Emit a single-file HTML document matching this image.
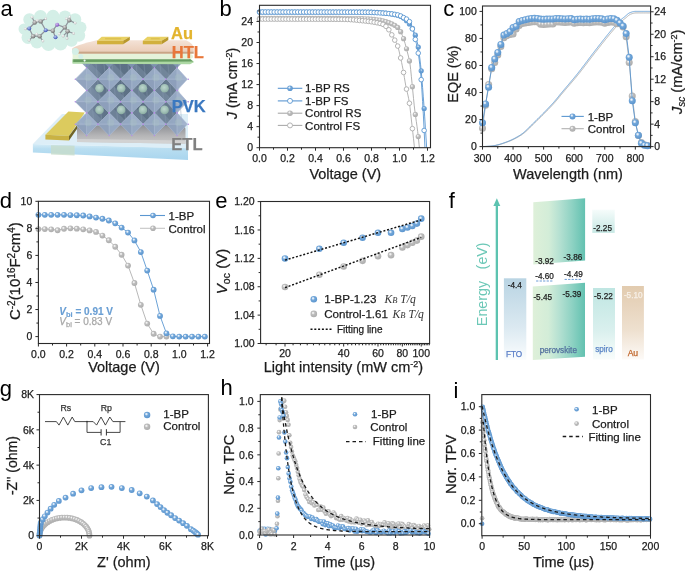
<!DOCTYPE html>
<html><head><meta charset="utf-8"><style>
html,body{margin:0;padding:0;background:#fff;overflow:hidden;}
svg{display:block;will-change:transform;}
</style></head><body>
<svg width="685" height="571" viewBox="0 0 685 571">
<rect width="685" height="571" fill="#fff"/>
<defs>
<radialGradient id="gb" cx="0.42" cy="0.4" r="0.6" fx="0.38" fy="0.34">
 <stop offset="0" stop-color="#f4f8fc"/><stop offset="0.2" stop-color="#d2e3f4"/><stop offset="0.42" stop-color="#74a8da"/><stop offset="1" stop-color="#5b95ce"/>
</radialGradient>
<radialGradient id="gg" cx="0.42" cy="0.4" r="0.6" fx="0.38" fy="0.34">
 <stop offset="0" stop-color="#fafafa"/><stop offset="0.2" stop-color="#e6e6e6"/><stop offset="0.42" stop-color="#bdbdbd"/><stop offset="1" stop-color="#adadad"/>
</radialGradient>
</defs>
<text x="0.4" y="15.5" font-size="22" fill="#000" font-family="'Liberation Sans', sans-serif">a</text>
<text x="219.5" y="15.5" font-size="22" fill="#000" font-family="'Liberation Sans', sans-serif">b</text>
<text x="443.2" y="16.0" font-size="22" fill="#000" font-family="'Liberation Sans', sans-serif">c</text>
<text x="-0.2" y="207.7" font-size="22" fill="#000" font-family="'Liberation Sans', sans-serif">d</text>
<text x="215.3" y="207.7" font-size="22" fill="#000" font-family="'Liberation Sans', sans-serif">e</text>
<text x="448.7" y="207.8" font-size="22" fill="#000" font-family="'Liberation Sans', sans-serif">f</text>
<text x="-0.3" y="395.8" font-size="22" fill="#000" font-family="'Liberation Sans', sans-serif">g</text>
<text x="220.5" y="395.4" font-size="22" fill="#000" font-family="'Liberation Sans', sans-serif">h</text>
<text x="453.5" y="398" font-size="22" fill="#000" font-family="'Liberation Sans', sans-serif">i</text>
<polyline points="259.5,18.3 260.2,18.31 260.9,18.31 261.6,18.31 262.3,18.31 263,18.31 263.7,18.31 264.4,18.32 265.1,18.32 265.8,18.32 266.5,18.32 267.2,18.32 267.9,18.32 268.6,18.33 269.3,18.33 270,18.33 270.7,18.33 271.4,18.33 272.1,18.33 272.8,18.33 273.5,18.34 274.2,18.34 274.9,18.34 275.6,18.34 276.3,18.34 277,18.34 277.7,18.34 278.4,18.34 279.1,18.34 279.8,18.35 280.5,18.35 281.2,18.35 281.9,18.35 282.6,18.35 283.3,18.35 284,18.35 284.7,18.35 285.4,18.35 286.1,18.36 286.8,18.36 287.5,18.36 288.2,18.36 288.9,18.36 289.6,18.36 290.3,18.36 291,18.36 291.7,18.36 292.4,18.36 293.1,18.37 293.8,18.37 294.5,18.37 295.2,18.37 295.9,18.37 296.6,18.37 297.3,18.37 298,18.37 298.7,18.37 299.4,18.38 300.1,18.38 300.8,18.38 301.5,18.38 302.2,18.38 302.9,18.38 303.6,18.38 304.3,18.38 305,18.38 305.7,18.39 306.4,18.39 307.1,18.39 307.8,18.39 308.5,18.39 309.2,18.39 309.9,18.39 310.6,18.39 311.3,18.39 312,18.4 312.7,18.4 313.4,18.4 314.1,18.4 314.8,18.4 315.5,18.4 316.2,18.4 316.9,18.41 317.6,18.41 318.3,18.41 319,18.41 319.7,18.41 320.4,18.41 321.1,18.42 321.8,18.42 322.5,18.42 323.2,18.42 323.9,18.42 324.6,18.42 325.3,18.43 326,18.43 326.7,18.43 327.4,18.43 328.1,18.43 328.8,18.44 329.5,18.44 330.2,18.44 330.9,18.44 331.6,18.45 332.3,18.45 333,18.45 333.7,18.45 334.4,18.45 335.1,18.46 335.8,18.46 336.5,18.46 337.2,18.46 337.9,18.47 338.6,18.47 339.3,18.47 340,18.48 340.7,18.48 341.4,18.48 342.1,18.48 342.8,18.49 343.5,18.49 344.2,18.49 344.9,18.5 345.6,18.5 346.3,18.5 347,18.51 347.7,18.51 348.4,18.51 349.1,18.52 349.8,18.52 350.5,18.53 351.2,18.53 351.9,18.53 352.6,18.54 353.3,18.54 354,18.55 354.7,18.55 355.4,18.55 356.1,18.56 356.8,18.56 357.5,18.57 358.2,18.57 358.9,18.58 359.6,18.59 360.3,18.61 361,18.63 361.7,18.65 362.4,18.67 363.1,18.7 363.8,18.73 364.5,18.76 365.2,18.79 365.9,18.83 366.6,18.87 367.3,18.91 368,18.95 368.7,19 369.4,19.05 370.1,19.1 370.8,19.15 371.5,19.21 372.2,19.27 372.9,19.33 373.6,19.39 374.3,19.46 375,19.52 375.7,19.59 376.4,19.66 377.1,19.73 377.8,19.81 378.5,19.88 379.2,19.97 379.9,20.08 380.6,20.2 381.3,20.35 382,20.51 382.7,20.68 383.4,20.88 384.1,21.08 384.8,21.29 385.5,21.52 386.2,21.76 386.9,22 387.6,22.25 388.3,22.51 389,22.77 389.7,23.04 390.4,23.31 391.1,23.58 391.8,23.87 392.5,24.18 393.2,24.5 393.9,24.86 394.6,25.24 395.3,25.66 396,26.11 396.7,26.62 397.4,27.17 398.1,27.77 398.8,28.57 399.5,29.63 400.2,30.88 400.9,32.23 401.6,33.67 402.3,35.3 403,37.1 403.7,39.05 404.4,41.16 405.1,43.51 405.8,46.05 406.5,48.74 407.2,51.48 407.9,54.15 408.6,56.95 409.3,60.17 410,64.07 410.7,69.67 411.4,76.77 412.1,83.85 412.8,91.02 413.5,98.33 414.2,105.21 414.9,111.2 415.6,116.45 416.3,121.36 417,126.31 417.7,131.67 418.4,137.9 419.1,144.91 419.38,147.7" fill="none" stroke="#a9a9a9" stroke-width="0.9" stroke-linejoin="round" />
<circle cx="259.5" cy="18.3" r="2.6" fill="url(#gg)"/>
<circle cx="262.44" cy="18.31" r="2.6" fill="url(#gg)"/>
<circle cx="265.38" cy="18.32" r="2.6" fill="url(#gg)"/>
<circle cx="268.32" cy="18.32" r="2.6" fill="url(#gg)"/>
<circle cx="271.26" cy="18.33" r="2.6" fill="url(#gg)"/>
<circle cx="274.2" cy="18.34" r="2.6" fill="url(#gg)"/>
<circle cx="277.14" cy="18.34" r="2.6" fill="url(#gg)"/>
<circle cx="280.08" cy="18.35" r="2.6" fill="url(#gg)"/>
<circle cx="283.02" cy="18.35" r="2.6" fill="url(#gg)"/>
<circle cx="285.96" cy="18.36" r="2.6" fill="url(#gg)"/>
<circle cx="288.9" cy="18.36" r="2.6" fill="url(#gg)"/>
<circle cx="291.84" cy="18.36" r="2.6" fill="url(#gg)"/>
<circle cx="294.78" cy="18.37" r="2.6" fill="url(#gg)"/>
<circle cx="297.72" cy="18.37" r="2.6" fill="url(#gg)"/>
<circle cx="300.66" cy="18.38" r="2.6" fill="url(#gg)"/>
<circle cx="303.6" cy="18.38" r="2.6" fill="url(#gg)"/>
<circle cx="306.54" cy="18.39" r="2.6" fill="url(#gg)"/>
<circle cx="309.48" cy="18.39" r="2.6" fill="url(#gg)"/>
<circle cx="312.42" cy="18.4" r="2.6" fill="url(#gg)"/>
<circle cx="315.36" cy="18.4" r="2.6" fill="url(#gg)"/>
<circle cx="318.3" cy="18.41" r="2.6" fill="url(#gg)"/>
<circle cx="321.24" cy="18.42" r="2.6" fill="url(#gg)"/>
<circle cx="324.18" cy="18.42" r="2.6" fill="url(#gg)"/>
<circle cx="327.12" cy="18.43" r="2.6" fill="url(#gg)"/>
<circle cx="330.06" cy="18.44" r="2.6" fill="url(#gg)"/>
<circle cx="333" cy="18.45" r="2.6" fill="url(#gg)"/>
<circle cx="335.94" cy="18.46" r="2.6" fill="url(#gg)"/>
<circle cx="338.88" cy="18.47" r="2.6" fill="url(#gg)"/>
<circle cx="341.82" cy="18.48" r="2.6" fill="url(#gg)"/>
<circle cx="344.76" cy="18.5" r="2.6" fill="url(#gg)"/>
<circle cx="347.7" cy="18.51" r="2.6" fill="url(#gg)"/>
<circle cx="350.64" cy="18.53" r="2.6" fill="url(#gg)"/>
<circle cx="353.58" cy="18.54" r="2.6" fill="url(#gg)"/>
<circle cx="356.52" cy="18.56" r="2.6" fill="url(#gg)"/>
<circle cx="359.46" cy="18.59" r="2.6" fill="url(#gg)"/>
<circle cx="362.4" cy="18.67" r="2.6" fill="url(#gg)"/>
<circle cx="365.34" cy="18.8" r="2.6" fill="url(#gg)"/>
<circle cx="368.28" cy="18.97" r="2.6" fill="url(#gg)"/>
<circle cx="371.22" cy="19.19" r="2.6" fill="url(#gg)"/>
<circle cx="374.16" cy="19.44" r="2.6" fill="url(#gg)"/>
<circle cx="377.1" cy="19.73" r="2.6" fill="url(#gg)"/>
<circle cx="380.04" cy="20.1" r="2.6" fill="url(#gg)"/>
<circle cx="382.98" cy="20.76" r="2.6" fill="url(#gg)"/>
<circle cx="385.92" cy="21.66" r="2.6" fill="url(#gg)"/>
<circle cx="388.86" cy="22.72" r="2.6" fill="url(#gg)"/>
<circle cx="391.8" cy="23.87" r="2.6" fill="url(#gg)"/>
<circle cx="394.74" cy="25.32" r="2.6" fill="url(#gg)"/>
<circle cx="397.68" cy="27.4" r="2.6" fill="url(#gg)"/>
<circle cx="400.62" cy="31.69" r="2.6" fill="url(#gg)"/>
<circle cx="403.56" cy="38.65" r="2.6" fill="url(#gg)"/>
<circle cx="406.5" cy="48.74" r="2.6" fill="url(#gg)"/>
<circle cx="409.44" cy="60.88" r="2.6" fill="url(#gg)"/>
<circle cx="412.38" cy="86.67" r="2.6" fill="url(#gg)"/>
<circle cx="415.32" cy="114.41" r="2.6" fill="url(#gg)"/>
<circle cx="418.26" cy="136.56" r="2.6" fill="url(#gg)"/>
<polyline points="259.5,19.09 260.2,19.1 260.9,19.1 261.6,19.1 262.3,19.1 263,19.1 263.7,19.11 264.4,19.11 265.1,19.11 265.8,19.11 266.5,19.11 267.2,19.11 267.9,19.12 268.6,19.12 269.3,19.12 270,19.12 270.7,19.12 271.4,19.12 272.1,19.13 272.8,19.13 273.5,19.13 274.2,19.13 274.9,19.13 275.6,19.13 276.3,19.13 277,19.14 277.7,19.14 278.4,19.14 279.1,19.14 279.8,19.14 280.5,19.14 281.2,19.14 281.9,19.14 282.6,19.15 283.3,19.15 284,19.15 284.7,19.15 285.4,19.15 286.1,19.15 286.8,19.15 287.5,19.15 288.2,19.16 288.9,19.16 289.6,19.16 290.3,19.16 291,19.16 291.7,19.16 292.4,19.16 293.1,19.16 293.8,19.17 294.5,19.17 295.2,19.17 295.9,19.17 296.6,19.17 297.3,19.17 298,19.17 298.7,19.17 299.4,19.18 300.1,19.18 300.8,19.18 301.5,19.18 302.2,19.18 302.9,19.18 303.6,19.18 304.3,19.19 305,19.19 305.7,19.19 306.4,19.19 307.1,19.19 307.8,19.19 308.5,19.2 309.2,19.2 309.9,19.2 310.6,19.2 311.3,19.2 312,19.21 312.7,19.21 313.4,19.21 314.1,19.21 314.8,19.21 315.5,19.22 316.2,19.22 316.9,19.22 317.6,19.22 318.3,19.22 319,19.23 319.7,19.23 320.4,19.23 321.1,19.23 321.8,19.24 322.5,19.24 323.2,19.24 323.9,19.25 324.6,19.25 325.3,19.25 326,19.25 326.7,19.26 327.4,19.26 328.1,19.26 328.8,19.27 329.5,19.27 330.2,19.27 330.9,19.28 331.6,19.28 332.3,19.29 333,19.29 333.7,19.29 334.4,19.3 335.1,19.3 335.8,19.3 336.5,19.31 337.2,19.31 337.9,19.32 338.6,19.32 339.3,19.33 340,19.33 340.7,19.34 341.4,19.34 342.1,19.35 342.8,19.35 343.5,19.36 344.2,19.36 344.9,19.38 345.6,19.39 346.3,19.42 347,19.44 347.7,19.47 348.4,19.51 349.1,19.54 349.8,19.59 350.5,19.63 351.2,19.68 351.9,19.73 352.6,19.78 353.3,19.84 354,19.9 354.7,19.96 355.4,20.02 356.1,20.09 356.8,20.15 357.5,20.22 358.2,20.29 358.9,20.36 359.6,20.43 360.3,20.5 361,20.57 361.7,20.65 362.4,20.72 363.1,20.79 363.8,20.86 364.5,20.93 365.2,21.01 365.9,21.08 366.6,21.16 367.3,21.24 368,21.33 368.7,21.41 369.4,21.51 370.1,21.6 370.8,21.7 371.5,21.8 372.2,21.91 372.9,22.02 373.6,22.14 374.3,22.26 375,22.38 375.7,22.51 376.4,22.64 377.1,22.78 377.8,22.92 378.5,23.06 379.2,23.22 379.9,23.39 380.6,23.58 381.3,23.79 382,24.02 382.7,24.27 383.4,24.56 384.1,24.9 384.8,25.38 385.5,25.96 386.2,26.63 386.9,27.37 387.6,28.16 388.3,29 389,29.98 389.7,31.12 390.4,32.36 391.1,33.62 391.8,34.85 392.5,36.07 393.2,37.31 393.9,38.57 394.6,39.87 395.3,41.13 396,42.36 396.7,43.7 397.4,45.3 398.1,47.36 398.8,50 399.5,52.99 400.2,56.09 400.9,59.18 401.6,62.42 402.3,65.83 403,69.42 403.7,73.28 404.4,77.59 405.1,81.93 405.8,85.83 406.5,89.1 407.2,92.04 407.9,94.99 408.6,98.29 409.3,102.29 410,107.52 410.7,113.62 411.4,119.98 412.1,126.13 412.8,132.41 413.5,138.78 414.2,145.17 414.48,147.7" fill="none" stroke="#ababab" stroke-width="0.9" stroke-linejoin="round" />
<circle cx="259.5" cy="19.09" r="2.3" fill="#fff" stroke="#ababab" stroke-width="0.9"/>
<circle cx="262.44" cy="19.1" r="2.3" fill="#fff" stroke="#ababab" stroke-width="0.9"/>
<circle cx="265.38" cy="19.11" r="2.3" fill="#fff" stroke="#ababab" stroke-width="0.9"/>
<circle cx="268.32" cy="19.12" r="2.3" fill="#fff" stroke="#ababab" stroke-width="0.9"/>
<circle cx="271.26" cy="19.12" r="2.3" fill="#fff" stroke="#ababab" stroke-width="0.9"/>
<circle cx="274.2" cy="19.13" r="2.3" fill="#fff" stroke="#ababab" stroke-width="0.9"/>
<circle cx="277.14" cy="19.14" r="2.3" fill="#fff" stroke="#ababab" stroke-width="0.9"/>
<circle cx="280.08" cy="19.14" r="2.3" fill="#fff" stroke="#ababab" stroke-width="0.9"/>
<circle cx="283.02" cy="19.15" r="2.3" fill="#fff" stroke="#ababab" stroke-width="0.9"/>
<circle cx="285.96" cy="19.15" r="2.3" fill="#fff" stroke="#ababab" stroke-width="0.9"/>
<circle cx="288.9" cy="19.16" r="2.3" fill="#fff" stroke="#ababab" stroke-width="0.9"/>
<circle cx="291.84" cy="19.16" r="2.3" fill="#fff" stroke="#ababab" stroke-width="0.9"/>
<circle cx="294.78" cy="19.17" r="2.3" fill="#fff" stroke="#ababab" stroke-width="0.9"/>
<circle cx="297.72" cy="19.17" r="2.3" fill="#fff" stroke="#ababab" stroke-width="0.9"/>
<circle cx="300.66" cy="19.18" r="2.3" fill="#fff" stroke="#ababab" stroke-width="0.9"/>
<circle cx="303.6" cy="19.18" r="2.3" fill="#fff" stroke="#ababab" stroke-width="0.9"/>
<circle cx="306.54" cy="19.19" r="2.3" fill="#fff" stroke="#ababab" stroke-width="0.9"/>
<circle cx="309.48" cy="19.2" r="2.3" fill="#fff" stroke="#ababab" stroke-width="0.9"/>
<circle cx="312.42" cy="19.21" r="2.3" fill="#fff" stroke="#ababab" stroke-width="0.9"/>
<circle cx="315.36" cy="19.22" r="2.3" fill="#fff" stroke="#ababab" stroke-width="0.9"/>
<circle cx="318.3" cy="19.22" r="2.3" fill="#fff" stroke="#ababab" stroke-width="0.9"/>
<circle cx="321.24" cy="19.24" r="2.3" fill="#fff" stroke="#ababab" stroke-width="0.9"/>
<circle cx="324.18" cy="19.25" r="2.3" fill="#fff" stroke="#ababab" stroke-width="0.9"/>
<circle cx="327.12" cy="19.26" r="2.3" fill="#fff" stroke="#ababab" stroke-width="0.9"/>
<circle cx="330.06" cy="19.27" r="2.3" fill="#fff" stroke="#ababab" stroke-width="0.9"/>
<circle cx="333" cy="19.29" r="2.3" fill="#fff" stroke="#ababab" stroke-width="0.9"/>
<circle cx="335.94" cy="19.31" r="2.3" fill="#fff" stroke="#ababab" stroke-width="0.9"/>
<circle cx="338.88" cy="19.32" r="2.3" fill="#fff" stroke="#ababab" stroke-width="0.9"/>
<circle cx="341.82" cy="19.34" r="2.3" fill="#fff" stroke="#ababab" stroke-width="0.9"/>
<circle cx="344.76" cy="19.37" r="2.3" fill="#fff" stroke="#ababab" stroke-width="0.9"/>
<circle cx="347.7" cy="19.47" r="2.3" fill="#fff" stroke="#ababab" stroke-width="0.9"/>
<circle cx="350.64" cy="19.64" r="2.3" fill="#fff" stroke="#ababab" stroke-width="0.9"/>
<circle cx="353.58" cy="19.86" r="2.3" fill="#fff" stroke="#ababab" stroke-width="0.9"/>
<circle cx="356.52" cy="20.13" r="2.3" fill="#fff" stroke="#ababab" stroke-width="0.9"/>
<circle cx="359.46" cy="20.42" r="2.3" fill="#fff" stroke="#ababab" stroke-width="0.9"/>
<circle cx="362.4" cy="20.72" r="2.3" fill="#fff" stroke="#ababab" stroke-width="0.9"/>
<circle cx="365.34" cy="21.02" r="2.3" fill="#fff" stroke="#ababab" stroke-width="0.9"/>
<circle cx="368.28" cy="21.36" r="2.3" fill="#fff" stroke="#ababab" stroke-width="0.9"/>
<circle cx="371.22" cy="21.76" r="2.3" fill="#fff" stroke="#ababab" stroke-width="0.9"/>
<circle cx="374.16" cy="22.23" r="2.3" fill="#fff" stroke="#ababab" stroke-width="0.9"/>
<circle cx="377.1" cy="22.78" r="2.3" fill="#fff" stroke="#ababab" stroke-width="0.9"/>
<circle cx="380.04" cy="23.43" r="2.3" fill="#fff" stroke="#ababab" stroke-width="0.9"/>
<circle cx="382.98" cy="24.38" r="2.3" fill="#fff" stroke="#ababab" stroke-width="0.9"/>
<circle cx="385.92" cy="26.35" r="2.3" fill="#fff" stroke="#ababab" stroke-width="0.9"/>
<circle cx="388.86" cy="29.77" r="2.3" fill="#fff" stroke="#ababab" stroke-width="0.9"/>
<circle cx="391.8" cy="34.85" r="2.3" fill="#fff" stroke="#ababab" stroke-width="0.9"/>
<circle cx="394.74" cy="40.13" r="2.3" fill="#fff" stroke="#ababab" stroke-width="0.9"/>
<circle cx="397.68" cy="46.04" r="2.3" fill="#fff" stroke="#ababab" stroke-width="0.9"/>
<circle cx="400.62" cy="57.93" r="2.3" fill="#fff" stroke="#ababab" stroke-width="0.9"/>
<circle cx="403.56" cy="72.46" r="2.3" fill="#fff" stroke="#ababab" stroke-width="0.9"/>
<circle cx="406.5" cy="89.1" r="2.3" fill="#fff" stroke="#ababab" stroke-width="0.9"/>
<circle cx="409.44" cy="103.24" r="2.3" fill="#fff" stroke="#ababab" stroke-width="0.9"/>
<circle cx="412.38" cy="128.63" r="2.3" fill="#fff" stroke="#ababab" stroke-width="0.9"/>
<polyline points="259.5,11.99 260.2,11.99 260.9,11.99 261.6,11.99 262.3,11.99 263,11.99 263.7,11.99 264.4,11.99 265.1,11.99 265.8,11.99 266.5,11.99 267.2,11.99 267.9,11.99 268.6,11.99 269.3,11.99 270,11.99 270.7,11.99 271.4,11.99 272.1,11.99 272.8,11.99 273.5,11.99 274.2,11.99 274.9,11.99 275.6,11.99 276.3,11.99 277,11.99 277.7,11.99 278.4,11.99 279.1,11.99 279.8,11.99 280.5,11.99 281.2,11.99 281.9,11.99 282.6,11.99 283.3,11.99 284,11.99 284.7,11.99 285.4,11.99 286.1,11.99 286.8,11.99 287.5,11.99 288.2,11.99 288.9,11.99 289.6,11.99 290.3,11.99 291,11.99 291.7,11.99 292.4,11.99 293.1,11.99 293.8,11.99 294.5,11.99 295.2,11.99 295.9,11.99 296.6,11.99 297.3,11.99 298,11.99 298.7,11.99 299.4,11.99 300.1,11.99 300.8,11.99 301.5,11.99 302.2,11.99 302.9,11.99 303.6,11.99 304.3,11.99 305,11.99 305.7,11.99 306.4,11.99 307.1,11.99 307.8,11.99 308.5,11.99 309.2,11.99 309.9,11.99 310.6,11.99 311.3,11.99 312,11.99 312.7,11.99 313.4,11.99 314.1,11.99 314.8,11.99 315.5,11.99 316.2,11.99 316.9,11.99 317.6,11.99 318.3,11.99 319,11.99 319.7,11.99 320.4,11.99 321.1,11.99 321.8,11.99 322.5,11.99 323.2,11.99 323.9,11.99 324.6,11.99 325.3,11.99 326,11.99 326.7,11.99 327.4,11.99 328.1,11.99 328.8,11.99 329.5,11.99 330.2,11.99 330.9,11.99 331.6,11.99 332.3,11.99 333,11.99 333.7,11.99 334.4,11.99 335.1,11.99 335.8,11.99 336.5,11.99 337.2,11.99 337.9,11.99 338.6,11.99 339.3,11.99 340,11.99 340.7,11.99 341.4,11.99 342.1,11.99 342.8,11.99 343.5,11.99 344.2,11.99 344.9,11.99 345.6,11.99 346.3,11.99 347,11.99 347.7,11.99 348.4,11.99 349.1,11.99 349.8,11.99 350.5,11.99 351.2,11.99 351.9,11.99 352.6,11.99 353.3,11.99 354,11.99 354.7,11.99 355.4,11.99 356.1,11.99 356.8,11.99 357.5,11.99 358.2,11.99 358.9,11.99 359.6,12 360.3,12 361,12.01 361.7,12.01 362.4,12.02 363.1,12.03 363.8,12.04 364.5,12.05 365.2,12.06 365.9,12.08 366.6,12.09 367.3,12.1 368,12.12 368.7,12.14 369.4,12.15 370.1,12.17 370.8,12.19 371.5,12.21 372.2,12.23 372.9,12.26 373.6,12.28 374.3,12.3 375,12.33 375.7,12.35 376.4,12.38 377.1,12.4 377.8,12.43 378.5,12.46 379.2,12.49 379.9,12.52 380.6,12.55 381.3,12.59 382,12.64 382.7,12.7 383.4,12.77 384.1,12.84 384.8,12.92 385.5,13 386.2,13.1 386.9,13.19 387.6,13.29 388.3,13.4 389,13.51 389.7,13.62 390.4,13.73 391.1,13.85 391.8,13.97 392.5,14.1 393.2,14.22 393.9,14.36 394.6,14.5 395.3,14.65 396,14.82 396.7,15 397.4,15.19 398.1,15.4 398.8,15.62 399.5,15.87 400.2,16.13 400.9,16.41 401.6,16.74 402.3,17.15 403,17.61 403.7,18.14 404.4,18.72 405.1,19.35 405.8,20.02 406.5,20.72 407.2,21.45 407.9,22.2 408.6,22.98 409.3,23.81 410,24.71 410.7,25.68 411.4,26.74 412.1,27.9 412.8,29.17 413.5,30.56 414.2,32.09 414.9,33.9 415.6,36.01 416.3,38.45 417,41.21 417.7,44.32 418.4,47.92 419.1,52.54 419.8,58.02 420.5,64.13 421.2,70.85 421.9,78.75 422.6,87.55 423.3,96.85 424,106.48 424.7,116.93 425.4,127.9 426.1,138.99 426.66,147.7" fill="none" stroke="#5b97d1" stroke-width="0.9" stroke-linejoin="round" />
<circle cx="259.5" cy="11.99" r="2.6" fill="url(#gb)"/>
<circle cx="262.44" cy="11.99" r="2.6" fill="url(#gb)"/>
<circle cx="265.38" cy="11.99" r="2.6" fill="url(#gb)"/>
<circle cx="268.32" cy="11.99" r="2.6" fill="url(#gb)"/>
<circle cx="271.26" cy="11.99" r="2.6" fill="url(#gb)"/>
<circle cx="274.2" cy="11.99" r="2.6" fill="url(#gb)"/>
<circle cx="277.14" cy="11.99" r="2.6" fill="url(#gb)"/>
<circle cx="280.08" cy="11.99" r="2.6" fill="url(#gb)"/>
<circle cx="283.02" cy="11.99" r="2.6" fill="url(#gb)"/>
<circle cx="285.96" cy="11.99" r="2.6" fill="url(#gb)"/>
<circle cx="288.9" cy="11.99" r="2.6" fill="url(#gb)"/>
<circle cx="291.84" cy="11.99" r="2.6" fill="url(#gb)"/>
<circle cx="294.78" cy="11.99" r="2.6" fill="url(#gb)"/>
<circle cx="297.72" cy="11.99" r="2.6" fill="url(#gb)"/>
<circle cx="300.66" cy="11.99" r="2.6" fill="url(#gb)"/>
<circle cx="303.6" cy="11.99" r="2.6" fill="url(#gb)"/>
<circle cx="306.54" cy="11.99" r="2.6" fill="url(#gb)"/>
<circle cx="309.48" cy="11.99" r="2.6" fill="url(#gb)"/>
<circle cx="312.42" cy="11.99" r="2.6" fill="url(#gb)"/>
<circle cx="315.36" cy="11.99" r="2.6" fill="url(#gb)"/>
<circle cx="318.3" cy="11.99" r="2.6" fill="url(#gb)"/>
<circle cx="321.24" cy="11.99" r="2.6" fill="url(#gb)"/>
<circle cx="324.18" cy="11.99" r="2.6" fill="url(#gb)"/>
<circle cx="327.12" cy="11.99" r="2.6" fill="url(#gb)"/>
<circle cx="330.06" cy="11.99" r="2.6" fill="url(#gb)"/>
<circle cx="333" cy="11.99" r="2.6" fill="url(#gb)"/>
<circle cx="335.94" cy="11.99" r="2.6" fill="url(#gb)"/>
<circle cx="338.88" cy="11.99" r="2.6" fill="url(#gb)"/>
<circle cx="341.82" cy="11.99" r="2.6" fill="url(#gb)"/>
<circle cx="344.76" cy="11.99" r="2.6" fill="url(#gb)"/>
<circle cx="347.7" cy="11.99" r="2.6" fill="url(#gb)"/>
<circle cx="350.64" cy="11.99" r="2.6" fill="url(#gb)"/>
<circle cx="353.58" cy="11.99" r="2.6" fill="url(#gb)"/>
<circle cx="356.52" cy="11.99" r="2.6" fill="url(#gb)"/>
<circle cx="359.46" cy="12" r="2.6" fill="url(#gb)"/>
<circle cx="362.4" cy="12.02" r="2.6" fill="url(#gb)"/>
<circle cx="365.34" cy="12.06" r="2.6" fill="url(#gb)"/>
<circle cx="368.28" cy="12.13" r="2.6" fill="url(#gb)"/>
<circle cx="371.22" cy="12.2" r="2.6" fill="url(#gb)"/>
<circle cx="374.16" cy="12.3" r="2.6" fill="url(#gb)"/>
<circle cx="377.1" cy="12.4" r="2.6" fill="url(#gb)"/>
<circle cx="380.04" cy="12.52" r="2.6" fill="url(#gb)"/>
<circle cx="382.98" cy="12.73" r="2.6" fill="url(#gb)"/>
<circle cx="385.92" cy="13.06" r="2.6" fill="url(#gb)"/>
<circle cx="388.86" cy="13.48" r="2.6" fill="url(#gb)"/>
<circle cx="391.8" cy="13.97" r="2.6" fill="url(#gb)"/>
<circle cx="394.74" cy="14.53" r="2.6" fill="url(#gb)"/>
<circle cx="397.68" cy="15.27" r="2.6" fill="url(#gb)"/>
<circle cx="400.62" cy="16.29" r="2.6" fill="url(#gb)"/>
<circle cx="403.56" cy="18.03" r="2.6" fill="url(#gb)"/>
<circle cx="406.5" cy="20.72" r="2.6" fill="url(#gb)"/>
<circle cx="409.44" cy="23.99" r="2.6" fill="url(#gb)"/>
<circle cx="412.38" cy="28.39" r="2.6" fill="url(#gb)"/>
<circle cx="415.32" cy="35.13" r="2.6" fill="url(#gb)"/>
<circle cx="418.26" cy="47.12" r="2.6" fill="url(#gb)"/>
<circle cx="421.2" cy="70.85" r="2.6" fill="url(#gb)"/>
<circle cx="424.14" cy="108.51" r="2.6" fill="url(#gb)"/>
<polyline points="259.5,11.99 260.2,11.99 260.9,12 261.6,12 262.3,12 263,12 263.7,12 264.4,12 265.1,12.01 265.8,12.01 266.5,12.01 267.2,12.01 267.9,12.01 268.6,12.01 269.3,12.01 270,12.02 270.7,12.02 271.4,12.02 272.1,12.02 272.8,12.02 273.5,12.02 274.2,12.02 274.9,12.02 275.6,12.03 276.3,12.03 277,12.03 277.7,12.03 278.4,12.03 279.1,12.03 279.8,12.03 280.5,12.03 281.2,12.03 281.9,12.04 282.6,12.04 283.3,12.04 284,12.04 284.7,12.04 285.4,12.04 286.1,12.04 286.8,12.04 287.5,12.04 288.2,12.04 288.9,12.05 289.6,12.05 290.3,12.05 291,12.05 291.7,12.05 292.4,12.05 293.1,12.05 293.8,12.05 294.5,12.05 295.2,12.05 295.9,12.05 296.6,12.06 297.3,12.06 298,12.06 298.7,12.06 299.4,12.06 300.1,12.06 300.8,12.06 301.5,12.06 302.2,12.06 302.9,12.06 303.6,12.07 304.3,12.07 305,12.07 305.7,12.07 306.4,12.07 307.1,12.07 307.8,12.07 308.5,12.07 309.2,12.07 309.9,12.07 310.6,12.08 311.3,12.08 312,12.08 312.7,12.08 313.4,12.08 314.1,12.08 314.8,12.08 315.5,12.08 316.2,12.09 316.9,12.09 317.6,12.09 318.3,12.09 319,12.09 319.7,12.09 320.4,12.09 321.1,12.09 321.8,12.1 322.5,12.1 323.2,12.1 323.9,12.1 324.6,12.1 325.3,12.1 326,12.11 326.7,12.11 327.4,12.11 328.1,12.11 328.8,12.11 329.5,12.11 330.2,12.12 330.9,12.12 331.6,12.12 332.3,12.12 333,12.12 333.7,12.12 334.4,12.13 335.1,12.13 335.8,12.13 336.5,12.13 337.2,12.13 337.9,12.14 338.6,12.14 339.3,12.14 340,12.14 340.7,12.15 341.4,12.15 342.1,12.15 342.8,12.15 343.5,12.16 344.2,12.16 344.9,12.16 345.6,12.16 346.3,12.17 347,12.17 347.7,12.17 348.4,12.17 349.1,12.18 349.8,12.18 350.5,12.18 351.2,12.19 351.9,12.19 352.6,12.19 353.3,12.2 354,12.2 354.7,12.2 355.4,12.21 356.1,12.21 356.8,12.21 357.5,12.22 358.2,12.22 358.9,12.22 359.6,12.23 360.3,12.23 361,12.23 361.7,12.24 362.4,12.24 363.1,12.25 363.8,12.25 364.5,12.25 365.2,12.26 365.9,12.27 366.6,12.28 367.3,12.29 368,12.31 368.7,12.33 369.4,12.35 370.1,12.37 370.8,12.4 371.5,12.43 372.2,12.46 372.9,12.49 373.6,12.52 374.3,12.56 375,12.6 375.7,12.63 376.4,12.68 377.1,12.72 377.8,12.76 378.5,12.81 379.2,12.85 379.9,12.9 380.6,12.95 381.3,13 382,13.05 382.7,13.1 383.4,13.15 384.1,13.2 384.8,13.25 385.5,13.31 386.2,13.36 386.9,13.42 387.6,13.48 388.3,13.54 389,13.61 389.7,13.68 390.4,13.76 391.1,13.84 391.8,13.92 392.5,14.02 393.2,14.11 393.9,14.22 394.6,14.33 395.3,14.45 396,14.58 396.7,14.72 397.4,14.86 398.1,15.02 398.8,15.18 399.5,15.42 400.2,15.73 400.9,16.09 401.6,16.49 402.3,16.9 403,17.29 403.7,17.66 404.4,17.99 405.1,18.32 405.8,18.68 406.5,19.08 407.2,19.55 407.9,20.08 408.6,20.7 409.3,21.46 410,22.41 410.7,23.93 411.4,25.92 412.1,28.03 412.8,30.21 413.5,32.58 414.2,35.12 414.9,37.78 415.6,40.47 416.3,43.27 417,46.35 417.7,49.87 418.4,54.02 419.1,59 419.8,64.86 420.5,71.62 421.2,79.65 421.9,89.89 422.6,101.61 423.3,113.91 424,127.57 424.7,142.03 424.98,147.7" fill="none" stroke="#5b97d1" stroke-width="0.9" stroke-linejoin="round" />
<circle cx="259.5" cy="11.99" r="2.3" fill="#fff" stroke="#5b97d1" stroke-width="0.9"/>
<circle cx="262.44" cy="12" r="2.3" fill="#fff" stroke="#5b97d1" stroke-width="0.9"/>
<circle cx="265.38" cy="12.01" r="2.3" fill="#fff" stroke="#5b97d1" stroke-width="0.9"/>
<circle cx="268.32" cy="12.01" r="2.3" fill="#fff" stroke="#5b97d1" stroke-width="0.9"/>
<circle cx="271.26" cy="12.02" r="2.3" fill="#fff" stroke="#5b97d1" stroke-width="0.9"/>
<circle cx="274.2" cy="12.02" r="2.3" fill="#fff" stroke="#5b97d1" stroke-width="0.9"/>
<circle cx="277.14" cy="12.03" r="2.3" fill="#fff" stroke="#5b97d1" stroke-width="0.9"/>
<circle cx="280.08" cy="12.03" r="2.3" fill="#fff" stroke="#5b97d1" stroke-width="0.9"/>
<circle cx="283.02" cy="12.04" r="2.3" fill="#fff" stroke="#5b97d1" stroke-width="0.9"/>
<circle cx="285.96" cy="12.04" r="2.3" fill="#fff" stroke="#5b97d1" stroke-width="0.9"/>
<circle cx="288.9" cy="12.05" r="2.3" fill="#fff" stroke="#5b97d1" stroke-width="0.9"/>
<circle cx="291.84" cy="12.05" r="2.3" fill="#fff" stroke="#5b97d1" stroke-width="0.9"/>
<circle cx="294.78" cy="12.05" r="2.3" fill="#fff" stroke="#5b97d1" stroke-width="0.9"/>
<circle cx="297.72" cy="12.06" r="2.3" fill="#fff" stroke="#5b97d1" stroke-width="0.9"/>
<circle cx="300.66" cy="12.06" r="2.3" fill="#fff" stroke="#5b97d1" stroke-width="0.9"/>
<circle cx="303.6" cy="12.07" r="2.3" fill="#fff" stroke="#5b97d1" stroke-width="0.9"/>
<circle cx="306.54" cy="12.07" r="2.3" fill="#fff" stroke="#5b97d1" stroke-width="0.9"/>
<circle cx="309.48" cy="12.07" r="2.3" fill="#fff" stroke="#5b97d1" stroke-width="0.9"/>
<circle cx="312.42" cy="12.08" r="2.3" fill="#fff" stroke="#5b97d1" stroke-width="0.9"/>
<circle cx="315.36" cy="12.08" r="2.3" fill="#fff" stroke="#5b97d1" stroke-width="0.9"/>
<circle cx="318.3" cy="12.09" r="2.3" fill="#fff" stroke="#5b97d1" stroke-width="0.9"/>
<circle cx="321.24" cy="12.09" r="2.3" fill="#fff" stroke="#5b97d1" stroke-width="0.9"/>
<circle cx="324.18" cy="12.1" r="2.3" fill="#fff" stroke="#5b97d1" stroke-width="0.9"/>
<circle cx="327.12" cy="12.11" r="2.3" fill="#fff" stroke="#5b97d1" stroke-width="0.9"/>
<circle cx="330.06" cy="12.11" r="2.3" fill="#fff" stroke="#5b97d1" stroke-width="0.9"/>
<circle cx="333" cy="12.12" r="2.3" fill="#fff" stroke="#5b97d1" stroke-width="0.9"/>
<circle cx="335.94" cy="12.13" r="2.3" fill="#fff" stroke="#5b97d1" stroke-width="0.9"/>
<circle cx="338.88" cy="12.14" r="2.3" fill="#fff" stroke="#5b97d1" stroke-width="0.9"/>
<circle cx="341.82" cy="12.15" r="2.3" fill="#fff" stroke="#5b97d1" stroke-width="0.9"/>
<circle cx="344.76" cy="12.16" r="2.3" fill="#fff" stroke="#5b97d1" stroke-width="0.9"/>
<circle cx="347.7" cy="12.17" r="2.3" fill="#fff" stroke="#5b97d1" stroke-width="0.9"/>
<circle cx="350.64" cy="12.18" r="2.3" fill="#fff" stroke="#5b97d1" stroke-width="0.9"/>
<circle cx="353.58" cy="12.2" r="2.3" fill="#fff" stroke="#5b97d1" stroke-width="0.9"/>
<circle cx="356.52" cy="12.21" r="2.3" fill="#fff" stroke="#5b97d1" stroke-width="0.9"/>
<circle cx="359.46" cy="12.23" r="2.3" fill="#fff" stroke="#5b97d1" stroke-width="0.9"/>
<circle cx="362.4" cy="12.24" r="2.3" fill="#fff" stroke="#5b97d1" stroke-width="0.9"/>
<circle cx="365.34" cy="12.26" r="2.3" fill="#fff" stroke="#5b97d1" stroke-width="0.9"/>
<circle cx="368.28" cy="12.32" r="2.3" fill="#fff" stroke="#5b97d1" stroke-width="0.9"/>
<circle cx="371.22" cy="12.42" r="2.3" fill="#fff" stroke="#5b97d1" stroke-width="0.9"/>
<circle cx="374.16" cy="12.55" r="2.3" fill="#fff" stroke="#5b97d1" stroke-width="0.9"/>
<circle cx="377.1" cy="12.72" r="2.3" fill="#fff" stroke="#5b97d1" stroke-width="0.9"/>
<circle cx="380.04" cy="12.91" r="2.3" fill="#fff" stroke="#5b97d1" stroke-width="0.9"/>
<circle cx="382.98" cy="13.12" r="2.3" fill="#fff" stroke="#5b97d1" stroke-width="0.9"/>
<circle cx="385.92" cy="13.34" r="2.3" fill="#fff" stroke="#5b97d1" stroke-width="0.9"/>
<circle cx="388.86" cy="13.6" r="2.3" fill="#fff" stroke="#5b97d1" stroke-width="0.9"/>
<circle cx="391.8" cy="13.92" r="2.3" fill="#fff" stroke="#5b97d1" stroke-width="0.9"/>
<circle cx="394.74" cy="14.36" r="2.3" fill="#fff" stroke="#5b97d1" stroke-width="0.9"/>
<circle cx="397.68" cy="14.92" r="2.3" fill="#fff" stroke="#5b97d1" stroke-width="0.9"/>
<circle cx="400.62" cy="15.94" r="2.3" fill="#fff" stroke="#5b97d1" stroke-width="0.9"/>
<circle cx="403.56" cy="17.59" r="2.3" fill="#fff" stroke="#5b97d1" stroke-width="0.9"/>
<circle cx="406.5" cy="19.08" r="2.3" fill="#fff" stroke="#5b97d1" stroke-width="0.9"/>
<circle cx="409.44" cy="21.63" r="2.3" fill="#fff" stroke="#5b97d1" stroke-width="0.9"/>
<circle cx="412.38" cy="28.88" r="2.3" fill="#fff" stroke="#5b97d1" stroke-width="0.9"/>
<circle cx="415.32" cy="39.39" r="2.3" fill="#fff" stroke="#5b97d1" stroke-width="0.9"/>
<circle cx="418.26" cy="53.13" r="2.3" fill="#fff" stroke="#5b97d1" stroke-width="0.9"/>
<circle cx="421.2" cy="79.65" r="2.3" fill="#fff" stroke="#5b97d1" stroke-width="0.9"/>
<circle cx="424.14" cy="130.44" r="2.3" fill="#fff" stroke="#5b97d1" stroke-width="0.9"/>
<rect x="259.5" y="5.3" width="171" height="142.4" fill="none" stroke="#2a2a2a" stroke-width="1.1"/>
<line x1="259.5" y1="147.7" x2="259.5" y2="150.7" stroke="#2a2a2a" stroke-width="1" />
<line x1="287.5" y1="147.7" x2="287.5" y2="150.7" stroke="#2a2a2a" stroke-width="1" />
<line x1="315.5" y1="147.7" x2="315.5" y2="150.7" stroke="#2a2a2a" stroke-width="1" />
<line x1="343.5" y1="147.7" x2="343.5" y2="150.7" stroke="#2a2a2a" stroke-width="1" />
<line x1="371.5" y1="147.7" x2="371.5" y2="150.7" stroke="#2a2a2a" stroke-width="1" />
<line x1="399.5" y1="147.7" x2="399.5" y2="150.7" stroke="#2a2a2a" stroke-width="1" />
<line x1="427.5" y1="147.7" x2="427.5" y2="150.7" stroke="#2a2a2a" stroke-width="1" />
<line x1="273.5" y1="147.7" x2="273.5" y2="149.7" stroke="#2a2a2a" stroke-width="1" />
<line x1="301.5" y1="147.7" x2="301.5" y2="149.7" stroke="#2a2a2a" stroke-width="1" />
<line x1="329.5" y1="147.7" x2="329.5" y2="149.7" stroke="#2a2a2a" stroke-width="1" />
<line x1="357.5" y1="147.7" x2="357.5" y2="149.7" stroke="#2a2a2a" stroke-width="1" />
<line x1="385.5" y1="147.7" x2="385.5" y2="149.7" stroke="#2a2a2a" stroke-width="1" />
<line x1="413.5" y1="147.7" x2="413.5" y2="149.7" stroke="#2a2a2a" stroke-width="1" />
<line x1="259.5" y1="147.7" x2="256.5" y2="147.7" stroke="#2a2a2a" stroke-width="1" />
<line x1="259.5" y1="126.66" x2="256.5" y2="126.66" stroke="#2a2a2a" stroke-width="1" />
<line x1="259.5" y1="105.62" x2="256.5" y2="105.62" stroke="#2a2a2a" stroke-width="1" />
<line x1="259.5" y1="84.58" x2="256.5" y2="84.58" stroke="#2a2a2a" stroke-width="1" />
<line x1="259.5" y1="63.54" x2="256.5" y2="63.54" stroke="#2a2a2a" stroke-width="1" />
<line x1="259.5" y1="42.5" x2="256.5" y2="42.5" stroke="#2a2a2a" stroke-width="1" />
<line x1="259.5" y1="21.46" x2="256.5" y2="21.46" stroke="#2a2a2a" stroke-width="1" />
<line x1="259.5" y1="137.18" x2="257.5" y2="137.18" stroke="#2a2a2a" stroke-width="1" />
<line x1="259.5" y1="116.14" x2="257.5" y2="116.14" stroke="#2a2a2a" stroke-width="1" />
<line x1="259.5" y1="95.1" x2="257.5" y2="95.1" stroke="#2a2a2a" stroke-width="1" />
<line x1="259.5" y1="74.06" x2="257.5" y2="74.06" stroke="#2a2a2a" stroke-width="1" />
<line x1="259.5" y1="53.02" x2="257.5" y2="53.02" stroke="#2a2a2a" stroke-width="1" />
<line x1="259.5" y1="31.98" x2="257.5" y2="31.98" stroke="#2a2a2a" stroke-width="1" />
<line x1="259.5" y1="10.94" x2="257.5" y2="10.94" stroke="#2a2a2a" stroke-width="1" />
<text x="259.5" y="162" font-size="10.5" text-anchor="middle" fill="#1c1c1c" stroke="#1c1c1c" stroke-width="0.25" font-weight="normal" font-style="normal" font-family="'Liberation Sans', sans-serif" >0.0</text>
<text x="287.5" y="162" font-size="10.5" text-anchor="middle" fill="#1c1c1c" stroke="#1c1c1c" stroke-width="0.25" font-weight="normal" font-style="normal" font-family="'Liberation Sans', sans-serif" >0.2</text>
<text x="315.5" y="162" font-size="10.5" text-anchor="middle" fill="#1c1c1c" stroke="#1c1c1c" stroke-width="0.25" font-weight="normal" font-style="normal" font-family="'Liberation Sans', sans-serif" >0.4</text>
<text x="343.5" y="162" font-size="10.5" text-anchor="middle" fill="#1c1c1c" stroke="#1c1c1c" stroke-width="0.25" font-weight="normal" font-style="normal" font-family="'Liberation Sans', sans-serif" >0.6</text>
<text x="371.5" y="162" font-size="10.5" text-anchor="middle" fill="#1c1c1c" stroke="#1c1c1c" stroke-width="0.25" font-weight="normal" font-style="normal" font-family="'Liberation Sans', sans-serif" >0.8</text>
<text x="399.5" y="162" font-size="10.5" text-anchor="middle" fill="#1c1c1c" stroke="#1c1c1c" stroke-width="0.25" font-weight="normal" font-style="normal" font-family="'Liberation Sans', sans-serif" >1.0</text>
<text x="427.5" y="162" font-size="10.5" text-anchor="middle" fill="#1c1c1c" stroke="#1c1c1c" stroke-width="0.25" font-weight="normal" font-style="normal" font-family="'Liberation Sans', sans-serif" >1.2</text>
<text x="253" y="151.4" font-size="10.5" text-anchor="end" fill="#1c1c1c" stroke="#1c1c1c" stroke-width="0.25" font-weight="normal" font-style="normal" font-family="'Liberation Sans', sans-serif" >0</text>
<text x="253" y="130.36" font-size="10.5" text-anchor="end" fill="#1c1c1c" stroke="#1c1c1c" stroke-width="0.25" font-weight="normal" font-style="normal" font-family="'Liberation Sans', sans-serif" >4</text>
<text x="253" y="109.32" font-size="10.5" text-anchor="end" fill="#1c1c1c" stroke="#1c1c1c" stroke-width="0.25" font-weight="normal" font-style="normal" font-family="'Liberation Sans', sans-serif" >8</text>
<text x="253" y="88.28" font-size="10.5" text-anchor="end" fill="#1c1c1c" stroke="#1c1c1c" stroke-width="0.25" font-weight="normal" font-style="normal" font-family="'Liberation Sans', sans-serif" >12</text>
<text x="253" y="67.24" font-size="10.5" text-anchor="end" fill="#1c1c1c" stroke="#1c1c1c" stroke-width="0.25" font-weight="normal" font-style="normal" font-family="'Liberation Sans', sans-serif" >16</text>
<text x="253" y="46.2" font-size="10.5" text-anchor="end" fill="#1c1c1c" stroke="#1c1c1c" stroke-width="0.25" font-weight="normal" font-style="normal" font-family="'Liberation Sans', sans-serif" >20</text>
<text x="253" y="25.16" font-size="10.5" text-anchor="end" fill="#1c1c1c" stroke="#1c1c1c" stroke-width="0.25" font-weight="normal" font-style="normal" font-family="'Liberation Sans', sans-serif" >24</text>
<text x="345.3" y="178.6" font-size="14.5" text-anchor="middle" fill="#1c1c1c" stroke="#1c1c1c" stroke-width="0.25" font-weight="normal" font-style="normal" font-family="'Liberation Sans', sans-serif" >Voltage (V)</text>
<text transform="translate(237.2,83.4) rotate(-90)" font-size="14" text-anchor="middle" fill="#1c1c1c" stroke="#1c1c1c" stroke-width="0.25" font-family="'Liberation Sans', sans-serif"><tspan font-style="italic">J</tspan> (mA cm<tspan font-size="9" dy="-5">-2</tspan><tspan dy="5">)</tspan></text>
<line x1="277.8" y1="88.3" x2="302.3" y2="88.3" stroke="#5b97d1" stroke-width="1.1" />
<circle cx="290" cy="88.3" r="2.8" fill="url(#gb)"/>
<text x="305.1" y="92.4" font-size="11.5" text-anchor="start" fill="#1c1c1c" stroke="#1c1c1c" stroke-width="0.25" font-weight="normal" font-style="normal" font-family="'Liberation Sans', sans-serif" >1-BP RS</text>
<line x1="277.8" y1="100.9" x2="302.3" y2="100.9" stroke="#5b97d1" stroke-width="1.1" />
<circle cx="290" cy="100.9" r="2.5" fill="#fff" stroke="#5b97d1" stroke-width="0.9"/>
<text x="305.1" y="105" font-size="11.5" text-anchor="start" fill="#1c1c1c" stroke="#1c1c1c" stroke-width="0.25" font-weight="normal" font-style="normal" font-family="'Liberation Sans', sans-serif" >1-BP FS</text>
<line x1="277.8" y1="113.2" x2="302.3" y2="113.2" stroke="#a9a9a9" stroke-width="1.1" />
<circle cx="290" cy="113.2" r="2.8" fill="url(#gg)"/>
<text x="305.1" y="117.3" font-size="11.5" text-anchor="start" fill="#1c1c1c" stroke="#1c1c1c" stroke-width="0.25" font-weight="normal" font-style="normal" font-family="'Liberation Sans', sans-serif" >Control RS</text>
<line x1="277.8" y1="125.4" x2="302.3" y2="125.4" stroke="#ababab" stroke-width="1.1" />
<circle cx="290" cy="125.4" r="2.5" fill="#fff" stroke="#ababab" stroke-width="0.9"/>
<text x="305.1" y="129.5" font-size="11.5" text-anchor="start" fill="#1c1c1c" stroke="#1c1c1c" stroke-width="0.25" font-weight="normal" font-style="normal" font-family="'Liberation Sans', sans-serif" >Control FS</text>
<polyline points="482.5,146.6 482.81,146.6 483.11,146.6 483.42,146.59 483.72,146.57 484.03,146.56 484.33,146.54 484.64,146.52 484.95,146.51 485.25,146.49 485.56,146.48 485.86,146.46 486.17,146.45 486.47,146.43 486.78,146.42 487.08,146.4 487.39,146.39 487.7,146.37 488,146.35 488.31,146.34 488.61,146.32 488.92,146.3 489.22,146.29 489.53,146.27 489.84,146.25 490.14,146.23 490.45,146.21 490.75,146.19 491.06,146.16 491.36,146.14 491.67,146.11 491.97,146.09 492.28,146.06 492.59,146.03 492.89,146 493.2,145.96 493.5,145.92 493.81,145.87 494.11,145.82 494.42,145.77 494.73,145.71 495.03,145.65 495.34,145.59 495.64,145.53 495.95,145.46 496.25,145.39 496.56,145.33 496.87,145.26 497.17,145.19 497.48,145.11 497.78,145.04 498.09,144.97 498.39,144.9 498.7,144.82 499,144.74 499.31,144.66 499.62,144.58 499.92,144.49 500.23,144.4 500.53,144.31 500.84,144.21 501.14,144.12 501.45,144.02 501.76,143.92 502.06,143.82 502.37,143.72 502.67,143.62 502.98,143.52 503.28,143.41 503.59,143.31 503.89,143.21 504.2,143.1 504.51,143 504.81,142.9 505.12,142.79 505.42,142.68 505.73,142.57 506.03,142.47 506.34,142.36 506.65,142.24 506.95,142.13 507.26,142.02 507.56,141.9 507.87,141.79 508.17,141.67 508.48,141.55 508.79,141.43 509.09,141.31 509.4,141.19 509.7,141.07 510.01,140.94 510.31,140.81 510.62,140.69 510.92,140.56 511.23,140.42 511.54,140.29 511.84,140.15 512.15,140.02 512.45,139.88 512.76,139.73 513.06,139.59 513.37,139.44 513.68,139.29 513.98,139.14 514.29,138.98 514.59,138.83 514.9,138.67 515.2,138.51 515.51,138.35 515.81,138.19 516.12,138.02 516.43,137.86 516.73,137.69 517.04,137.53 517.34,137.36 517.65,137.19 517.95,137.02 518.26,136.85 518.57,136.67 518.87,136.5 519.18,136.32 519.48,136.13 519.79,135.95 520.09,135.76 520.4,135.57 520.71,135.38 521.01,135.19 521.32,134.99 521.62,134.79 521.93,134.58 522.23,134.37 522.54,134.16 522.84,133.94 523.15,133.71 523.46,133.48 523.76,133.24 524.07,132.99 524.37,132.74 524.68,132.48 524.98,132.22 525.29,131.95 525.6,131.68 525.9,131.41 526.21,131.13 526.51,130.86 526.82,130.58 527.12,130.3 527.43,130.02 527.73,129.74 528.04,129.46 528.35,129.17 528.65,128.88 528.96,128.58 529.26,128.28 529.57,127.98 529.87,127.68 530.18,127.38 530.49,127.07 530.79,126.76 531.1,126.46 531.4,126.15 531.71,125.84 532.01,125.53 532.32,125.23 532.62,124.92 532.93,124.62 533.24,124.31 533.54,124.01 533.85,123.71 534.15,123.41 534.46,123.11 534.76,122.81 535.07,122.51 535.38,122.22 535.68,121.92 535.99,121.62 536.29,121.32 536.6,121.03 536.9,120.73 537.21,120.43 537.52,120.13 537.82,119.84 538.13,119.54 538.43,119.24 538.74,118.94 539.04,118.64 539.35,118.35 539.65,118.05 539.96,117.75 540.27,117.45 540.57,117.15 540.88,116.85 541.18,116.55 541.49,116.25 541.79,115.94 542.1,115.64 542.41,115.34 542.71,115.03 543.02,114.73 543.32,114.42 543.63,114.11 543.93,113.81 544.24,113.5 544.54,113.19 544.85,112.88 545.16,112.56 545.46,112.25 545.77,111.94 546.07,111.63 546.38,111.32 546.68,111 546.99,110.69 547.3,110.38 547.6,110.06 547.91,109.75 548.21,109.44 548.52,109.12 548.82,108.81 549.13,108.49 549.44,108.17 549.74,107.85 550.05,107.53 550.35,107.21 550.66,106.89 550.96,106.57 551.27,106.25 551.57,105.92 551.88,105.59 552.19,105.27 552.49,104.94 552.8,104.61 553.1,104.27 553.41,103.94 553.71,103.61 554.02,103.27 554.33,102.93 554.63,102.59 554.94,102.24 555.24,101.9 555.55,101.55 555.85,101.2 556.16,100.84 556.46,100.48 556.77,100.11 557.08,99.74 557.38,99.37 557.69,99 557.99,98.62 558.3,98.24 558.6,97.87 558.91,97.49 559.22,97.11 559.52,96.73 559.83,96.36 560.13,95.98 560.44,95.61 560.74,95.24 561.05,94.88 561.36,94.51 561.66,94.15 561.97,93.78 562.27,93.42 562.58,93.05 562.88,92.69 563.19,92.33 563.49,91.97 563.8,91.61 564.11,91.25 564.41,90.89 564.72,90.53 565.02,90.17 565.33,89.81 565.63,89.45 565.94,89.1 566.25,88.74 566.55,88.38 566.86,88.02 567.16,87.67 567.47,87.31 567.77,86.95 568.08,86.6 568.38,86.24 568.69,85.88 569,85.53 569.3,85.17 569.61,84.81 569.91,84.45 570.22,84.1 570.52,83.74 570.83,83.38 571.14,83.02 571.44,82.66 571.75,82.3 572.05,81.94 572.36,81.58 572.66,81.22 572.97,80.86 573.28,80.5 573.58,80.13 573.89,79.77 574.19,79.41 574.5,79.04 574.8,78.67 575.11,78.31 575.41,77.94 575.72,77.57 576.03,77.2 576.33,76.83 576.64,76.46 576.94,76.09 577.25,75.71 577.55,75.34 577.86,74.96 578.17,74.59 578.47,74.21 578.78,73.83 579.08,73.45 579.39,73.06 579.69,72.68 580,72.3 580.3,71.91 580.61,71.52 580.92,71.13 581.22,70.74 581.53,70.35 581.83,69.96 582.14,69.57 582.44,69.17 582.75,68.78 583.06,68.38 583.36,67.99 583.67,67.59 583.97,67.19 584.28,66.79 584.58,66.39 584.89,65.99 585.2,65.59 585.5,65.19 585.81,64.79 586.11,64.39 586.42,63.99 586.72,63.59 587.03,63.19 587.33,62.78 587.64,62.38 587.95,61.98 588.25,61.58 588.56,61.18 588.86,60.77 589.17,60.37 589.47,59.97 589.78,59.57 590.09,59.17 590.39,58.77 590.7,58.36 591,57.96 591.31,57.56 591.61,57.17 591.92,56.77 592.22,56.37 592.53,55.97 592.84,55.57 593.14,55.18 593.45,54.78 593.75,54.39 594.06,53.99 594.36,53.6 594.67,53.21 594.98,52.82 595.28,52.43 595.59,52.04 595.89,51.66 596.2,51.27 596.5,50.88 596.81,50.49 597.12,50.1 597.42,49.72 597.73,49.33 598.03,48.94 598.34,48.55 598.64,48.16 598.95,47.78 599.25,47.39 599.56,47 599.87,46.61 600.17,46.22 600.48,45.84 600.78,45.45 601.09,45.06 601.39,44.67 601.7,44.29 602.01,43.9 602.31,43.52 602.62,43.13 602.92,42.74 603.23,42.36 603.53,41.98 603.84,41.59 604.14,41.21 604.45,40.82 604.76,40.44 605.06,40.06 605.37,39.68 605.67,39.3 605.98,38.92 606.28,38.54 606.59,38.16 606.9,37.78 607.2,37.41 607.51,37.03 607.81,36.65 608.12,36.28 608.42,35.9 608.73,35.53 609.03,35.16 609.34,34.79 609.65,34.42 609.95,34.05 610.26,33.68 610.56,33.32 610.87,32.95 611.17,32.58 611.48,32.22 611.79,31.86 612.09,31.5 612.4,31.14 612.7,30.78 613.01,30.42 613.31,30.07 613.62,29.71 613.93,29.35 614.23,28.99 614.54,28.63 614.84,28.26 615.15,27.9 615.45,27.54 615.76,27.18 616.06,26.83 616.37,26.47 616.68,26.12 616.98,25.77 617.29,25.43 617.59,25.08 617.9,24.75 618.2,24.42 618.51,24.09 618.82,23.77 619.12,23.45 619.43,23.15 619.73,22.85 620.04,22.56 620.34,22.27 620.65,22 620.95,21.73 621.26,21.46 621.57,21.21 621.87,20.95 622.18,20.7 622.48,20.46 622.79,20.22 623.09,19.98 623.4,19.75 623.71,19.51 624.01,19.28 624.32,19.04 624.62,18.81 624.93,18.58 625.23,18.34 625.54,18.1 625.85,17.86 626.15,17.61 626.46,17.34 626.76,17.07 627.07,16.8 627.37,16.53 627.68,16.26 627.98,15.99 628.29,15.73 628.6,15.47 628.9,15.23 629.21,15 629.51,14.79 629.82,14.6 630.12,14.42 630.43,14.27 630.74,14.15 631.04,14.04 631.35,13.93 631.65,13.83 631.96,13.73 632.26,13.63 632.57,13.53 632.87,13.44 633.18,13.36 633.49,13.28 633.79,13.2 634.1,13.14 634.4,13.08 634.71,13.03 635.01,12.98 635.32,12.95 635.63,12.93 635.93,12.92 636.24,12.92 636.54,12.92 636.85,12.92 637.15,12.92 637.46,12.92 637.77,12.92 638.07,12.92 638.38,12.92 638.68,12.92 638.99,12.92 639.29,12.92 639.6,12.92 639.9,12.92 640.21,12.92 640.52,12.92 640.82,12.92 641.13,12.92 641.43,12.92 641.74,12.92 642.04,12.92 642.35,12.92 642.66,12.92 642.96,12.92 643.27,12.92 643.57,12.92 643.88,12.92 644.18,12.92 644.49,12.92 644.79,12.92 645.1,12.92 645.41,12.92 645.71,12.92 646.02,12.92 646.32,12.92 646.63,12.92 646.93,12.92 647.24,12.92 647.55,12.92 647.85,12.92 648.16,12.92 648.46,12.92 648.77,12.92 649.07,12.92 649.38,12.92 649.69,12.92 649.99,12.92 650.3,12.92 650.6,12.92" fill="none" stroke="#a6a6a6" stroke-width="0.9" stroke-linejoin="round" />
<polyline points="482.5,146.6 482.81,146.58 483.11,146.56 483.42,146.55 483.72,146.53 484.03,146.51 484.33,146.5 484.64,146.48 484.95,146.47 485.25,146.45 485.56,146.44 485.86,146.42 486.17,146.41 486.47,146.39 486.78,146.38 487.08,146.36 487.39,146.34 487.7,146.33 488,146.31 488.31,146.29 488.61,146.27 488.92,146.25 489.22,146.23 489.53,146.21 489.84,146.19 490.14,146.17 490.45,146.15 490.75,146.12 491.06,146.09 491.36,146.07 491.67,146.04 491.97,146.01 492.28,145.97 492.59,145.93 492.89,145.88 493.2,145.84 493.5,145.78 493.81,145.73 494.11,145.67 494.42,145.61 494.73,145.55 495.03,145.48 495.34,145.41 495.64,145.35 495.95,145.28 496.25,145.21 496.56,145.13 496.87,145.06 497.17,144.99 497.48,144.91 497.78,144.84 498.09,144.76 498.39,144.68 498.7,144.6 499,144.51 499.31,144.42 499.62,144.33 499.92,144.24 500.23,144.14 500.53,144.04 500.84,143.94 501.14,143.84 501.45,143.74 501.76,143.64 502.06,143.53 502.37,143.43 502.67,143.33 502.98,143.22 503.28,143.12 503.59,143.01 503.89,142.91 504.2,142.8 504.51,142.69 504.81,142.58 505.12,142.47 505.42,142.36 505.73,142.25 506.03,142.14 506.34,142.02 506.65,141.91 506.95,141.79 507.26,141.67 507.56,141.56 507.87,141.43 508.17,141.31 508.48,141.19 508.79,141.07 509.09,140.94 509.4,140.81 509.7,140.68 510.01,140.55 510.31,140.42 510.62,140.29 510.92,140.15 511.23,140.01 511.54,139.87 511.84,139.73 512.15,139.58 512.45,139.43 512.76,139.28 513.06,139.13 513.37,138.98 513.68,138.82 513.98,138.66 514.29,138.5 514.59,138.34 514.9,138.17 515.2,138.01 515.51,137.84 515.81,137.68 516.12,137.51 516.43,137.34 516.73,137.17 517.04,137 517.34,136.82 517.65,136.65 517.95,136.47 518.26,136.29 518.57,136.11 518.87,135.92 519.18,135.74 519.48,135.55 519.79,135.35 520.09,135.16 520.4,134.96 520.71,134.75 521.01,134.55 521.32,134.34 521.62,134.12 521.93,133.91 522.23,133.68 522.54,133.45 522.84,133.21 523.15,132.96 523.46,132.71 523.76,132.45 524.07,132.19 524.37,131.92 524.68,131.65 524.98,131.37 525.29,131.1 525.6,130.82 525.9,130.54 526.21,130.26 526.51,129.97 526.82,129.69 527.12,129.41 527.43,129.12 527.73,128.82 528.04,128.53 528.35,128.23 528.65,127.93 528.96,127.62 529.26,127.31 529.57,127 529.87,126.7 530.18,126.38 530.49,126.07 530.79,125.76 531.1,125.45 531.4,125.14 531.71,124.83 532.01,124.52 532.32,124.21 532.62,123.91 532.93,123.6 533.24,123.3 533.54,123 533.85,122.69 534.15,122.39 534.46,122.09 534.76,121.79 535.07,121.49 535.38,121.19 535.68,120.89 535.99,120.58 536.29,120.28 536.6,119.98 536.9,119.68 537.21,119.38 537.52,119.08 537.82,118.78 538.13,118.48 538.43,118.18 538.74,117.87 539.04,117.57 539.35,117.27 539.65,116.97 539.96,116.66 540.27,116.36 540.57,116.05 540.88,115.75 541.18,115.44 541.49,115.14 541.79,114.83 542.1,114.52 542.41,114.21 542.71,113.9 543.02,113.59 543.32,113.28 543.63,112.97 543.93,112.65 544.24,112.34 544.54,112.02 544.85,111.71 545.16,111.39 545.46,111.07 545.77,110.76 546.07,110.44 546.38,110.13 546.68,109.81 546.99,109.49 547.3,109.17 547.6,108.86 547.91,108.54 548.21,108.22 548.52,107.9 548.82,107.57 549.13,107.25 549.44,106.93 549.74,106.6 550.05,106.28 550.35,105.95 550.66,105.62 550.96,105.29 551.27,104.96 551.57,104.63 551.88,104.3 552.19,103.96 552.49,103.63 552.8,103.29 553.1,102.95 553.41,102.6 553.71,102.26 554.02,101.91 554.33,101.57 554.63,101.21 554.94,100.86 555.24,100.5 555.55,100.14 555.85,99.77 556.16,99.4 556.46,99.02 556.77,98.65 557.08,98.27 557.38,97.89 557.69,97.51 557.99,97.12 558.3,96.74 558.6,96.36 558.91,95.98 559.22,95.6 559.52,95.22 559.83,94.85 560.13,94.48 560.44,94.1 560.74,93.74 561.05,93.37 561.36,93 561.66,92.63 561.97,92.26 562.27,91.9 562.58,91.53 562.88,91.17 563.19,90.8 563.49,90.44 563.8,90.08 564.11,89.71 564.41,89.35 564.72,88.99 565.02,88.63 565.33,88.26 565.63,87.9 565.94,87.54 566.25,87.18 566.55,86.82 566.86,86.46 567.16,86.1 567.47,85.74 567.77,85.37 568.08,85.01 568.38,84.65 568.69,84.29 569,83.93 569.3,83.57 569.61,83.21 569.91,82.84 570.22,82.48 570.52,82.12 570.83,81.75 571.14,81.39 571.44,81.03 571.75,80.66 572.05,80.3 572.36,79.93 572.66,79.56 572.97,79.2 573.28,78.83 573.58,78.46 573.89,78.09 574.19,77.72 574.5,77.35 574.8,76.98 575.11,76.6 575.41,76.23 575.72,75.85 576.03,75.48 576.33,75.1 576.64,74.72 576.94,74.34 577.25,73.96 577.55,73.58 577.86,73.2 578.17,72.81 578.47,72.42 578.78,72.04 579.08,71.65 579.39,71.26 579.69,70.87 580,70.47 580.3,70.08 580.61,69.68 580.92,69.29 581.22,68.89 581.53,68.49 581.83,68.09 582.14,67.69 582.44,67.29 582.75,66.89 583.06,66.49 583.36,66.09 583.67,65.69 583.97,65.28 584.28,64.88 584.58,64.47 584.89,64.07 585.2,63.66 585.5,63.26 585.81,62.85 586.11,62.44 586.42,62.04 586.72,61.63 587.03,61.22 587.33,60.82 587.64,60.41 587.95,60 588.25,59.6 588.56,59.19 588.86,58.78 589.17,58.38 589.47,57.97 589.78,57.57 590.09,57.16 590.39,56.76 590.7,56.35 591,55.95 591.31,55.55 591.61,55.14 591.92,54.74 592.22,54.34 592.53,53.94 592.84,53.54 593.14,53.14 593.45,52.75 593.75,52.35 594.06,51.95 594.36,51.56 594.67,51.17 594.98,50.77 595.28,50.38 595.59,49.99 595.89,49.6 596.2,49.21 596.5,48.81 596.81,48.42 597.12,48.03 597.42,47.64 597.73,47.24 598.03,46.85 598.34,46.46 598.64,46.07 598.95,45.67 599.25,45.28 599.56,44.89 599.87,44.5 600.17,44.11 600.48,43.71 600.78,43.32 601.09,42.93 601.39,42.54 601.7,42.15 602.01,41.76 602.31,41.37 602.62,40.98 602.92,40.59 603.23,40.21 603.53,39.82 603.84,39.43 604.14,39.04 604.45,38.66 604.76,38.27 605.06,37.89 605.37,37.5 605.67,37.12 605.98,36.74 606.28,36.36 606.59,35.98 606.9,35.6 607.2,35.22 607.51,34.84 607.81,34.46 608.12,34.08 608.42,33.71 608.73,33.33 609.03,32.96 609.34,32.59 609.65,32.22 609.95,31.85 610.26,31.48 610.56,31.11 610.87,30.74 611.17,30.37 611.48,30.01 611.79,29.65 612.09,29.28 612.4,28.92 612.7,28.56 613.01,28.2 613.31,27.84 613.62,27.47 613.93,27.11 614.23,26.74 614.54,26.38 614.84,26.01 615.15,25.65 615.45,25.29 615.76,24.93 616.06,24.58 616.37,24.23 616.68,23.88 616.98,23.53 617.29,23.2 617.59,22.86 617.9,22.54 618.2,22.22 618.51,21.9 618.82,21.59 619.12,21.3 619.43,21 619.73,20.72 620.04,20.44 620.34,20.18 620.65,19.91 620.95,19.65 621.26,19.4 621.57,19.15 621.87,18.91 622.18,18.67 622.48,18.43 622.79,18.19 623.09,17.95 623.4,17.72 623.71,17.48 624.01,17.24 624.32,17.01 624.62,16.77 624.93,16.52 625.23,16.27 625.54,16.01 625.85,15.74 626.15,15.47 626.46,15.19 626.76,14.92 627.07,14.64 627.37,14.37 627.68,14.11 627.98,13.86 628.29,13.62 628.6,13.4 628.9,13.19 629.21,13.01 629.51,12.84 629.82,12.71 630.12,12.59 630.43,12.48 630.74,12.38 631.04,12.27 631.35,12.17 631.65,12.07 631.96,11.98 632.26,11.89 632.57,11.8 632.87,11.73 633.18,11.65 633.49,11.59 633.79,11.53 634.1,11.49 634.4,11.45 634.71,11.42 635.01,11.4 635.32,11.4 635.63,11.4 635.93,11.4 636.24,11.4 636.54,11.4 636.85,11.4 637.15,11.4 637.46,11.4 637.77,11.4 638.07,11.4 638.38,11.4 638.68,11.4 638.99,11.4 639.29,11.4 639.6,11.4 639.9,11.4 640.21,11.4 640.52,11.4 640.82,11.4 641.13,11.4 641.43,11.4 641.74,11.4 642.04,11.4 642.35,11.4 642.66,11.4 642.96,11.4 643.27,11.4 643.57,11.4 643.88,11.4 644.18,11.4 644.49,11.4 644.79,11.4 645.1,11.4 645.41,11.4 645.71,11.4 646.02,11.4 646.32,11.4 646.63,11.4 646.93,11.4 647.24,11.4 647.55,11.4 647.85,11.4 648.16,11.4 648.46,11.4 648.77,11.4 649.07,11.4 649.38,11.4 649.69,11.4 649.99,11.4 650.3,11.4 650.6,11.4" fill="none" stroke="#5b97d1" stroke-width="0.9" stroke-linejoin="round" />
<polyline points="482.5,128.21 485.56,105.36 488.61,84.54 491.67,68.86 494.73,62.51 497.78,54.93 500.84,46.55 503.89,37.76 506.95,35.74 510.01,34.38 513.06,34.11 516.12,28.98 519.18,25.6 522.23,23.57 525.29,22.89 528.35,22.49 531.4,21.95 534.46,21.81 537.52,21.95 540.57,24.24 543.63,24.38 546.68,24.24 549.74,24.11 552.8,24.11 555.85,21.95 558.91,22.08 561.97,22.22 565.02,22.49 568.08,22.22 571.14,22.08 574.19,23.3 577.25,22.76 580.3,22.49 583.36,22.76 586.42,22.49 589.47,22.76 592.53,22.22 595.59,21.95 598.64,21.95 601.7,22.22 604.76,23.16 607.81,22.49 610.87,22.08 613.93,22.22 616.98,23.84 620.04,23.84 623.09,26.95 626.15,36.82 629.21,62.51 632.26,95.9 635.32,121.45 638.38,135.51 641.43,142.54 644.49,144.71 647.55,145.38" fill="none" stroke="#b0b0b0" stroke-width="0.9" stroke-linejoin="round" />
<circle cx="482.5" cy="128.21" r="3.5" fill="url(#gg)"/>
<circle cx="485.56" cy="105.36" r="3.5" fill="url(#gg)"/>
<circle cx="488.61" cy="84.54" r="3.5" fill="url(#gg)"/>
<circle cx="491.67" cy="68.86" r="3.5" fill="url(#gg)"/>
<circle cx="494.73" cy="62.51" r="3.5" fill="url(#gg)"/>
<circle cx="497.78" cy="54.93" r="3.5" fill="url(#gg)"/>
<circle cx="500.84" cy="46.55" r="3.5" fill="url(#gg)"/>
<circle cx="503.89" cy="37.76" r="3.5" fill="url(#gg)"/>
<circle cx="506.95" cy="35.74" r="3.5" fill="url(#gg)"/>
<circle cx="510.01" cy="34.38" r="3.5" fill="url(#gg)"/>
<circle cx="513.06" cy="34.11" r="3.5" fill="url(#gg)"/>
<circle cx="516.12" cy="28.98" r="3.5" fill="url(#gg)"/>
<circle cx="519.18" cy="25.6" r="3.5" fill="url(#gg)"/>
<circle cx="522.23" cy="23.57" r="3.5" fill="url(#gg)"/>
<circle cx="525.29" cy="22.89" r="3.5" fill="url(#gg)"/>
<circle cx="528.35" cy="22.49" r="3.5" fill="url(#gg)"/>
<circle cx="531.4" cy="21.95" r="3.5" fill="url(#gg)"/>
<circle cx="534.46" cy="21.81" r="3.5" fill="url(#gg)"/>
<circle cx="537.52" cy="21.95" r="3.5" fill="url(#gg)"/>
<circle cx="540.57" cy="24.24" r="3.5" fill="url(#gg)"/>
<circle cx="543.63" cy="24.38" r="3.5" fill="url(#gg)"/>
<circle cx="546.68" cy="24.24" r="3.5" fill="url(#gg)"/>
<circle cx="549.74" cy="24.11" r="3.5" fill="url(#gg)"/>
<circle cx="552.8" cy="24.11" r="3.5" fill="url(#gg)"/>
<circle cx="555.85" cy="21.95" r="3.5" fill="url(#gg)"/>
<circle cx="558.91" cy="22.08" r="3.5" fill="url(#gg)"/>
<circle cx="561.97" cy="22.22" r="3.5" fill="url(#gg)"/>
<circle cx="565.02" cy="22.49" r="3.5" fill="url(#gg)"/>
<circle cx="568.08" cy="22.22" r="3.5" fill="url(#gg)"/>
<circle cx="571.14" cy="22.08" r="3.5" fill="url(#gg)"/>
<circle cx="574.19" cy="23.3" r="3.5" fill="url(#gg)"/>
<circle cx="577.25" cy="22.76" r="3.5" fill="url(#gg)"/>
<circle cx="580.3" cy="22.49" r="3.5" fill="url(#gg)"/>
<circle cx="583.36" cy="22.76" r="3.5" fill="url(#gg)"/>
<circle cx="586.42" cy="22.49" r="3.5" fill="url(#gg)"/>
<circle cx="589.47" cy="22.76" r="3.5" fill="url(#gg)"/>
<circle cx="592.53" cy="22.22" r="3.5" fill="url(#gg)"/>
<circle cx="595.59" cy="21.95" r="3.5" fill="url(#gg)"/>
<circle cx="598.64" cy="21.95" r="3.5" fill="url(#gg)"/>
<circle cx="601.7" cy="22.22" r="3.5" fill="url(#gg)"/>
<circle cx="604.76" cy="23.16" r="3.5" fill="url(#gg)"/>
<circle cx="607.81" cy="22.49" r="3.5" fill="url(#gg)"/>
<circle cx="610.87" cy="22.08" r="3.5" fill="url(#gg)"/>
<circle cx="613.93" cy="22.22" r="3.5" fill="url(#gg)"/>
<circle cx="616.98" cy="23.84" r="3.5" fill="url(#gg)"/>
<circle cx="620.04" cy="23.84" r="3.5" fill="url(#gg)"/>
<circle cx="623.09" cy="26.95" r="3.5" fill="url(#gg)"/>
<circle cx="626.15" cy="36.82" r="3.5" fill="url(#gg)"/>
<circle cx="629.21" cy="62.51" r="3.5" fill="url(#gg)"/>
<circle cx="632.26" cy="95.9" r="3.5" fill="url(#gg)"/>
<circle cx="635.32" cy="121.45" r="3.5" fill="url(#gg)"/>
<circle cx="638.38" cy="135.51" r="3.5" fill="url(#gg)"/>
<circle cx="641.43" cy="142.54" r="3.5" fill="url(#gg)"/>
<circle cx="644.49" cy="144.71" r="3.5" fill="url(#gg)"/>
<circle cx="647.55" cy="145.38" r="3.5" fill="url(#gg)"/>
<polyline points="482.5,122.8 485.56,103.88 488.61,87.25 491.67,67.51 494.73,58.99 497.78,52.5 500.84,44.39 503.89,35.06 506.95,33.57 510.01,31.54 513.06,27.62 516.12,26.27 519.18,21.54 522.23,20.46 525.29,19.78 528.35,18.97 531.4,18.43 534.46,18.3 537.52,18.43 540.57,19.11 543.63,19.24 546.68,19.11 549.74,18.97 552.8,18.97 555.85,18.43 558.91,18.57 561.97,18.7 565.02,18.97 568.08,18.7 571.14,18.57 574.19,19.78 577.25,19.24 580.3,18.97 583.36,19.24 586.42,18.97 589.47,19.24 592.53,18.7 595.59,18.43 598.64,18.43 601.7,18.7 604.76,19.65 607.81,18.97 610.87,18.57 613.93,18.7 616.98,20.32 620.04,22.89 623.09,26 626.15,33.57 629.21,57.37 632.26,100.63 635.32,122.67 638.38,135.24 641.43,143.36 644.49,145.25 647.55,145.65" fill="none" stroke="#5b97d1" stroke-width="0.9" stroke-linejoin="round" />
<circle cx="482.5" cy="122.8" r="3.5" fill="url(#gb)"/>
<circle cx="485.56" cy="103.88" r="3.5" fill="url(#gb)"/>
<circle cx="488.61" cy="87.25" r="3.5" fill="url(#gb)"/>
<circle cx="491.67" cy="67.51" r="3.5" fill="url(#gb)"/>
<circle cx="494.73" cy="58.99" r="3.5" fill="url(#gb)"/>
<circle cx="497.78" cy="52.5" r="3.5" fill="url(#gb)"/>
<circle cx="500.84" cy="44.39" r="3.5" fill="url(#gb)"/>
<circle cx="503.89" cy="35.06" r="3.5" fill="url(#gb)"/>
<circle cx="506.95" cy="33.57" r="3.5" fill="url(#gb)"/>
<circle cx="510.01" cy="31.54" r="3.5" fill="url(#gb)"/>
<circle cx="513.06" cy="27.62" r="3.5" fill="url(#gb)"/>
<circle cx="516.12" cy="26.27" r="3.5" fill="url(#gb)"/>
<circle cx="519.18" cy="21.54" r="3.5" fill="url(#gb)"/>
<circle cx="522.23" cy="20.46" r="3.5" fill="url(#gb)"/>
<circle cx="525.29" cy="19.78" r="3.5" fill="url(#gb)"/>
<circle cx="528.35" cy="18.97" r="3.5" fill="url(#gb)"/>
<circle cx="531.4" cy="18.43" r="3.5" fill="url(#gb)"/>
<circle cx="534.46" cy="18.3" r="3.5" fill="url(#gb)"/>
<circle cx="537.52" cy="18.43" r="3.5" fill="url(#gb)"/>
<circle cx="540.57" cy="19.11" r="3.5" fill="url(#gb)"/>
<circle cx="543.63" cy="19.24" r="3.5" fill="url(#gb)"/>
<circle cx="546.68" cy="19.11" r="3.5" fill="url(#gb)"/>
<circle cx="549.74" cy="18.97" r="3.5" fill="url(#gb)"/>
<circle cx="552.8" cy="18.97" r="3.5" fill="url(#gb)"/>
<circle cx="555.85" cy="18.43" r="3.5" fill="url(#gb)"/>
<circle cx="558.91" cy="18.57" r="3.5" fill="url(#gb)"/>
<circle cx="561.97" cy="18.7" r="3.5" fill="url(#gb)"/>
<circle cx="565.02" cy="18.97" r="3.5" fill="url(#gb)"/>
<circle cx="568.08" cy="18.7" r="3.5" fill="url(#gb)"/>
<circle cx="571.14" cy="18.57" r="3.5" fill="url(#gb)"/>
<circle cx="574.19" cy="19.78" r="3.5" fill="url(#gb)"/>
<circle cx="577.25" cy="19.24" r="3.5" fill="url(#gb)"/>
<circle cx="580.3" cy="18.97" r="3.5" fill="url(#gb)"/>
<circle cx="583.36" cy="19.24" r="3.5" fill="url(#gb)"/>
<circle cx="586.42" cy="18.97" r="3.5" fill="url(#gb)"/>
<circle cx="589.47" cy="19.24" r="3.5" fill="url(#gb)"/>
<circle cx="592.53" cy="18.7" r="3.5" fill="url(#gb)"/>
<circle cx="595.59" cy="18.43" r="3.5" fill="url(#gb)"/>
<circle cx="598.64" cy="18.43" r="3.5" fill="url(#gb)"/>
<circle cx="601.7" cy="18.7" r="3.5" fill="url(#gb)"/>
<circle cx="604.76" cy="19.65" r="3.5" fill="url(#gb)"/>
<circle cx="607.81" cy="18.97" r="3.5" fill="url(#gb)"/>
<circle cx="610.87" cy="18.57" r="3.5" fill="url(#gb)"/>
<circle cx="613.93" cy="18.7" r="3.5" fill="url(#gb)"/>
<circle cx="616.98" cy="20.32" r="3.5" fill="url(#gb)"/>
<circle cx="620.04" cy="22.89" r="3.5" fill="url(#gb)"/>
<circle cx="623.09" cy="26" r="3.5" fill="url(#gb)"/>
<circle cx="626.15" cy="33.57" r="3.5" fill="url(#gb)"/>
<circle cx="629.21" cy="57.37" r="3.5" fill="url(#gb)"/>
<circle cx="632.26" cy="100.63" r="3.5" fill="url(#gb)"/>
<circle cx="635.32" cy="122.67" r="3.5" fill="url(#gb)"/>
<circle cx="638.38" cy="135.24" r="3.5" fill="url(#gb)"/>
<circle cx="641.43" cy="143.36" r="3.5" fill="url(#gb)"/>
<circle cx="644.49" cy="145.25" r="3.5" fill="url(#gb)"/>
<circle cx="647.55" cy="145.65" r="3.5" fill="url(#gb)"/>
<rect x="482.5" y="6" width="168.1" height="140.6" fill="none" stroke="#2a2a2a" stroke-width="1.1"/>
<line x1="482.5" y1="146.6" x2="482.5" y2="149.6" stroke="#2a2a2a" stroke-width="1" />
<line x1="513.06" y1="146.6" x2="513.06" y2="149.6" stroke="#2a2a2a" stroke-width="1" />
<line x1="543.63" y1="146.6" x2="543.63" y2="149.6" stroke="#2a2a2a" stroke-width="1" />
<line x1="574.19" y1="146.6" x2="574.19" y2="149.6" stroke="#2a2a2a" stroke-width="1" />
<line x1="604.76" y1="146.6" x2="604.76" y2="149.6" stroke="#2a2a2a" stroke-width="1" />
<line x1="635.32" y1="146.6" x2="635.32" y2="149.6" stroke="#2a2a2a" stroke-width="1" />
<line x1="497.78" y1="146.6" x2="497.78" y2="148.6" stroke="#2a2a2a" stroke-width="1" />
<line x1="528.35" y1="146.6" x2="528.35" y2="148.6" stroke="#2a2a2a" stroke-width="1" />
<line x1="558.91" y1="146.6" x2="558.91" y2="148.6" stroke="#2a2a2a" stroke-width="1" />
<line x1="589.47" y1="146.6" x2="589.47" y2="148.6" stroke="#2a2a2a" stroke-width="1" />
<line x1="620.04" y1="146.6" x2="620.04" y2="148.6" stroke="#2a2a2a" stroke-width="1" />
<line x1="650.6" y1="146.6" x2="650.6" y2="148.6" stroke="#2a2a2a" stroke-width="1" />
<line x1="482.5" y1="146.6" x2="479.5" y2="146.6" stroke="#2a2a2a" stroke-width="1" />
<line x1="482.5" y1="119.56" x2="479.5" y2="119.56" stroke="#2a2a2a" stroke-width="1" />
<line x1="482.5" y1="92.52" x2="479.5" y2="92.52" stroke="#2a2a2a" stroke-width="1" />
<line x1="482.5" y1="65.48" x2="479.5" y2="65.48" stroke="#2a2a2a" stroke-width="1" />
<line x1="482.5" y1="38.44" x2="479.5" y2="38.44" stroke="#2a2a2a" stroke-width="1" />
<line x1="482.5" y1="11.4" x2="479.5" y2="11.4" stroke="#2a2a2a" stroke-width="1" />
<line x1="482.5" y1="133.08" x2="480.5" y2="133.08" stroke="#2a2a2a" stroke-width="1" />
<line x1="482.5" y1="106.04" x2="480.5" y2="106.04" stroke="#2a2a2a" stroke-width="1" />
<line x1="482.5" y1="79" x2="480.5" y2="79" stroke="#2a2a2a" stroke-width="1" />
<line x1="482.5" y1="51.96" x2="480.5" y2="51.96" stroke="#2a2a2a" stroke-width="1" />
<line x1="482.5" y1="24.92" x2="480.5" y2="24.92" stroke="#2a2a2a" stroke-width="1" />
<line x1="650.6" y1="146.6" x2="653.6" y2="146.6" stroke="#2a2a2a" stroke-width="1" />
<line x1="650.6" y1="124.13" x2="653.6" y2="124.13" stroke="#2a2a2a" stroke-width="1" />
<line x1="650.6" y1="101.66" x2="653.6" y2="101.66" stroke="#2a2a2a" stroke-width="1" />
<line x1="650.6" y1="79.2" x2="653.6" y2="79.2" stroke="#2a2a2a" stroke-width="1" />
<line x1="650.6" y1="56.73" x2="653.6" y2="56.73" stroke="#2a2a2a" stroke-width="1" />
<line x1="650.6" y1="34.26" x2="653.6" y2="34.26" stroke="#2a2a2a" stroke-width="1" />
<line x1="650.6" y1="11.79" x2="653.6" y2="11.79" stroke="#2a2a2a" stroke-width="1" />
<line x1="650.6" y1="135.37" x2="652.6" y2="135.37" stroke="#2a2a2a" stroke-width="1" />
<line x1="650.6" y1="112.9" x2="652.6" y2="112.9" stroke="#2a2a2a" stroke-width="1" />
<line x1="650.6" y1="90.43" x2="652.6" y2="90.43" stroke="#2a2a2a" stroke-width="1" />
<line x1="650.6" y1="67.96" x2="652.6" y2="67.96" stroke="#2a2a2a" stroke-width="1" />
<line x1="650.6" y1="45.49" x2="652.6" y2="45.49" stroke="#2a2a2a" stroke-width="1" />
<line x1="650.6" y1="23.03" x2="652.6" y2="23.03" stroke="#2a2a2a" stroke-width="1" />
<text x="482.5" y="162" font-size="10.5" text-anchor="middle" fill="#1c1c1c" stroke="#1c1c1c" stroke-width="0.25" font-weight="normal" font-style="normal" font-family="'Liberation Sans', sans-serif" >300</text>
<text x="513.06" y="162" font-size="10.5" text-anchor="middle" fill="#1c1c1c" stroke="#1c1c1c" stroke-width="0.25" font-weight="normal" font-style="normal" font-family="'Liberation Sans', sans-serif" >400</text>
<text x="543.63" y="162" font-size="10.5" text-anchor="middle" fill="#1c1c1c" stroke="#1c1c1c" stroke-width="0.25" font-weight="normal" font-style="normal" font-family="'Liberation Sans', sans-serif" >500</text>
<text x="574.19" y="162" font-size="10.5" text-anchor="middle" fill="#1c1c1c" stroke="#1c1c1c" stroke-width="0.25" font-weight="normal" font-style="normal" font-family="'Liberation Sans', sans-serif" >600</text>
<text x="604.76" y="162" font-size="10.5" text-anchor="middle" fill="#1c1c1c" stroke="#1c1c1c" stroke-width="0.25" font-weight="normal" font-style="normal" font-family="'Liberation Sans', sans-serif" >700</text>
<text x="635.32" y="162" font-size="10.5" text-anchor="middle" fill="#1c1c1c" stroke="#1c1c1c" stroke-width="0.25" font-weight="normal" font-style="normal" font-family="'Liberation Sans', sans-serif" >800</text>
<text x="476.8" y="150.2" font-size="10.5" text-anchor="end" fill="#1c1c1c" stroke="#1c1c1c" stroke-width="0.25" font-weight="normal" font-style="normal" font-family="'Liberation Sans', sans-serif" >0</text>
<text x="476.8" y="123.16" font-size="10.5" text-anchor="end" fill="#1c1c1c" stroke="#1c1c1c" stroke-width="0.25" font-weight="normal" font-style="normal" font-family="'Liberation Sans', sans-serif" >20</text>
<text x="476.8" y="96.12" font-size="10.5" text-anchor="end" fill="#1c1c1c" stroke="#1c1c1c" stroke-width="0.25" font-weight="normal" font-style="normal" font-family="'Liberation Sans', sans-serif" >40</text>
<text x="476.8" y="69.08" font-size="10.5" text-anchor="end" fill="#1c1c1c" stroke="#1c1c1c" stroke-width="0.25" font-weight="normal" font-style="normal" font-family="'Liberation Sans', sans-serif" >60</text>
<text x="476.8" y="42.04" font-size="10.5" text-anchor="end" fill="#1c1c1c" stroke="#1c1c1c" stroke-width="0.25" font-weight="normal" font-style="normal" font-family="'Liberation Sans', sans-serif" >80</text>
<text x="476.8" y="15" font-size="10.5" text-anchor="end" fill="#1c1c1c" stroke="#1c1c1c" stroke-width="0.25" font-weight="normal" font-style="normal" font-family="'Liberation Sans', sans-serif" >100</text>
<text x="654.3" y="150.3" font-size="10.5" text-anchor="start" fill="#1c1c1c" stroke="#1c1c1c" stroke-width="0.25" font-weight="normal" font-style="normal" font-family="'Liberation Sans', sans-serif" >0</text>
<text x="654.3" y="127.83" font-size="10.5" text-anchor="start" fill="#1c1c1c" stroke="#1c1c1c" stroke-width="0.25" font-weight="normal" font-style="normal" font-family="'Liberation Sans', sans-serif" >4</text>
<text x="654.3" y="105.36" font-size="10.5" text-anchor="start" fill="#1c1c1c" stroke="#1c1c1c" stroke-width="0.25" font-weight="normal" font-style="normal" font-family="'Liberation Sans', sans-serif" >8</text>
<text x="654.3" y="82.9" font-size="10.5" text-anchor="start" fill="#1c1c1c" stroke="#1c1c1c" stroke-width="0.25" font-weight="normal" font-style="normal" font-family="'Liberation Sans', sans-serif" >12</text>
<text x="654.3" y="60.43" font-size="10.5" text-anchor="start" fill="#1c1c1c" stroke="#1c1c1c" stroke-width="0.25" font-weight="normal" font-style="normal" font-family="'Liberation Sans', sans-serif" >16</text>
<text x="654.3" y="37.96" font-size="10.5" text-anchor="start" fill="#1c1c1c" stroke="#1c1c1c" stroke-width="0.25" font-weight="normal" font-style="normal" font-family="'Liberation Sans', sans-serif" >20</text>
<text x="654.3" y="15.49" font-size="10.5" text-anchor="start" fill="#1c1c1c" stroke="#1c1c1c" stroke-width="0.25" font-weight="normal" font-style="normal" font-family="'Liberation Sans', sans-serif" >24</text>
<text x="568" y="178.6" font-size="14.5" text-anchor="middle" fill="#1c1c1c" stroke="#1c1c1c" stroke-width="0.25" font-weight="normal" font-style="normal" font-family="'Liberation Sans', sans-serif" >Wavelength (nm)</text>
<text transform="translate(457.6,74.2) rotate(-90)" x="0" y="0" font-size="14.5" text-anchor="middle" fill="#1c1c1c" stroke="#1c1c1c" stroke-width="0.25" font-family="'Liberation Sans', sans-serif" >EQE (%)</text>
<text transform="translate(682.2,71.8) rotate(-90)" font-size="14.6" text-anchor="middle" fill="#1c1c1c" stroke="#1c1c1c" stroke-width="0.25" font-family="'Liberation Sans', sans-serif"><tspan font-style="italic">J</tspan><tspan font-style="italic" font-size="10" dy="2.5">sc</tspan><tspan dy="-2.5"> (mA/cm</tspan><tspan font-size="9" dy="-5">-2</tspan><tspan dy="5">)</tspan></text>
<line x1="561.5" y1="116.4" x2="583.8" y2="116.4" stroke="#5b97d1" stroke-width="1.1" />
<circle cx="572.5" cy="116.4" r="3" fill="url(#gb)"/>
<text x="587.7" y="120.6" font-size="11.5" text-anchor="start" fill="#1c1c1c" stroke="#1c1c1c" stroke-width="0.25" font-weight="normal" font-style="normal" font-family="'Liberation Sans', sans-serif" >1-BP</text>
<line x1="561.5" y1="128.7" x2="583.8" y2="128.7" stroke="#b0b0b0" stroke-width="1.1" />
<circle cx="572.5" cy="128.7" r="3" fill="url(#gg)"/>
<text x="587.7" y="132.9" font-size="11.5" text-anchor="start" fill="#1c1c1c" stroke="#1c1c1c" stroke-width="0.25" font-weight="normal" font-style="normal" font-family="'Liberation Sans', sans-serif" >Control</text>
<polyline points="38.4,229.04 44.8,229.04 51.2,229.31 57.6,230.25 64.01,228.77 70.41,228.36 76.81,228.63 83.21,229.31 89.61,230.39 96.01,231.88 102.41,235.53 108.82,240.27 115.22,246.76 121.62,254.74 128.02,265.57 134.42,283.02 140.82,304.8 147.22,323.61 153.63,333.76 160.03,336.6 166.43,336.6" fill="none" stroke="#b0b0b0" stroke-width="0.9" stroke-linejoin="round" />
<circle cx="38.4" cy="229.04" r="2.9" fill="url(#gg)"/>
<circle cx="44.8" cy="229.04" r="2.9" fill="url(#gg)"/>
<circle cx="51.2" cy="229.31" r="2.9" fill="url(#gg)"/>
<circle cx="57.6" cy="230.25" r="2.9" fill="url(#gg)"/>
<circle cx="64.01" cy="228.77" r="2.9" fill="url(#gg)"/>
<circle cx="70.41" cy="228.36" r="2.9" fill="url(#gg)"/>
<circle cx="76.81" cy="228.63" r="2.9" fill="url(#gg)"/>
<circle cx="83.21" cy="229.31" r="2.9" fill="url(#gg)"/>
<circle cx="89.61" cy="230.39" r="2.9" fill="url(#gg)"/>
<circle cx="96.01" cy="231.88" r="2.9" fill="url(#gg)"/>
<circle cx="102.41" cy="235.53" r="2.9" fill="url(#gg)"/>
<circle cx="108.82" cy="240.27" r="2.9" fill="url(#gg)"/>
<circle cx="115.22" cy="246.76" r="2.9" fill="url(#gg)"/>
<circle cx="121.62" cy="254.74" r="2.9" fill="url(#gg)"/>
<circle cx="128.02" cy="265.57" r="2.9" fill="url(#gg)"/>
<circle cx="134.42" cy="283.02" r="2.9" fill="url(#gg)"/>
<circle cx="140.82" cy="304.8" r="2.9" fill="url(#gg)"/>
<circle cx="147.22" cy="323.61" r="2.9" fill="url(#gg)"/>
<circle cx="153.63" cy="333.76" r="2.9" fill="url(#gg)"/>
<circle cx="160.03" cy="336.6" r="2.9" fill="url(#gg)"/>
<circle cx="166.43" cy="336.6" r="2.9" fill="url(#gg)"/>
<polyline points="38.4,214.83 44.8,214.83 51.2,214.83 57.6,214.83 64.01,214.83 70.41,215.1 76.81,215.24 83.21,215.51 89.61,216.45 96.01,217.54 102.41,218.75 108.82,220.51 115.22,223.35 121.62,227.55 128.02,232.55 134.42,240.4 140.82,252.04 147.22,270.57 153.63,289.65 160.03,315.9 166.43,333.35 172.83,336.33 179.23,336.6 185.63,336.6 192.03,336.6 198.44,336.6 204.84,336.6" fill="none" stroke="#5b97d1" stroke-width="0.9" stroke-linejoin="round" />
<circle cx="38.4" cy="214.83" r="2.9" fill="url(#gb)"/>
<circle cx="44.8" cy="214.83" r="2.9" fill="url(#gb)"/>
<circle cx="51.2" cy="214.83" r="2.9" fill="url(#gb)"/>
<circle cx="57.6" cy="214.83" r="2.9" fill="url(#gb)"/>
<circle cx="64.01" cy="214.83" r="2.9" fill="url(#gb)"/>
<circle cx="70.41" cy="215.1" r="2.9" fill="url(#gb)"/>
<circle cx="76.81" cy="215.24" r="2.9" fill="url(#gb)"/>
<circle cx="83.21" cy="215.51" r="2.9" fill="url(#gb)"/>
<circle cx="89.61" cy="216.45" r="2.9" fill="url(#gb)"/>
<circle cx="96.01" cy="217.54" r="2.9" fill="url(#gb)"/>
<circle cx="102.41" cy="218.75" r="2.9" fill="url(#gb)"/>
<circle cx="108.82" cy="220.51" r="2.9" fill="url(#gb)"/>
<circle cx="115.22" cy="223.35" r="2.9" fill="url(#gb)"/>
<circle cx="121.62" cy="227.55" r="2.9" fill="url(#gb)"/>
<circle cx="128.02" cy="232.55" r="2.9" fill="url(#gb)"/>
<circle cx="134.42" cy="240.4" r="2.9" fill="url(#gb)"/>
<circle cx="140.82" cy="252.04" r="2.9" fill="url(#gb)"/>
<circle cx="147.22" cy="270.57" r="2.9" fill="url(#gb)"/>
<circle cx="153.63" cy="289.65" r="2.9" fill="url(#gb)"/>
<circle cx="160.03" cy="315.9" r="2.9" fill="url(#gb)"/>
<circle cx="166.43" cy="333.35" r="2.9" fill="url(#gb)"/>
<circle cx="172.83" cy="336.33" r="2.9" fill="url(#gb)"/>
<circle cx="179.23" cy="336.6" r="2.9" fill="url(#gb)"/>
<circle cx="185.63" cy="336.6" r="2.9" fill="url(#gb)"/>
<circle cx="192.03" cy="336.6" r="2.9" fill="url(#gb)"/>
<circle cx="198.44" cy="336.6" r="2.9" fill="url(#gb)"/>
<circle cx="204.84" cy="336.6" r="2.9" fill="url(#gb)"/>
<rect x="38.4" y="201.3" width="171.1" height="142.2" fill="none" stroke="#2a2a2a" stroke-width="1.1"/>
<line x1="38.4" y1="343.5" x2="38.4" y2="346.5" stroke="#2a2a2a" stroke-width="1" />
<line x1="66.6" y1="343.5" x2="66.6" y2="346.5" stroke="#2a2a2a" stroke-width="1" />
<line x1="94.8" y1="343.5" x2="94.8" y2="346.5" stroke="#2a2a2a" stroke-width="1" />
<line x1="123" y1="343.5" x2="123" y2="346.5" stroke="#2a2a2a" stroke-width="1" />
<line x1="151.2" y1="343.5" x2="151.2" y2="346.5" stroke="#2a2a2a" stroke-width="1" />
<line x1="179.4" y1="343.5" x2="179.4" y2="346.5" stroke="#2a2a2a" stroke-width="1" />
<line x1="207.6" y1="343.5" x2="207.6" y2="346.5" stroke="#2a2a2a" stroke-width="1" />
<line x1="52.5" y1="343.5" x2="52.5" y2="345.5" stroke="#2a2a2a" stroke-width="1" />
<line x1="80.7" y1="343.5" x2="80.7" y2="345.5" stroke="#2a2a2a" stroke-width="1" />
<line x1="108.9" y1="343.5" x2="108.9" y2="345.5" stroke="#2a2a2a" stroke-width="1" />
<line x1="137.1" y1="343.5" x2="137.1" y2="345.5" stroke="#2a2a2a" stroke-width="1" />
<line x1="165.3" y1="343.5" x2="165.3" y2="345.5" stroke="#2a2a2a" stroke-width="1" />
<line x1="193.5" y1="343.5" x2="193.5" y2="345.5" stroke="#2a2a2a" stroke-width="1" />
<line x1="38.4" y1="336.6" x2="35.4" y2="336.6" stroke="#2a2a2a" stroke-width="1" />
<line x1="38.4" y1="309.54" x2="35.4" y2="309.54" stroke="#2a2a2a" stroke-width="1" />
<line x1="38.4" y1="282.48" x2="35.4" y2="282.48" stroke="#2a2a2a" stroke-width="1" />
<line x1="38.4" y1="255.42" x2="35.4" y2="255.42" stroke="#2a2a2a" stroke-width="1" />
<line x1="38.4" y1="228.36" x2="35.4" y2="228.36" stroke="#2a2a2a" stroke-width="1" />
<line x1="38.4" y1="201.3" x2="35.4" y2="201.3" stroke="#2a2a2a" stroke-width="1" />
<line x1="38.4" y1="323.07" x2="36.4" y2="323.07" stroke="#2a2a2a" stroke-width="1" />
<line x1="38.4" y1="296.01" x2="36.4" y2="296.01" stroke="#2a2a2a" stroke-width="1" />
<line x1="38.4" y1="268.95" x2="36.4" y2="268.95" stroke="#2a2a2a" stroke-width="1" />
<line x1="38.4" y1="241.89" x2="36.4" y2="241.89" stroke="#2a2a2a" stroke-width="1" />
<line x1="38.4" y1="214.83" x2="36.4" y2="214.83" stroke="#2a2a2a" stroke-width="1" />
<text x="38.4" y="357.6" font-size="10.5" text-anchor="middle" fill="#1c1c1c" stroke="#1c1c1c" stroke-width="0.25" font-weight="normal" font-style="normal" font-family="'Liberation Sans', sans-serif" >0.0</text>
<text x="66.6" y="357.6" font-size="10.5" text-anchor="middle" fill="#1c1c1c" stroke="#1c1c1c" stroke-width="0.25" font-weight="normal" font-style="normal" font-family="'Liberation Sans', sans-serif" >0.2</text>
<text x="94.8" y="357.6" font-size="10.5" text-anchor="middle" fill="#1c1c1c" stroke="#1c1c1c" stroke-width="0.25" font-weight="normal" font-style="normal" font-family="'Liberation Sans', sans-serif" >0.4</text>
<text x="123" y="357.6" font-size="10.5" text-anchor="middle" fill="#1c1c1c" stroke="#1c1c1c" stroke-width="0.25" font-weight="normal" font-style="normal" font-family="'Liberation Sans', sans-serif" >0.6</text>
<text x="151.2" y="357.6" font-size="10.5" text-anchor="middle" fill="#1c1c1c" stroke="#1c1c1c" stroke-width="0.25" font-weight="normal" font-style="normal" font-family="'Liberation Sans', sans-serif" >0.8</text>
<text x="179.4" y="357.6" font-size="10.5" text-anchor="middle" fill="#1c1c1c" stroke="#1c1c1c" stroke-width="0.25" font-weight="normal" font-style="normal" font-family="'Liberation Sans', sans-serif" >1.0</text>
<text x="207.6" y="357.6" font-size="10.5" text-anchor="middle" fill="#1c1c1c" stroke="#1c1c1c" stroke-width="0.25" font-weight="normal" font-style="normal" font-family="'Liberation Sans', sans-serif" >1.2</text>
<text x="32.3" y="340.3" font-size="10.5" text-anchor="end" fill="#1c1c1c" stroke="#1c1c1c" stroke-width="0.25" font-weight="normal" font-style="normal" font-family="'Liberation Sans', sans-serif" >0</text>
<text x="32.3" y="313.24" font-size="10.5" text-anchor="end" fill="#1c1c1c" stroke="#1c1c1c" stroke-width="0.25" font-weight="normal" font-style="normal" font-family="'Liberation Sans', sans-serif" >2</text>
<text x="32.3" y="286.18" font-size="10.5" text-anchor="end" fill="#1c1c1c" stroke="#1c1c1c" stroke-width="0.25" font-weight="normal" font-style="normal" font-family="'Liberation Sans', sans-serif" >4</text>
<text x="32.3" y="259.12" font-size="10.5" text-anchor="end" fill="#1c1c1c" stroke="#1c1c1c" stroke-width="0.25" font-weight="normal" font-style="normal" font-family="'Liberation Sans', sans-serif" >6</text>
<text x="32.3" y="232.06" font-size="10.5" text-anchor="end" fill="#1c1c1c" stroke="#1c1c1c" stroke-width="0.25" font-weight="normal" font-style="normal" font-family="'Liberation Sans', sans-serif" >8</text>
<text x="32.3" y="205" font-size="10.5" text-anchor="end" fill="#1c1c1c" stroke="#1c1c1c" stroke-width="0.25" font-weight="normal" font-style="normal" font-family="'Liberation Sans', sans-serif" >10</text>
<text x="124" y="371.5" font-size="14.5" text-anchor="middle" fill="#1c1c1c" stroke="#1c1c1c" stroke-width="0.25" font-weight="normal" font-style="normal" font-family="'Liberation Sans', sans-serif" >Voltage (V)</text>
<text transform="translate(20.3,271.2) rotate(-90)" font-size="15" text-anchor="middle" fill="#1c1c1c" stroke="#1c1c1c" stroke-width="0.25" font-family="'Liberation Sans', sans-serif">C<tspan font-size="10" dy="-5.5">-2</tspan><tspan dy="5.5">(10</tspan><tspan font-size="10" dy="-5.5">16</tspan><tspan dy="5.5">F</tspan><tspan font-size="10" dy="-5.5">2</tspan><tspan dy="5.5">cm</tspan><tspan font-size="10" dy="-5.5">4</tspan><tspan dy="5.5">)</tspan></text>
<line x1="140" y1="215.5" x2="165" y2="215.5" stroke="#5b97d1" stroke-width="1.1" />
<circle cx="153" cy="215.5" r="2.8" fill="url(#gb)"/>
<text x="168.5" y="219.7" font-size="11.5" text-anchor="start" fill="#1c1c1c" stroke="#1c1c1c" stroke-width="0.25" font-weight="normal" font-style="normal" font-family="'Liberation Sans', sans-serif" >1-BP</text>
<line x1="140" y1="228.3" x2="165" y2="228.3" stroke="#c4c4c4" stroke-width="1.1" />
<circle cx="153" cy="228.3" r="2.8" fill="url(#gg)"/>
<text x="168.5" y="232.5" font-size="11.5" text-anchor="start" fill="#1c1c1c" stroke="#1c1c1c" stroke-width="0.25" font-weight="normal" font-style="normal" font-family="'Liberation Sans', sans-serif" >Control</text>
<text x="59.3" y="314.6" font-size="10" font-weight="bold" fill="#6a9fd4" stroke="#6a9fd4" stroke-width="0.15" font-family="'Liberation Sans', sans-serif"><tspan font-style="italic">V</tspan><tspan font-size="7.5" dy="2">bi</tspan><tspan dy="-2"> = 0.91 V</tspan></text>
<text x="59.3" y="325.2" font-size="10" fill="#a8a8a8" stroke="#a8a8a8" stroke-width="0.25" font-family="'Liberation Sans', sans-serif"><tspan font-style="italic">V</tspan><tspan font-size="7.5" dy="2">bi</tspan><tspan dy="-2"> = 0.83 V</tspan></text>
<circle cx="285" cy="287.02" r="3.3" fill="url(#gg)"/>
<circle cx="319.32" cy="274.68" r="3.3" fill="url(#gg)"/>
<circle cx="343.67" cy="266.52" r="3.3" fill="url(#gg)"/>
<circle cx="362.56" cy="260.84" r="3.3" fill="url(#gg)"/>
<circle cx="377.99" cy="256.23" r="3.3" fill="url(#gg)"/>
<circle cx="391.04" cy="255.17" r="3.3" fill="url(#gg)"/>
<circle cx="402.34" cy="247.43" r="3.3" fill="url(#gg)"/>
<circle cx="407.47" cy="245.09" r="3.3" fill="url(#gg)"/>
<circle cx="412.31" cy="242.75" r="3.3" fill="url(#gg)"/>
<circle cx="416.89" cy="240.62" r="3.3" fill="url(#gg)"/>
<circle cx="421.23" cy="236.65" r="3.3" fill="url(#gg)"/>
<circle cx="285" cy="258.43" r="3.3" fill="url(#gb)"/>
<circle cx="319.32" cy="248.78" r="3.3" fill="url(#gb)"/>
<circle cx="343.67" cy="242.75" r="3.3" fill="url(#gb)"/>
<circle cx="362.56" cy="237.78" r="3.3" fill="url(#gb)"/>
<circle cx="377.99" cy="232.82" r="3.3" fill="url(#gb)"/>
<circle cx="391.04" cy="232.82" r="3.3" fill="url(#gb)"/>
<circle cx="402.34" cy="228.99" r="3.3" fill="url(#gb)"/>
<circle cx="407.47" cy="227.57" r="3.3" fill="url(#gb)"/>
<circle cx="412.31" cy="226.01" r="3.3" fill="url(#gb)"/>
<circle cx="416.89" cy="223.59" r="3.3" fill="url(#gb)"/>
<circle cx="421.23" cy="218.63" r="3.3" fill="url(#gb)"/>
<line x1="285" y1="260.13" x2="421.23" y2="219.91" stroke="#111" stroke-width="1.45" stroke-dasharray="2 1.8"/>
<line x1="285" y1="287.66" x2="421.23" y2="237.36" stroke="#111" stroke-width="1.45" stroke-dasharray="2 1.8"/>
<rect x="260.6" y="201.5" width="169" height="142" fill="none" stroke="#2a2a2a" stroke-width="1.1"/>
<line x1="285" y1="343.5" x2="285" y2="346.5" stroke="#2a2a2a" stroke-width="1" />
<line x1="343.67" y1="343.5" x2="343.67" y2="346.5" stroke="#2a2a2a" stroke-width="1" />
<line x1="377.99" y1="343.5" x2="377.99" y2="346.5" stroke="#2a2a2a" stroke-width="1" />
<line x1="402.34" y1="343.5" x2="402.34" y2="346.5" stroke="#2a2a2a" stroke-width="1" />
<line x1="421.23" y1="343.5" x2="421.23" y2="346.5" stroke="#2a2a2a" stroke-width="1" />
<line x1="266.11" y1="343.5" x2="266.11" y2="345.3" stroke="#2a2a2a" stroke-width="1" />
<line x1="276.08" y1="343.5" x2="276.08" y2="345.3" stroke="#2a2a2a" stroke-width="1" />
<line x1="293.07" y1="343.5" x2="293.07" y2="345.3" stroke="#2a2a2a" stroke-width="1" />
<line x1="300.43" y1="343.5" x2="300.43" y2="345.3" stroke="#2a2a2a" stroke-width="1" />
<line x1="307.21" y1="343.5" x2="307.21" y2="345.3" stroke="#2a2a2a" stroke-width="1" />
<line x1="313.48" y1="343.5" x2="313.48" y2="345.3" stroke="#2a2a2a" stroke-width="1" />
<line x1="319.32" y1="343.5" x2="319.32" y2="345.3" stroke="#2a2a2a" stroke-width="1" />
<line x1="324.78" y1="343.5" x2="324.78" y2="345.3" stroke="#2a2a2a" stroke-width="1" />
<line x1="329.91" y1="343.5" x2="329.91" y2="345.3" stroke="#2a2a2a" stroke-width="1" />
<line x1="334.75" y1="343.5" x2="334.75" y2="345.3" stroke="#2a2a2a" stroke-width="1" />
<line x1="339.33" y1="343.5" x2="339.33" y2="345.3" stroke="#2a2a2a" stroke-width="1" />
<line x1="347.8" y1="343.5" x2="347.8" y2="345.3" stroke="#2a2a2a" stroke-width="1" />
<line x1="351.74" y1="343.5" x2="351.74" y2="345.3" stroke="#2a2a2a" stroke-width="1" />
<line x1="355.5" y1="343.5" x2="355.5" y2="345.3" stroke="#2a2a2a" stroke-width="1" />
<line x1="359.1" y1="343.5" x2="359.1" y2="345.3" stroke="#2a2a2a" stroke-width="1" />
<line x1="362.56" y1="343.5" x2="362.56" y2="345.3" stroke="#2a2a2a" stroke-width="1" />
<line x1="365.88" y1="343.5" x2="365.88" y2="345.3" stroke="#2a2a2a" stroke-width="1" />
<line x1="369.07" y1="343.5" x2="369.07" y2="345.3" stroke="#2a2a2a" stroke-width="1" />
<line x1="372.15" y1="343.5" x2="372.15" y2="345.3" stroke="#2a2a2a" stroke-width="1" />
<line x1="375.12" y1="343.5" x2="375.12" y2="345.3" stroke="#2a2a2a" stroke-width="1" />
<line x1="380.77" y1="343.5" x2="380.77" y2="345.3" stroke="#2a2a2a" stroke-width="1" />
<line x1="383.45" y1="343.5" x2="383.45" y2="345.3" stroke="#2a2a2a" stroke-width="1" />
<line x1="386.06" y1="343.5" x2="386.06" y2="345.3" stroke="#2a2a2a" stroke-width="1" />
<line x1="388.59" y1="343.5" x2="388.59" y2="345.3" stroke="#2a2a2a" stroke-width="1" />
<line x1="391.04" y1="343.5" x2="391.04" y2="345.3" stroke="#2a2a2a" stroke-width="1" />
<line x1="393.42" y1="343.5" x2="393.42" y2="345.3" stroke="#2a2a2a" stroke-width="1" />
<line x1="395.74" y1="343.5" x2="395.74" y2="345.3" stroke="#2a2a2a" stroke-width="1" />
<line x1="398" y1="343.5" x2="398" y2="345.3" stroke="#2a2a2a" stroke-width="1" />
<line x1="400.2" y1="343.5" x2="400.2" y2="345.3" stroke="#2a2a2a" stroke-width="1" />
<line x1="404.43" y1="343.5" x2="404.43" y2="345.3" stroke="#2a2a2a" stroke-width="1" />
<line x1="406.47" y1="343.5" x2="406.47" y2="345.3" stroke="#2a2a2a" stroke-width="1" />
<line x1="408.46" y1="343.5" x2="408.46" y2="345.3" stroke="#2a2a2a" stroke-width="1" />
<line x1="410.41" y1="343.5" x2="410.41" y2="345.3" stroke="#2a2a2a" stroke-width="1" />
<line x1="412.31" y1="343.5" x2="412.31" y2="345.3" stroke="#2a2a2a" stroke-width="1" />
<line x1="414.17" y1="343.5" x2="414.17" y2="345.3" stroke="#2a2a2a" stroke-width="1" />
<line x1="415.99" y1="343.5" x2="415.99" y2="345.3" stroke="#2a2a2a" stroke-width="1" />
<line x1="417.77" y1="343.5" x2="417.77" y2="345.3" stroke="#2a2a2a" stroke-width="1" />
<line x1="419.52" y1="343.5" x2="419.52" y2="345.3" stroke="#2a2a2a" stroke-width="1" />
<line x1="422.91" y1="343.5" x2="422.91" y2="345.3" stroke="#2a2a2a" stroke-width="1" />
<line x1="424.55" y1="343.5" x2="424.55" y2="345.3" stroke="#2a2a2a" stroke-width="1" />
<line x1="426.16" y1="343.5" x2="426.16" y2="345.3" stroke="#2a2a2a" stroke-width="1" />
<line x1="427.74" y1="343.5" x2="427.74" y2="345.3" stroke="#2a2a2a" stroke-width="1" />
<line x1="429.3" y1="343.5" x2="429.3" y2="345.3" stroke="#2a2a2a" stroke-width="1" />
<line x1="260.6" y1="343.5" x2="257.6" y2="343.5" stroke="#2a2a2a" stroke-width="1" />
<line x1="260.6" y1="315.12" x2="257.6" y2="315.12" stroke="#2a2a2a" stroke-width="1" />
<line x1="260.6" y1="286.74" x2="257.6" y2="286.74" stroke="#2a2a2a" stroke-width="1" />
<line x1="260.6" y1="258.36" x2="257.6" y2="258.36" stroke="#2a2a2a" stroke-width="1" />
<line x1="260.6" y1="229.98" x2="257.6" y2="229.98" stroke="#2a2a2a" stroke-width="1" />
<line x1="260.6" y1="201.6" x2="257.6" y2="201.6" stroke="#2a2a2a" stroke-width="1" />
<line x1="260.6" y1="329.31" x2="258.6" y2="329.31" stroke="#2a2a2a" stroke-width="1" />
<line x1="260.6" y1="300.93" x2="258.6" y2="300.93" stroke="#2a2a2a" stroke-width="1" />
<line x1="260.6" y1="272.55" x2="258.6" y2="272.55" stroke="#2a2a2a" stroke-width="1" />
<line x1="260.6" y1="244.17" x2="258.6" y2="244.17" stroke="#2a2a2a" stroke-width="1" />
<line x1="260.6" y1="215.79" x2="258.6" y2="215.79" stroke="#2a2a2a" stroke-width="1" />
<text x="285" y="357.2" font-size="10.5" text-anchor="middle" fill="#1c1c1c" stroke="#1c1c1c" stroke-width="0.25" font-weight="normal" font-style="normal" font-family="'Liberation Sans', sans-serif" >20</text>
<text x="343.67" y="357.2" font-size="10.5" text-anchor="middle" fill="#1c1c1c" stroke="#1c1c1c" stroke-width="0.25" font-weight="normal" font-style="normal" font-family="'Liberation Sans', sans-serif" >40</text>
<text x="377.99" y="357.2" font-size="10.5" text-anchor="middle" fill="#1c1c1c" stroke="#1c1c1c" stroke-width="0.25" font-weight="normal" font-style="normal" font-family="'Liberation Sans', sans-serif" >60</text>
<text x="402.34" y="357.2" font-size="10.5" text-anchor="middle" fill="#1c1c1c" stroke="#1c1c1c" stroke-width="0.25" font-weight="normal" font-style="normal" font-family="'Liberation Sans', sans-serif" >80</text>
<text x="421.23" y="357.2" font-size="10.5" text-anchor="middle" fill="#1c1c1c" stroke="#1c1c1c" stroke-width="0.25" font-weight="normal" font-style="normal" font-family="'Liberation Sans', sans-serif" >100</text>
<text x="254.6" y="347.2" font-size="10.5" text-anchor="end" fill="#1c1c1c" stroke="#1c1c1c" stroke-width="0.25" font-weight="normal" font-style="normal" font-family="'Liberation Sans', sans-serif" >1.00</text>
<text x="254.6" y="318.82" font-size="10.5" text-anchor="end" fill="#1c1c1c" stroke="#1c1c1c" stroke-width="0.25" font-weight="normal" font-style="normal" font-family="'Liberation Sans', sans-serif" >1.04</text>
<text x="254.6" y="290.44" font-size="10.5" text-anchor="end" fill="#1c1c1c" stroke="#1c1c1c" stroke-width="0.25" font-weight="normal" font-style="normal" font-family="'Liberation Sans', sans-serif" >1.08</text>
<text x="254.6" y="262.06" font-size="10.5" text-anchor="end" fill="#1c1c1c" stroke="#1c1c1c" stroke-width="0.25" font-weight="normal" font-style="normal" font-family="'Liberation Sans', sans-serif" >1.12</text>
<text x="254.6" y="233.68" font-size="10.5" text-anchor="end" fill="#1c1c1c" stroke="#1c1c1c" stroke-width="0.25" font-weight="normal" font-style="normal" font-family="'Liberation Sans', sans-serif" >1.16</text>
<text x="254.6" y="205.3" font-size="10.5" text-anchor="end" fill="#1c1c1c" stroke="#1c1c1c" stroke-width="0.25" font-weight="normal" font-style="normal" font-family="'Liberation Sans', sans-serif" >1.20</text>
<text x="343.4" y="372" font-size="14.5" text-anchor="middle" fill="#1c1c1c" stroke="#1c1c1c" stroke-width="0.25" font-weight="normal" font-style="normal" font-family="'Liberation Sans', sans-serif" >Light intensity (mW cm<tspan font-size="9" dy="-5">-2</tspan><tspan dy="5">)</tspan></text>
<text transform="translate(227.3,271.5) rotate(-90)" font-size="15" text-anchor="middle" fill="#1c1c1c" stroke="#1c1c1c" stroke-width="0.25" font-family="'Liberation Sans', sans-serif"><tspan font-style="italic">V</tspan><tspan font-size="10.5" dy="3">oc</tspan><tspan dy="-3"> (V)</tspan></text>
<circle cx="313.8" cy="299.3" r="3.3" fill="url(#gb)"/>
<text x="324.2" y="303.2" font-size="11.6" text-anchor="start" fill="#1c1c1c" stroke="#1c1c1c" stroke-width="0.25" font-weight="normal" font-style="normal" font-family="'Liberation Sans', sans-serif" >1-BP-1.23</text>
<text x="384.4" y="303.2" font-size="11.6" font-style="italic" fill="#333" font-family="'Liberation Serif', serif">K<tspan font-size="8.5">B</tspan> T/q</text>
<circle cx="313.8" cy="313.9" r="3.3" fill="url(#gg)"/>
<text x="324.2" y="317.8" font-size="11.6" text-anchor="start" fill="#1c1c1c" stroke="#1c1c1c" stroke-width="0.25" font-weight="normal" font-style="normal" font-family="'Liberation Sans', sans-serif" >Control-1.61</text>
<text x="392.6" y="317.8" font-size="11.6" font-style="italic" fill="#333" font-family="'Liberation Serif', serif">K<tspan font-size="8.5">B</tspan> T/q</text>
<line x1="310.5" y1="329.2" x2="331.5" y2="329.2" stroke="#111" stroke-width="1.45" stroke-dasharray="2 1.8"/>
<text x="336.9" y="332.6" font-size="10" text-anchor="start" fill="#1c1c1c" stroke="#1c1c1c" stroke-width="0.25" font-weight="normal" font-style="normal" font-family="'Liberation Sans', sans-serif" >Fitting line</text>
<defs>
<linearGradient id="pvk" x1="0" y1="0" x2="1" y2="0">
 <stop offset="0" stop-color="#def0d9"/><stop offset="0.3" stop-color="#d3edd8"/><stop offset="0.5" stop-color="#b6e1d2"/><stop offset="0.75" stop-color="#8ed2c3"/><stop offset="1" stop-color="#62c1b0"/>
</linearGradient>
<linearGradient id="fto" x1="0" y1="0" x2="0" y2="1">
 <stop offset="0" stop-color="#b9d4e3"/><stop offset="0.6" stop-color="#dbe9f1"/><stop offset="1" stop-color="#fbfdfe"/>
</linearGradient>
<linearGradient id="spu" x1="0" y1="0" x2="0" y2="1">
 <stop offset="0" stop-color="#f6fcfb"/><stop offset="1" stop-color="#c6e8e4"/>
</linearGradient>
<linearGradient id="spl" x1="0" y1="0" x2="0" y2="1">
 <stop offset="0" stop-color="#bfe6e2"/><stop offset="0.6" stop-color="#daf0ee"/><stop offset="1" stop-color="#f9fdfc"/>
</linearGradient>
<linearGradient id="au" x1="0" y1="0" x2="0" y2="1">
 <stop offset="0" stop-color="#e2cbaf"/><stop offset="0.6" stop-color="#eee0cf"/><stop offset="1" stop-color="#fdfaf7"/>
</linearGradient>
</defs>
<rect x="495.7" y="204" width="2.3" height="156" fill="#5cc3b0"/>
<polygon points="496.85,198.3 493.4,206 500.3,206" fill="#5cc3b0"/>
<text transform="translate(486.8,284.25) rotate(-90)" font-size="14.3" text-anchor="middle" fill="#6cc8b7" font-family="'Liberation Sans', sans-serif">Energy <tspan dx="7.5">(eV)</tspan></text>
<rect x="503.9" y="278.3" width="22.4" height="81.5" fill="url(#fto)"/>
<polygon points="533.3,202.2 585.1,198.3 585.1,260.6 533.3,264.6" fill="url(#pvk)"/>
<polygon points="532.8,286.4 585,282.7 585,356.8 532.8,359.9" fill="url(#pvk)"/>
<rect x="592.3" y="209.7" width="22.4" height="23.2" fill="url(#spu)"/>
<rect x="593" y="288" width="22" height="71.5" fill="url(#spl)"/>
<rect x="622" y="286" width="21.9" height="73.5" fill="url(#au)"/>
<line x1="536.1" y1="281" x2="553.2" y2="281" stroke="#6b9bd6" stroke-width="1.0" stroke-dasharray="2.3 1.2"/>
<line x1="564.6" y1="279.4" x2="582.1" y2="279.4" stroke="#6b9bd6" stroke-width="1.0" stroke-dasharray="2.3 1.2"/>
<text x="507.8" y="288" font-size="8.2" text-anchor="start" fill="#222" stroke="#222" stroke-width="0.25" font-weight="normal" font-style="normal" font-family="'Liberation Sans', sans-serif" >-4.4</text>
<text x="535.2" y="263.5" font-size="8.2" text-anchor="start" fill="#222" stroke="#222" stroke-width="0.25" font-weight="normal" font-style="normal" font-family="'Liberation Sans', sans-serif" >-3.92</text>
<text x="563.6" y="260.2" font-size="8.2" text-anchor="start" fill="#222" stroke="#222" stroke-width="0.25" font-weight="normal" font-style="normal" font-family="'Liberation Sans', sans-serif" >-3.86</text>
<text x="535.2" y="278.8" font-size="8.2" text-anchor="start" fill="#222" stroke="#222" stroke-width="0.25" font-weight="normal" font-style="normal" font-family="'Liberation Sans', sans-serif" >-4.60</text>
<text x="564.1" y="276.6" font-size="8.2" text-anchor="start" fill="#222" stroke="#222" stroke-width="0.25" font-weight="normal" font-style="normal" font-family="'Liberation Sans', sans-serif" >-4.49</text>
<text x="533.4" y="299.6" font-size="8.2" text-anchor="start" fill="#222" stroke="#222" stroke-width="0.25" font-weight="normal" font-style="normal" font-family="'Liberation Sans', sans-serif" >-5.45</text>
<text x="562.6" y="297.4" font-size="8.2" text-anchor="start" fill="#222" stroke="#222" stroke-width="0.25" font-weight="normal" font-style="normal" font-family="'Liberation Sans', sans-serif" >-5.39</text>
<text x="593.3" y="231" font-size="8.2" text-anchor="start" fill="#222" stroke="#222" stroke-width="0.25" font-weight="normal" font-style="normal" font-family="'Liberation Sans', sans-serif" >-2.25</text>
<text x="594.1" y="298.9" font-size="8.2" text-anchor="start" fill="#222" stroke="#222" stroke-width="0.25" font-weight="normal" font-style="normal" font-family="'Liberation Sans', sans-serif" >-5.22</text>
<text x="623.9" y="298" font-size="8.2" text-anchor="start" fill="#f7f0e8" stroke="#f7f0e8" stroke-width="0.25" font-weight="normal" font-style="normal" font-family="'Liberation Sans', sans-serif" >-5.10</text>
<text x="514.1" y="356.7" font-size="8.2" text-anchor="middle" fill="#5b7fc8" stroke="#5b7fc8" stroke-width="0.25" font-weight="normal" font-style="normal" font-family="'Liberation Sans', sans-serif" >FTO</text>
<text x="558.3" y="352.9" font-size="8.2" text-anchor="middle" fill="#52709e" stroke="#52709e" stroke-width="0.25" font-weight="normal" font-style="normal" font-family="'Liberation Sans', sans-serif" >perovskite</text>
<text x="604" y="351.5" font-size="8.2" text-anchor="middle" fill="#5b86c6" stroke="#5b86c6" stroke-width="0.25" font-weight="normal" font-style="normal" font-family="'Liberation Sans', sans-serif" >spiro</text>
<text x="632.9" y="355.6" font-size="8.6" text-anchor="middle" fill="#c0652a" stroke="#c0652a" stroke-width="0.25" font-weight="normal" font-style="normal" font-family="'Liberation Sans', sans-serif" >Au</text>
<circle cx="39.5" cy="535.7" r="2.85" fill="url(#gg)"/>
<circle cx="39.64" cy="533.8" r="2.85" fill="url(#gg)"/>
<circle cx="40.05" cy="531.92" r="2.85" fill="url(#gg)"/>
<circle cx="40.72" cy="530.09" r="2.85" fill="url(#gg)"/>
<circle cx="41.66" cy="528.31" r="2.85" fill="url(#gg)"/>
<circle cx="42.85" cy="526.62" r="2.85" fill="url(#gg)"/>
<circle cx="44.27" cy="525.02" r="2.85" fill="url(#gg)"/>
<circle cx="45.92" cy="523.54" r="2.85" fill="url(#gg)"/>
<circle cx="47.77" cy="522.2" r="2.85" fill="url(#gg)"/>
<circle cx="49.8" cy="521" r="2.85" fill="url(#gg)"/>
<circle cx="51.99" cy="519.97" r="2.85" fill="url(#gg)"/>
<circle cx="54.33" cy="519.1" r="2.85" fill="url(#gg)"/>
<circle cx="56.77" cy="518.42" r="2.85" fill="url(#gg)"/>
<circle cx="59.29" cy="517.93" r="2.85" fill="url(#gg)"/>
<circle cx="61.88" cy="517.63" r="2.85" fill="url(#gg)"/>
<circle cx="64.49" cy="517.53" r="2.85" fill="url(#gg)"/>
<circle cx="67.1" cy="517.63" r="2.85" fill="url(#gg)"/>
<circle cx="69.69" cy="517.93" r="2.85" fill="url(#gg)"/>
<circle cx="72.21" cy="518.42" r="2.85" fill="url(#gg)"/>
<circle cx="74.65" cy="519.1" r="2.85" fill="url(#gg)"/>
<circle cx="76.98" cy="519.97" r="2.85" fill="url(#gg)"/>
<circle cx="79.18" cy="521" r="2.85" fill="url(#gg)"/>
<circle cx="81.21" cy="522.2" r="2.85" fill="url(#gg)"/>
<circle cx="83.06" cy="523.54" r="2.85" fill="url(#gg)"/>
<circle cx="84.71" cy="525.02" r="2.85" fill="url(#gg)"/>
<circle cx="86.13" cy="526.62" r="2.85" fill="url(#gg)"/>
<circle cx="87.32" cy="528.31" r="2.85" fill="url(#gg)"/>
<circle cx="88.26" cy="530.09" r="2.85" fill="url(#gg)"/>
<circle cx="88.93" cy="531.92" r="2.85" fill="url(#gg)"/>
<circle cx="89.34" cy="533.8" r="2.85" fill="url(#gg)"/>
<circle cx="89.48" cy="535.7" r="2.85" fill="url(#gg)"/>
<circle cx="39.5" cy="535.35" r="2.9" fill="url(#gb)"/>
<circle cx="39.71" cy="533.23" r="2.9" fill="url(#gb)"/>
<circle cx="39.92" cy="530.94" r="2.9" fill="url(#gb)"/>
<circle cx="40.13" cy="528.64" r="2.9" fill="url(#gb)"/>
<circle cx="40.34" cy="526.53" r="2.9" fill="url(#gb)"/>
<circle cx="40.55" cy="524.59" r="2.9" fill="url(#gb)"/>
<circle cx="40.76" cy="522.65" r="2.9" fill="url(#gb)"/>
<circle cx="42.65" cy="519.47" r="2.9" fill="url(#gb)"/>
<circle cx="44.75" cy="516.3" r="2.9" fill="url(#gb)"/>
<circle cx="47.48" cy="512.59" r="2.9" fill="url(#gb)"/>
<circle cx="50.63" cy="508.71" r="2.9" fill="url(#gb)"/>
<circle cx="54.2" cy="504.83" r="2.9" fill="url(#gb)"/>
<circle cx="58.82" cy="500.95" r="2.9" fill="url(#gb)"/>
<circle cx="65.54" cy="497.6" r="2.9" fill="url(#gb)"/>
<circle cx="73.1" cy="493.72" r="2.9" fill="url(#gb)"/>
<circle cx="81.5" cy="490.37" r="2.9" fill="url(#gb)"/>
<circle cx="91.16" cy="488.07" r="2.9" fill="url(#gb)"/>
<circle cx="101.45" cy="487.19" r="2.9" fill="url(#gb)"/>
<circle cx="111.53" cy="486.84" r="2.9" fill="url(#gb)"/>
<circle cx="121.82" cy="488.07" r="2.9" fill="url(#gb)"/>
<circle cx="131.69" cy="490.01" r="2.9" fill="url(#gb)"/>
<circle cx="139.67" cy="493.36" r="2.9" fill="url(#gb)"/>
<circle cx="146.81" cy="496.54" r="2.9" fill="url(#gb)"/>
<circle cx="152.9" cy="500.42" r="2.9" fill="url(#gb)"/>
<circle cx="157.1" cy="504.12" r="2.9" fill="url(#gb)"/>
<circle cx="160.46" cy="507.12" r="2.9" fill="url(#gb)"/>
<circle cx="164.03" cy="510.12" r="2.9" fill="url(#gb)"/>
<circle cx="167.39" cy="512.77" r="2.9" fill="url(#gb)"/>
<circle cx="171.17" cy="515.24" r="2.9" fill="url(#gb)"/>
<circle cx="175.16" cy="518.06" r="2.9" fill="url(#gb)"/>
<circle cx="179.15" cy="520.53" r="2.9" fill="url(#gb)"/>
<circle cx="183.14" cy="523.18" r="2.9" fill="url(#gb)"/>
<circle cx="186.92" cy="525.82" r="2.9" fill="url(#gb)"/>
<circle cx="190.91" cy="529.17" r="2.9" fill="url(#gb)"/>
<circle cx="193.22" cy="530.58" r="2.9" fill="url(#gb)"/>
<circle cx="194.9" cy="531.82" r="2.9" fill="url(#gb)"/>
<circle cx="196.16" cy="532.88" r="2.9" fill="url(#gb)"/>
<circle cx="197" cy="533.76" r="2.9" fill="url(#gb)"/>
<circle cx="198.05" cy="534.64" r="2.9" fill="url(#gb)"/>
<rect x="39.5" y="394.6" width="168.9" height="141.1" fill="none" stroke="#2a2a2a" stroke-width="1.1"/>
<line x1="39.5" y1="535.7" x2="39.5" y2="538.7" stroke="#2a2a2a" stroke-width="1" />
<line x1="81.5" y1="535.7" x2="81.5" y2="538.7" stroke="#2a2a2a" stroke-width="1" />
<line x1="123.5" y1="535.7" x2="123.5" y2="538.7" stroke="#2a2a2a" stroke-width="1" />
<line x1="165.5" y1="535.7" x2="165.5" y2="538.7" stroke="#2a2a2a" stroke-width="1" />
<line x1="207.5" y1="535.7" x2="207.5" y2="538.7" stroke="#2a2a2a" stroke-width="1" />
<line x1="60.5" y1="535.7" x2="60.5" y2="537.7" stroke="#2a2a2a" stroke-width="1" />
<line x1="102.5" y1="535.7" x2="102.5" y2="537.7" stroke="#2a2a2a" stroke-width="1" />
<line x1="144.5" y1="535.7" x2="144.5" y2="537.7" stroke="#2a2a2a" stroke-width="1" />
<line x1="186.5" y1="535.7" x2="186.5" y2="537.7" stroke="#2a2a2a" stroke-width="1" />
<line x1="39.5" y1="535.7" x2="36.5" y2="535.7" stroke="#2a2a2a" stroke-width="1" />
<line x1="39.5" y1="500.42" x2="36.5" y2="500.42" stroke="#2a2a2a" stroke-width="1" />
<line x1="39.5" y1="465.14" x2="36.5" y2="465.14" stroke="#2a2a2a" stroke-width="1" />
<line x1="39.5" y1="429.86" x2="36.5" y2="429.86" stroke="#2a2a2a" stroke-width="1" />
<line x1="39.5" y1="394.58" x2="36.5" y2="394.58" stroke="#2a2a2a" stroke-width="1" />
<line x1="39.5" y1="518.06" x2="37.5" y2="518.06" stroke="#2a2a2a" stroke-width="1" />
<line x1="39.5" y1="482.78" x2="37.5" y2="482.78" stroke="#2a2a2a" stroke-width="1" />
<line x1="39.5" y1="447.5" x2="37.5" y2="447.5" stroke="#2a2a2a" stroke-width="1" />
<line x1="39.5" y1="412.22" x2="37.5" y2="412.22" stroke="#2a2a2a" stroke-width="1" />
<text x="39.5" y="549.7" font-size="10.5" text-anchor="middle" fill="#1c1c1c" stroke="#1c1c1c" stroke-width="0.25" font-weight="normal" font-style="normal" font-family="'Liberation Sans', sans-serif" >0</text>
<text x="81.5" y="549.7" font-size="10.5" text-anchor="middle" fill="#1c1c1c" stroke="#1c1c1c" stroke-width="0.25" font-weight="normal" font-style="normal" font-family="'Liberation Sans', sans-serif" >2K</text>
<text x="123.5" y="549.7" font-size="10.5" text-anchor="middle" fill="#1c1c1c" stroke="#1c1c1c" stroke-width="0.25" font-weight="normal" font-style="normal" font-family="'Liberation Sans', sans-serif" >4K</text>
<text x="165.5" y="549.7" font-size="10.5" text-anchor="middle" fill="#1c1c1c" stroke="#1c1c1c" stroke-width="0.25" font-weight="normal" font-style="normal" font-family="'Liberation Sans', sans-serif" >6K</text>
<text x="207.5" y="549.7" font-size="10.5" text-anchor="middle" fill="#1c1c1c" stroke="#1c1c1c" stroke-width="0.25" font-weight="normal" font-style="normal" font-family="'Liberation Sans', sans-serif" >8K</text>
<text x="34.1" y="539.4" font-size="10.5" text-anchor="end" fill="#1c1c1c" stroke="#1c1c1c" stroke-width="0.25" font-weight="normal" font-style="normal" font-family="'Liberation Sans', sans-serif" >0</text>
<text x="34.1" y="504.12" font-size="10.5" text-anchor="end" fill="#1c1c1c" stroke="#1c1c1c" stroke-width="0.25" font-weight="normal" font-style="normal" font-family="'Liberation Sans', sans-serif" >2k</text>
<text x="34.1" y="468.84" font-size="10.5" text-anchor="end" fill="#1c1c1c" stroke="#1c1c1c" stroke-width="0.25" font-weight="normal" font-style="normal" font-family="'Liberation Sans', sans-serif" >4k</text>
<text x="34.1" y="433.56" font-size="10.5" text-anchor="end" fill="#1c1c1c" stroke="#1c1c1c" stroke-width="0.25" font-weight="normal" font-style="normal" font-family="'Liberation Sans', sans-serif" >6k</text>
<text x="34.1" y="398.28" font-size="10.5" text-anchor="end" fill="#1c1c1c" stroke="#1c1c1c" stroke-width="0.25" font-weight="normal" font-style="normal" font-family="'Liberation Sans', sans-serif" >8K</text>
<text x="123.8" y="567.4" font-size="14.5" text-anchor="middle" fill="#1c1c1c" stroke="#1c1c1c" stroke-width="0.25" font-weight="normal" font-style="normal" font-family="'Liberation Sans', sans-serif" >Z' (ohm)</text>
<text transform="translate(16.5,465.6) rotate(-90)" x="0" y="0" font-size="14" text-anchor="middle" fill="#1c1c1c" stroke="#1c1c1c" stroke-width="0.25" font-family="'Liberation Sans', sans-serif" >-Z'' (ohm)</text>
<polyline points="45,421.6 56.4,421.6 59,425.1 63.4,417 67.8,425.1 72.2,417 74.8,421.6 93.2,421.6 96.6,425.1 101,417 105.4,425.1 109.8,417 112.9,421.6 125.4,421.6" fill="none" stroke="#333" stroke-width="0.9" stroke-linejoin="round" />
<polyline points="87,421.6 87,432.4 101.1,432.4" fill="none" stroke="#333" stroke-width="0.9" stroke-linejoin="round" />
<polyline points="106.4,432.4 120.1,432.4 120.1,421.6" fill="none" stroke="#333" stroke-width="0.9" stroke-linejoin="round" />
<line x1="101.1" y1="429.2" x2="101.1" y2="435.5" stroke="#333" stroke-width="1" />
<line x1="106.4" y1="429.2" x2="106.4" y2="435.5" stroke="#333" stroke-width="1" />
<circle cx="87" cy="421.6" r="0.8" fill="#333"/>
<text x="65.9" y="411.1" font-size="8.8" text-anchor="middle" fill="#333" stroke="#333" stroke-width="0.25" font-weight="normal" font-style="normal" font-family="'Liberation Sans', sans-serif" >Rs</text>
<text x="106.4" y="411.1" font-size="8.8" text-anchor="middle" fill="#333" stroke="#333" stroke-width="0.25" font-weight="normal" font-style="normal" font-family="'Liberation Sans', sans-serif" >Rp</text>
<text x="105.7" y="444.6" font-size="8.8" text-anchor="middle" fill="#333" stroke="#333" stroke-width="0.25" font-weight="normal" font-style="normal" font-family="'Liberation Sans', sans-serif" >C1</text>
<circle cx="147.1" cy="415" r="3.2" fill="url(#gb)"/>
<text x="163.3" y="418.4" font-size="11.5" text-anchor="start" fill="#1c1c1c" stroke="#1c1c1c" stroke-width="0.25" font-weight="normal" font-style="normal" font-family="'Liberation Sans', sans-serif" >1-BP</text>
<circle cx="147.1" cy="426.8" r="3.2" fill="url(#gg)"/>
<text x="163.3" y="430.2" font-size="11.5" text-anchor="start" fill="#1c1c1c" stroke="#1c1c1c" stroke-width="0.25" font-weight="normal" font-style="normal" font-family="'Liberation Sans', sans-serif" >Control</text>
<circle cx="259.6" cy="530.74" r="2.3" fill="url(#gb)"/>
<circle cx="260.62" cy="529.98" r="2.3" fill="url(#gb)"/>
<circle cx="261.64" cy="529.63" r="2.3" fill="url(#gb)"/>
<circle cx="262.66" cy="528.69" r="2.3" fill="url(#gb)"/>
<circle cx="263.68" cy="529.99" r="2.3" fill="url(#gb)"/>
<circle cx="264.7" cy="528.82" r="2.3" fill="url(#gb)"/>
<circle cx="265.72" cy="534.55" r="2.3" fill="url(#gb)"/>
<circle cx="266.74" cy="531.75" r="2.3" fill="url(#gb)"/>
<circle cx="267.76" cy="528.68" r="2.3" fill="url(#gb)"/>
<circle cx="268.78" cy="530.57" r="2.3" fill="url(#gb)"/>
<circle cx="269.8" cy="528.96" r="2.3" fill="url(#gb)"/>
<circle cx="270.82" cy="534.01" r="2.3" fill="url(#gb)"/>
<circle cx="271.84" cy="531.72" r="2.3" fill="url(#gb)"/>
<circle cx="272.86" cy="533.15" r="2.3" fill="url(#gb)"/>
<circle cx="273.88" cy="531.25" r="2.3" fill="url(#gb)"/>
<circle cx="274.9" cy="531.05" r="2.3" fill="url(#gb)"/>
<circle cx="259.6" cy="531.83" r="2.3" fill="url(#gg)"/>
<circle cx="260.62" cy="531.14" r="2.3" fill="url(#gg)"/>
<circle cx="261.64" cy="528.81" r="2.3" fill="url(#gg)"/>
<circle cx="262.66" cy="531.75" r="2.3" fill="url(#gg)"/>
<circle cx="263.68" cy="531.48" r="2.3" fill="url(#gg)"/>
<circle cx="264.7" cy="530.97" r="2.3" fill="url(#gg)"/>
<circle cx="265.72" cy="533.55" r="2.3" fill="url(#gg)"/>
<circle cx="266.74" cy="531.45" r="2.3" fill="url(#gg)"/>
<circle cx="267.76" cy="530.69" r="2.3" fill="url(#gg)"/>
<circle cx="268.78" cy="529.65" r="2.3" fill="url(#gg)"/>
<circle cx="269.8" cy="534.13" r="2.3" fill="url(#gg)"/>
<circle cx="270.82" cy="532.79" r="2.3" fill="url(#gg)"/>
<circle cx="271.84" cy="534.15" r="2.3" fill="url(#gg)"/>
<circle cx="272.86" cy="529.54" r="2.3" fill="url(#gg)"/>
<circle cx="273.88" cy="530.29" r="2.3" fill="url(#gg)"/>
<circle cx="274.9" cy="534.46" r="2.3" fill="url(#gg)"/>
<circle cx="276.94" cy="523.78" r="2.3" fill="url(#gg)"/>
<circle cx="277.45" cy="516.3" r="2.3" fill="url(#gg)"/>
<circle cx="277.96" cy="500.66" r="2.3" fill="url(#gg)"/>
<circle cx="278.3" cy="478.22" r="2.3" fill="url(#gg)"/>
<circle cx="278.64" cy="453.5" r="2.3" fill="url(#gg)"/>
<circle cx="278.98" cy="432.13" r="2.3" fill="url(#gg)"/>
<circle cx="279.66" cy="420.1" r="2.3" fill="url(#gg)"/>
<circle cx="280.34" cy="409.42" r="2.3" fill="url(#gg)"/>
<circle cx="281.7" cy="402.74" r="2.3" fill="url(#gg)"/>
<circle cx="283.06" cy="401.4" r="2.3" fill="url(#gg)"/>
<circle cx="284.25" cy="400.63" r="2.3" fill="url(#gg)"/>
<circle cx="285.1" cy="406.79" r="2.3" fill="url(#gg)"/>
<circle cx="285.95" cy="412.21" r="2.3" fill="url(#gg)"/>
<circle cx="286.8" cy="415.91" r="2.3" fill="url(#gg)"/>
<circle cx="287.65" cy="419.88" r="2.3" fill="url(#gg)"/>
<circle cx="288.5" cy="424.76" r="2.3" fill="url(#gg)"/>
<circle cx="289.35" cy="435.2" r="2.3" fill="url(#gg)"/>
<circle cx="290.2" cy="442.8" r="2.3" fill="url(#gg)"/>
<circle cx="291.05" cy="446.91" r="2.3" fill="url(#gg)"/>
<circle cx="291.9" cy="451.44" r="2.3" fill="url(#gg)"/>
<circle cx="292.75" cy="455.59" r="2.3" fill="url(#gg)"/>
<circle cx="293.6" cy="457.5" r="2.3" fill="url(#gg)"/>
<circle cx="294.45" cy="459.7" r="2.3" fill="url(#gg)"/>
<circle cx="295.3" cy="461.52" r="2.3" fill="url(#gg)"/>
<circle cx="296.15" cy="464.98" r="2.3" fill="url(#gg)"/>
<circle cx="297" cy="467.99" r="2.3" fill="url(#gg)"/>
<circle cx="297.85" cy="471.69" r="2.3" fill="url(#gg)"/>
<circle cx="298.7" cy="475.26" r="2.3" fill="url(#gg)"/>
<circle cx="299.55" cy="478.87" r="2.3" fill="url(#gg)"/>
<circle cx="300.4" cy="481.87" r="2.3" fill="url(#gg)"/>
<circle cx="301.25" cy="483.17" r="2.3" fill="url(#gg)"/>
<circle cx="302.1" cy="485.4" r="2.3" fill="url(#gg)"/>
<circle cx="302.95" cy="486.42" r="2.3" fill="url(#gg)"/>
<circle cx="304.23" cy="489.96" r="2.3" fill="url(#gg)"/>
<circle cx="305.5" cy="494.6" r="2.3" fill="url(#gg)"/>
<circle cx="306.77" cy="497.29" r="2.3" fill="url(#gg)"/>
<circle cx="308.05" cy="498.95" r="2.3" fill="url(#gg)"/>
<circle cx="309.32" cy="501.95" r="2.3" fill="url(#gg)"/>
<circle cx="310.6" cy="499.88" r="2.3" fill="url(#gg)"/>
<circle cx="311.88" cy="503.27" r="2.3" fill="url(#gg)"/>
<circle cx="313.15" cy="502.06" r="2.3" fill="url(#gg)"/>
<circle cx="314.43" cy="505.53" r="2.3" fill="url(#gg)"/>
<circle cx="315.7" cy="503.37" r="2.3" fill="url(#gg)"/>
<circle cx="316.98" cy="504.77" r="2.3" fill="url(#gg)"/>
<circle cx="318.25" cy="510.06" r="2.3" fill="url(#gg)"/>
<circle cx="319.53" cy="509.68" r="2.3" fill="url(#gg)"/>
<circle cx="320.8" cy="506.67" r="2.3" fill="url(#gg)"/>
<circle cx="322.08" cy="509.72" r="2.3" fill="url(#gg)"/>
<circle cx="323.35" cy="507.67" r="2.3" fill="url(#gg)"/>
<circle cx="324.63" cy="511.43" r="2.3" fill="url(#gg)"/>
<circle cx="325.9" cy="513.79" r="2.3" fill="url(#gg)"/>
<circle cx="327.18" cy="511.42" r="2.3" fill="url(#gg)"/>
<circle cx="328.45" cy="511.23" r="2.3" fill="url(#gg)"/>
<circle cx="329.73" cy="514.55" r="2.3" fill="url(#gg)"/>
<circle cx="331" cy="516.12" r="2.3" fill="url(#gg)"/>
<circle cx="332.28" cy="515.38" r="2.3" fill="url(#gg)"/>
<circle cx="333.55" cy="512.56" r="2.3" fill="url(#gg)"/>
<circle cx="334.83" cy="514.19" r="2.3" fill="url(#gg)"/>
<circle cx="336.1" cy="518.08" r="2.3" fill="url(#gg)"/>
<circle cx="337.38" cy="517.83" r="2.3" fill="url(#gg)"/>
<circle cx="338.65" cy="519.02" r="2.3" fill="url(#gg)"/>
<circle cx="339.93" cy="519.63" r="2.3" fill="url(#gg)"/>
<circle cx="341.2" cy="516.06" r="2.3" fill="url(#gg)"/>
<circle cx="342.48" cy="519.72" r="2.3" fill="url(#gg)"/>
<circle cx="343.75" cy="518.02" r="2.3" fill="url(#gg)"/>
<circle cx="345.03" cy="518.94" r="2.3" fill="url(#gg)"/>
<circle cx="346.3" cy="520.62" r="2.3" fill="url(#gg)"/>
<circle cx="347.58" cy="518.03" r="2.3" fill="url(#gg)"/>
<circle cx="348.85" cy="521.53" r="2.3" fill="url(#gg)"/>
<circle cx="350.13" cy="519.08" r="2.3" fill="url(#gg)"/>
<circle cx="351.4" cy="522.17" r="2.3" fill="url(#gg)"/>
<circle cx="352.68" cy="520.82" r="2.3" fill="url(#gg)"/>
<circle cx="353.95" cy="522.19" r="2.3" fill="url(#gg)"/>
<circle cx="355.23" cy="522.14" r="2.3" fill="url(#gg)"/>
<circle cx="356.5" cy="518.63" r="2.3" fill="url(#gg)"/>
<circle cx="357.78" cy="519.76" r="2.3" fill="url(#gg)"/>
<circle cx="359.05" cy="522.66" r="2.3" fill="url(#gg)"/>
<circle cx="360.33" cy="519.77" r="2.3" fill="url(#gg)"/>
<circle cx="361.6" cy="523.59" r="2.3" fill="url(#gg)"/>
<circle cx="362.88" cy="522.81" r="2.3" fill="url(#gg)"/>
<circle cx="364.15" cy="520.55" r="2.3" fill="url(#gg)"/>
<circle cx="365.43" cy="521.88" r="2.3" fill="url(#gg)"/>
<circle cx="366.7" cy="524.96" r="2.3" fill="url(#gg)"/>
<circle cx="367.98" cy="520.4" r="2.3" fill="url(#gg)"/>
<circle cx="369.25" cy="524.72" r="2.3" fill="url(#gg)"/>
<circle cx="370.53" cy="524.65" r="2.3" fill="url(#gg)"/>
<circle cx="371.8" cy="522.07" r="2.3" fill="url(#gg)"/>
<circle cx="373.08" cy="524.6" r="2.3" fill="url(#gg)"/>
<circle cx="374.35" cy="524.93" r="2.3" fill="url(#gg)"/>
<circle cx="375.63" cy="526.27" r="2.3" fill="url(#gg)"/>
<circle cx="376.9" cy="526.32" r="2.3" fill="url(#gg)"/>
<circle cx="378.18" cy="523.83" r="2.3" fill="url(#gg)"/>
<circle cx="379.45" cy="525.77" r="2.3" fill="url(#gg)"/>
<circle cx="380.73" cy="523.98" r="2.3" fill="url(#gg)"/>
<circle cx="382" cy="525.33" r="2.3" fill="url(#gg)"/>
<circle cx="383.28" cy="525.01" r="2.3" fill="url(#gg)"/>
<circle cx="384.55" cy="522.42" r="2.3" fill="url(#gg)"/>
<circle cx="385.83" cy="525.07" r="2.3" fill="url(#gg)"/>
<circle cx="387.1" cy="524.69" r="2.3" fill="url(#gg)"/>
<circle cx="388.38" cy="523.24" r="2.3" fill="url(#gg)"/>
<circle cx="389.65" cy="527" r="2.3" fill="url(#gg)"/>
<circle cx="390.93" cy="527.25" r="2.3" fill="url(#gg)"/>
<circle cx="392.2" cy="523.32" r="2.3" fill="url(#gg)"/>
<circle cx="393.48" cy="523.9" r="2.3" fill="url(#gg)"/>
<circle cx="394.75" cy="527.03" r="2.3" fill="url(#gg)"/>
<circle cx="396.03" cy="527.44" r="2.3" fill="url(#gg)"/>
<circle cx="397.3" cy="524.59" r="2.3" fill="url(#gg)"/>
<circle cx="398.58" cy="523.6" r="2.3" fill="url(#gg)"/>
<circle cx="399.85" cy="527.66" r="2.3" fill="url(#gg)"/>
<circle cx="401.13" cy="523.72" r="2.3" fill="url(#gg)"/>
<circle cx="402.4" cy="524.17" r="2.3" fill="url(#gg)"/>
<circle cx="403.68" cy="525.74" r="2.3" fill="url(#gg)"/>
<circle cx="404.95" cy="526.79" r="2.3" fill="url(#gg)"/>
<circle cx="406.23" cy="528.56" r="2.3" fill="url(#gg)"/>
<circle cx="407.5" cy="528.99" r="2.3" fill="url(#gg)"/>
<circle cx="408.78" cy="524.12" r="2.3" fill="url(#gg)"/>
<circle cx="410.05" cy="528.06" r="2.3" fill="url(#gg)"/>
<circle cx="411.33" cy="525.64" r="2.3" fill="url(#gg)"/>
<circle cx="412.6" cy="528.1" r="2.3" fill="url(#gg)"/>
<circle cx="413.88" cy="525.14" r="2.3" fill="url(#gg)"/>
<circle cx="415.15" cy="526.42" r="2.3" fill="url(#gg)"/>
<circle cx="416.43" cy="528.1" r="2.3" fill="url(#gg)"/>
<circle cx="417.7" cy="528.79" r="2.3" fill="url(#gg)"/>
<circle cx="418.98" cy="525.94" r="2.3" fill="url(#gg)"/>
<circle cx="420.25" cy="529.49" r="2.3" fill="url(#gg)"/>
<circle cx="421.52" cy="528.7" r="2.3" fill="url(#gg)"/>
<circle cx="422.8" cy="526.99" r="2.3" fill="url(#gg)"/>
<circle cx="424.07" cy="525.49" r="2.3" fill="url(#gg)"/>
<circle cx="425.35" cy="526.82" r="2.3" fill="url(#gg)"/>
<circle cx="426.62" cy="528.67" r="2.3" fill="url(#gg)"/>
<circle cx="427.9" cy="525.33" r="2.3" fill="url(#gg)"/>
<circle cx="429.17" cy="529.21" r="2.3" fill="url(#gg)"/>
<circle cx="276.6" cy="528.32" r="2.3" fill="url(#gb)"/>
<circle cx="277.28" cy="513.62" r="2.3" fill="url(#gb)"/>
<circle cx="277.96" cy="497.59" r="2.3" fill="url(#gb)"/>
<circle cx="278.3" cy="468.2" r="2.3" fill="url(#gb)"/>
<circle cx="278.98" cy="437.47" r="2.3" fill="url(#gb)"/>
<circle cx="279.66" cy="417.43" r="2.3" fill="url(#gb)"/>
<circle cx="280.34" cy="401.4" r="2.3" fill="url(#gb)"/>
<circle cx="281.02" cy="404.07" r="2.3" fill="url(#gb)"/>
<circle cx="281.02" cy="408.55" r="2.3" fill="url(#gb)"/>
<circle cx="281.87" cy="410.41" r="2.3" fill="url(#gb)"/>
<circle cx="282.72" cy="412.4" r="2.3" fill="url(#gb)"/>
<circle cx="283.57" cy="415.7" r="2.3" fill="url(#gb)"/>
<circle cx="284.42" cy="432.53" r="2.3" fill="url(#gb)"/>
<circle cx="285.27" cy="441.61" r="2.3" fill="url(#gb)"/>
<circle cx="286.12" cy="452.55" r="2.3" fill="url(#gb)"/>
<circle cx="286.97" cy="458.14" r="2.3" fill="url(#gb)"/>
<circle cx="287.82" cy="467" r="2.3" fill="url(#gb)"/>
<circle cx="288.67" cy="473.39" r="2.3" fill="url(#gb)"/>
<circle cx="289.52" cy="478.35" r="2.3" fill="url(#gb)"/>
<circle cx="290.37" cy="481.7" r="2.3" fill="url(#gb)"/>
<circle cx="291.22" cy="486.62" r="2.3" fill="url(#gb)"/>
<circle cx="292.07" cy="490.55" r="2.3" fill="url(#gb)"/>
<circle cx="292.92" cy="492.63" r="2.3" fill="url(#gb)"/>
<circle cx="293.77" cy="495.02" r="2.3" fill="url(#gb)"/>
<circle cx="294.62" cy="497.79" r="2.3" fill="url(#gb)"/>
<circle cx="295.47" cy="499.62" r="2.3" fill="url(#gb)"/>
<circle cx="296.32" cy="502.49" r="2.3" fill="url(#gb)"/>
<circle cx="297.17" cy="504.44" r="2.3" fill="url(#gb)"/>
<circle cx="298.02" cy="506.42" r="2.3" fill="url(#gb)"/>
<circle cx="298.87" cy="507.03" r="2.3" fill="url(#gb)"/>
<circle cx="299.72" cy="508.42" r="2.3" fill="url(#gb)"/>
<circle cx="300.57" cy="509.17" r="2.3" fill="url(#gb)"/>
<circle cx="301.42" cy="510.17" r="2.3" fill="url(#gb)"/>
<circle cx="302.27" cy="512.05" r="2.3" fill="url(#gb)"/>
<circle cx="303.55" cy="513.01" r="2.3" fill="url(#gb)"/>
<circle cx="304.82" cy="514.67" r="2.3" fill="url(#gb)"/>
<circle cx="306.1" cy="515.65" r="2.3" fill="url(#gb)"/>
<circle cx="307.37" cy="516.74" r="2.3" fill="url(#gb)"/>
<circle cx="308.65" cy="516.73" r="2.3" fill="url(#gb)"/>
<circle cx="309.92" cy="516.45" r="2.3" fill="url(#gb)"/>
<circle cx="311.2" cy="519.05" r="2.3" fill="url(#gb)"/>
<circle cx="312.47" cy="517.56" r="2.3" fill="url(#gb)"/>
<circle cx="313.75" cy="519.31" r="2.3" fill="url(#gb)"/>
<circle cx="315.02" cy="520.04" r="2.3" fill="url(#gb)"/>
<circle cx="316.3" cy="519.01" r="2.3" fill="url(#gb)"/>
<circle cx="317.57" cy="520.67" r="2.3" fill="url(#gb)"/>
<circle cx="318.85" cy="521.75" r="2.3" fill="url(#gb)"/>
<circle cx="320.12" cy="521.75" r="2.3" fill="url(#gb)"/>
<circle cx="321.4" cy="521.54" r="2.3" fill="url(#gb)"/>
<circle cx="322.67" cy="524.1" r="2.3" fill="url(#gb)"/>
<circle cx="323.95" cy="521.62" r="2.3" fill="url(#gb)"/>
<circle cx="325.22" cy="525.1" r="2.3" fill="url(#gb)"/>
<circle cx="326.5" cy="523.18" r="2.3" fill="url(#gb)"/>
<circle cx="327.77" cy="523.27" r="2.3" fill="url(#gb)"/>
<circle cx="329.05" cy="526.3" r="2.3" fill="url(#gb)"/>
<circle cx="330.32" cy="524.19" r="2.3" fill="url(#gb)"/>
<circle cx="331.6" cy="525.88" r="2.3" fill="url(#gb)"/>
<circle cx="332.87" cy="525.52" r="2.3" fill="url(#gb)"/>
<circle cx="334.15" cy="527.65" r="2.3" fill="url(#gb)"/>
<circle cx="335.42" cy="527.83" r="2.3" fill="url(#gb)"/>
<circle cx="336.7" cy="527.69" r="2.3" fill="url(#gb)"/>
<circle cx="337.97" cy="525.49" r="2.3" fill="url(#gb)"/>
<circle cx="339.25" cy="528.21" r="2.3" fill="url(#gb)"/>
<circle cx="340.52" cy="526.7" r="2.3" fill="url(#gb)"/>
<circle cx="341.8" cy="526.43" r="2.3" fill="url(#gb)"/>
<circle cx="343.07" cy="526.67" r="2.3" fill="url(#gb)"/>
<circle cx="344.35" cy="528.86" r="2.3" fill="url(#gb)"/>
<circle cx="345.62" cy="529.07" r="2.3" fill="url(#gb)"/>
<circle cx="346.9" cy="528.74" r="2.3" fill="url(#gb)"/>
<circle cx="348.17" cy="528.15" r="2.3" fill="url(#gb)"/>
<circle cx="349.45" cy="530.49" r="2.3" fill="url(#gb)"/>
<circle cx="350.72" cy="528.64" r="2.3" fill="url(#gb)"/>
<circle cx="352" cy="528.68" r="2.3" fill="url(#gb)"/>
<circle cx="353.27" cy="528.67" r="2.3" fill="url(#gb)"/>
<circle cx="354.55" cy="531.48" r="2.3" fill="url(#gb)"/>
<circle cx="355.82" cy="528.73" r="2.3" fill="url(#gb)"/>
<circle cx="357.1" cy="531.63" r="2.3" fill="url(#gb)"/>
<circle cx="358.37" cy="530.96" r="2.3" fill="url(#gb)"/>
<circle cx="359.65" cy="530.22" r="2.3" fill="url(#gb)"/>
<circle cx="360.92" cy="529.34" r="2.3" fill="url(#gb)"/>
<circle cx="362.2" cy="531.28" r="2.3" fill="url(#gb)"/>
<circle cx="363.47" cy="529.48" r="2.3" fill="url(#gb)"/>
<circle cx="364.75" cy="530.78" r="2.3" fill="url(#gb)"/>
<circle cx="366.02" cy="531.6" r="2.3" fill="url(#gb)"/>
<circle cx="367.3" cy="531.66" r="2.3" fill="url(#gb)"/>
<circle cx="368.57" cy="532.18" r="2.3" fill="url(#gb)"/>
<circle cx="369.85" cy="532.56" r="2.3" fill="url(#gb)"/>
<circle cx="371.12" cy="532.4" r="2.3" fill="url(#gb)"/>
<circle cx="372.4" cy="530.73" r="2.3" fill="url(#gb)"/>
<circle cx="373.67" cy="529.81" r="2.3" fill="url(#gb)"/>
<circle cx="374.95" cy="532.54" r="2.3" fill="url(#gb)"/>
<circle cx="376.22" cy="532.96" r="2.3" fill="url(#gb)"/>
<circle cx="377.5" cy="530.01" r="2.3" fill="url(#gb)"/>
<circle cx="378.77" cy="531.51" r="2.3" fill="url(#gb)"/>
<circle cx="380.05" cy="531.97" r="2.3" fill="url(#gb)"/>
<circle cx="381.32" cy="532.56" r="2.3" fill="url(#gb)"/>
<circle cx="382.6" cy="531.46" r="2.3" fill="url(#gb)"/>
<circle cx="383.87" cy="530.75" r="2.3" fill="url(#gb)"/>
<circle cx="385.15" cy="531.98" r="2.3" fill="url(#gb)"/>
<circle cx="386.42" cy="532.13" r="2.3" fill="url(#gb)"/>
<circle cx="387.7" cy="533.33" r="2.3" fill="url(#gb)"/>
<circle cx="388.97" cy="530.61" r="2.3" fill="url(#gb)"/>
<circle cx="390.25" cy="533.47" r="2.3" fill="url(#gb)"/>
<circle cx="391.52" cy="532.01" r="2.3" fill="url(#gb)"/>
<circle cx="392.8" cy="530.93" r="2.3" fill="url(#gb)"/>
<circle cx="394.07" cy="533.22" r="2.3" fill="url(#gb)"/>
<circle cx="395.35" cy="531.31" r="2.3" fill="url(#gb)"/>
<circle cx="396.62" cy="530.63" r="2.3" fill="url(#gb)"/>
<circle cx="397.9" cy="531.67" r="2.3" fill="url(#gb)"/>
<circle cx="399.17" cy="531.18" r="2.3" fill="url(#gb)"/>
<circle cx="400.45" cy="533.38" r="2.3" fill="url(#gb)"/>
<circle cx="401.72" cy="532.34" r="2.3" fill="url(#gb)"/>
<circle cx="403" cy="533.27" r="2.3" fill="url(#gb)"/>
<circle cx="404.27" cy="531.05" r="2.3" fill="url(#gb)"/>
<circle cx="405.55" cy="532.82" r="2.3" fill="url(#gb)"/>
<circle cx="406.82" cy="532.33" r="2.3" fill="url(#gb)"/>
<circle cx="408.1" cy="530.58" r="2.3" fill="url(#gb)"/>
<circle cx="409.37" cy="531.07" r="2.3" fill="url(#gb)"/>
<circle cx="410.65" cy="530.68" r="2.3" fill="url(#gb)"/>
<circle cx="411.92" cy="532.36" r="2.3" fill="url(#gb)"/>
<circle cx="413.2" cy="532.26" r="2.3" fill="url(#gb)"/>
<circle cx="414.47" cy="531.49" r="2.3" fill="url(#gb)"/>
<circle cx="415.75" cy="532.3" r="2.3" fill="url(#gb)"/>
<circle cx="417.02" cy="532.91" r="2.3" fill="url(#gb)"/>
<circle cx="418.3" cy="532.56" r="2.3" fill="url(#gb)"/>
<circle cx="419.57" cy="533.39" r="2.3" fill="url(#gb)"/>
<circle cx="420.84" cy="532.66" r="2.3" fill="url(#gb)"/>
<circle cx="422.12" cy="530.71" r="2.3" fill="url(#gb)"/>
<circle cx="423.39" cy="530.81" r="2.3" fill="url(#gb)"/>
<circle cx="424.67" cy="531.89" r="2.3" fill="url(#gb)"/>
<circle cx="425.94" cy="532.3" r="2.3" fill="url(#gb)"/>
<circle cx="427.22" cy="532.83" r="2.3" fill="url(#gb)"/>
<circle cx="428.49" cy="533.64" r="2.3" fill="url(#gb)"/>
<polyline points="281.7,397.39 282.21,404.68 282.38,405.75 282.55,406.81 282.72,407.86 282.89,408.9 283.06,409.94 283.23,410.96 283.4,411.97 283.57,412.97 283.74,413.96 283.91,414.94 284.08,415.91 284.25,416.88 284.42,417.83 284.59,418.77 284.76,419.71 284.93,420.64 285.1,421.55 285.27,422.46 285.44,423.36 285.61,424.25 285.78,425.13 285.95,426.01 286.12,426.87 286.29,427.73 286.46,428.58 286.63,429.42 286.8,430.25 286.97,431.08 287.14,431.9 287.31,432.71 287.48,433.51 287.65,434.3 287.82,435.09 287.99,435.87 288.16,436.64 288.33,437.4 288.5,438.16 288.67,438.91 288.84,439.65 289.01,440.39 289.18,441.12 289.35,441.84 289.52,442.55 289.69,443.26 289.86,443.96 290.03,444.66 290.2,445.35 290.37,446.03 290.54,446.7 290.71,447.37 290.88,448.04 291.05,448.69 291.22,449.34 291.39,449.99 291.56,450.63 291.73,451.26 291.9,451.88 292.07,452.51 292.24,453.12 292.41,453.73 292.58,454.33 292.75,454.93 292.92,455.52 293.09,456.11 293.26,456.69 293.43,457.27 293.6,457.84 293.77,458.41 293.94,458.97 294.11,459.52 294.28,460.07 294.45,460.62 294.62,461.16 294.79,461.69 294.96,462.22 295.13,462.75 295.3,463.27 295.47,463.78 295.64,464.29 295.81,464.8 295.98,465.3 296.15,465.8 296.32,466.29 296.49,466.78 296.66,467.26 296.83,467.74 297,468.22 297.17,468.69 297.34,469.16 297.51,469.62 297.68,470.08 297.85,470.53 298.02,470.98 298.19,471.43 298.36,471.87 298.53,472.31 298.7,472.74 298.87,473.17 299.04,473.6 299.21,474.02 299.38,474.44 299.55,474.85 299.72,475.26 299.89,475.67 300.06,476.07 300.23,476.47 300.4,476.87 300.57,477.26 300.74,477.65 300.91,478.04 301.08,478.42 301.25,478.8 301.42,479.18 301.59,479.55 301.76,479.92 301.93,480.29 302.1,480.65 302.27,481.01 302.44,481.37 302.61,481.72 302.78,482.07 302.95,482.42 303.12,482.76 303.29,483.1 303.46,483.44 303.63,483.78 303.8,484.11 303.97,484.44 304.14,484.77 304.31,485.09 304.48,485.41 304.65,485.73 304.82,486.05 304.99,486.36 305.16,486.67 305.33,486.98 305.5,487.28 305.67,487.59 305.84,487.89 306.01,488.18 306.18,488.48 306.35,488.77 306.52,489.06 306.69,489.35 306.86,489.63 307.03,489.91 307.2,490.19 307.37,490.47 307.54,490.75 307.71,491.02 307.88,491.29 308.05,491.56 308.22,491.82 308.39,492.09 308.56,492.35 308.73,492.61 308.9,492.87 309.07,493.12 309.24,493.37 309.41,493.63 309.58,493.87 309.75,494.12 309.92,494.37 310.09,494.61 310.26,494.85 310.43,495.09 310.6,495.32 310.77,495.56 310.94,495.79 311.11,496.02 311.28,496.25 311.45,496.48 311.62,496.7 311.79,496.93 311.96,497.15 312.13,497.37 312.3,497.59 312.47,497.8 312.64,498.02 312.81,498.23 312.98,498.44 313.15,498.65 313.32,498.86 313.49,499.06 313.66,499.27 313.83,499.47 314,499.67 314.17,499.87 314.34,500.07 314.51,500.26 314.68,500.46 314.85,500.65 315.02,500.84 315.19,501.03 315.36,501.22 315.53,501.41 315.7,501.59 315.87,501.78 316.04,501.96 316.21,502.14 316.38,502.32 316.55,502.5 316.72,502.67 316.89,502.85 317.06,503.02 317.23,503.2 317.4,503.37 317.57,503.54 317.74,503.7 317.91,503.87 318.08,504.04 318.25,504.2 318.42,504.37 318.59,504.53 318.76,504.69 318.93,504.85 319.1,505.01 319.27,505.16 319.44,505.32 319.61,505.47 319.78,505.63 319.95,505.78 320.12,505.93 320.29,506.08 320.46,506.23 320.63,506.38 320.8,506.52 320.97,506.67 321.14,506.81 321.31,506.96 321.48,507.1 321.65,507.24 321.82,507.38 321.99,507.52 322.16,507.66 322.33,507.79 322.5,507.93 322.67,508.07 322.84,508.2 323.01,508.33 323.18,508.46 323.35,508.59 323.52,508.72 323.69,508.85 323.86,508.98 324.03,509.11 324.2,509.23 324.37,509.36 324.54,509.48 324.71,509.61 324.88,509.73 325.05,509.85 325.22,509.97 325.39,510.09 325.56,510.21 325.73,510.33 325.9,510.44 326.07,510.56 326.24,510.68 326.41,510.79 326.58,510.9 326.75,511.02 326.92,511.13 327.09,511.24 327.26,511.35 327.43,511.46 327.6,511.57 327.77,511.68 327.94,511.78 328.11,511.89 328.28,512 328.45,512.1 328.62,512.21 328.79,512.31 328.96,512.41 329.13,512.51 329.3,512.61 329.47,512.72 329.64,512.82 329.81,512.91 329.98,513.01 330.15,513.11 330.32,513.21 330.49,513.3 330.66,513.4 330.83,513.49 331,513.59 331.17,513.68 331.34,513.78 331.51,513.87 331.68,513.96 331.85,514.05 332.02,514.14 332.19,514.23 332.36,514.32 332.53,514.41 332.7,514.5 332.87,514.58 333.04,514.67 333.21,514.76 333.38,514.84 333.55,514.93 333.72,515.01 333.89,515.1 334.06,515.18 334.23,515.26 334.4,515.34 334.57,515.43 334.74,515.51 334.91,515.59 335.08,515.67 335.25,515.75 335.42,515.83 335.59,515.9 335.76,515.98 335.93,516.06 336.1,516.14 336.27,516.21 336.44,516.29 336.61,516.36 336.78,516.44 336.95,516.51 337.12,516.59 337.29,516.66 337.46,516.73 337.63,516.8 337.8,516.88 337.97,516.95 338.14,517.02 338.31,517.09 338.48,517.16 338.65,517.23 338.82,517.3 338.99,517.36 339.16,517.43 339.33,517.5 339.5,517.57 339.67,517.63 339.84,517.7 340.01,517.77 340.18,517.83 340.35,517.9 340.52,517.96 340.69,518.03 340.86,518.09 341.03,518.15 341.2,518.22 341.37,518.28 341.54,518.34 341.71,518.4 341.88,518.46 342.05,518.53 342.22,518.59 342.39,518.65 342.56,518.71 342.73,518.77 342.9,518.82 343.07,518.88 343.24,518.94 343.41,519 343.58,519.06 343.75,519.11 343.92,519.17 344.09,519.23 344.26,519.28 344.43,519.34 344.6,519.39 344.77,519.45 344.94,519.5 345.11,519.56 345.28,519.61 345.45,519.67 345.62,519.72 345.79,519.77 345.96,519.83 346.13,519.88 346.3,519.93 346.47,519.98 346.64,520.03 346.81,520.08 346.98,520.14 347.15,520.19 347.32,520.24 347.49,520.29 347.66,520.34 347.83,520.39 348,520.43 348.17,520.48 348.34,520.53 348.51,520.58 348.68,520.63 348.85,520.67 349.02,520.72 349.19,520.77 349.36,520.82 349.53,520.86 349.7,520.91 349.87,520.95 350.04,521 350.21,521.04 350.38,521.09 350.55,521.13 350.72,521.18 350.89,521.22 351.06,521.27 351.23,521.31 351.4,521.35 351.57,521.4 351.74,521.44 351.91,521.48 352.08,521.52 352.25,521.57 352.42,521.61 352.59,521.65 352.76,521.69 352.93,521.73 353.1,521.77 353.27,521.81 353.44,521.85 353.61,521.89 353.78,521.93 353.95,521.97 354.12,522.01 354.29,522.05 354.46,522.09 354.63,522.13 354.8,522.17 354.97,522.21 355.14,522.25 355.31,522.28 355.48,522.32 355.65,522.36 355.82,522.4 355.99,522.43 356.16,522.47 356.33,522.51 356.5,522.54 356.67,522.58 356.84,522.62 357.01,522.65 357.18,522.69 357.35,522.72 357.52,522.76 357.69,522.79 357.86,522.83 358.03,522.86 358.2,522.9 358.37,522.93 358.54,522.96 358.71,523 358.88,523.03 359.05,523.06 359.22,523.1 359.39,523.13 359.56,523.16 359.73,523.2 359.9,523.23 360.07,523.26 360.24,523.29 360.41,523.33 360.58,523.36 360.75,523.39 360.92,523.42 361.09,523.45 361.26,523.48 361.43,523.51 361.6,523.54 361.77,523.57 361.94,523.61 362.11,523.64 362.28,523.67 362.45,523.7 362.62,523.72 362.79,523.75 362.96,523.78 363.13,523.81 363.3,523.84 363.47,523.87 363.64,523.9 363.81,523.93 363.98,523.96 364.15,523.98 364.32,524.01 364.49,524.04 364.66,524.07 364.83,524.1 365,524.12 365.17,524.15 365.34,524.18 365.51,524.21 365.68,524.23 365.85,524.26 366.02,524.29 366.19,524.31 366.36,524.34 366.53,524.36 366.7,524.39 366.87,524.42 367.04,524.44 367.21,524.47 367.38,524.49 367.55,524.52 367.72,524.54 367.89,524.57 368.06,524.59 368.23,524.62 368.4,524.64 368.57,524.67 368.74,524.69 368.91,524.72 369.08,524.74 369.25,524.76 369.42,524.79 369.59,524.81 369.76,524.84 369.93,524.86 370.1,524.88 370.27,524.91 370.44,524.93 370.61,524.95 370.78,524.98 370.95,525 371.12,525.02 371.29,525.04 371.46,525.07 371.63,525.09 371.8,525.11 371.97,525.13 372.14,525.15 372.31,525.18 372.48,525.2 372.65,525.22 372.82,525.24 372.99,525.26 373.16,525.28 373.33,525.3 373.5,525.33 373.67,525.35 373.84,525.37 374.01,525.39 374.18,525.41 374.35,525.43 374.52,525.45 374.69,525.47 374.86,525.49 375.03,525.51 375.2,525.53 375.37,525.55 375.54,525.57 375.71,525.59 375.88,525.61 376.05,525.63 376.22,525.65 376.39,525.67 376.56,525.69 376.73,525.71 376.9,525.72 377.07,525.74 377.24,525.76 377.41,525.78 377.58,525.8 377.75,525.82 377.92,525.84 378.09,525.85 378.26,525.87 378.43,525.89 378.6,525.91 378.77,525.93 378.94,525.94 379.11,525.96 379.28,525.98 379.45,526 379.62,526.01 379.79,526.03 379.96,526.05 380.13,526.07 380.3,526.08 380.47,526.1 380.64,526.12 380.81,526.13 380.98,526.15 381.15,526.17 381.32,526.18 381.49,526.2 381.66,526.22 381.83,526.23 382,526.25 382.17,526.27 382.34,526.28 382.51,526.3 382.68,526.31 382.85,526.33 383.02,526.35 383.19,526.36 383.36,526.38 383.53,526.39 383.7,526.41 383.87,526.42 384.04,526.44 384.21,526.45 384.38,526.47 384.55,526.48 384.72,526.5 384.89,526.51 385.06,526.53 385.23,526.54 385.4,526.56 385.57,526.57 385.74,526.59 385.91,526.6 386.08,526.62 386.25,526.63 386.42,526.65 386.59,526.66 386.76,526.67 386.93,526.69 387.1,526.7 387.27,526.72 387.44,526.73 387.61,526.74 387.78,526.76 387.95,526.77 388.12,526.78 388.29,526.8 388.46,526.81 388.63,526.83 388.8,526.84 388.97,526.85 389.14,526.86 389.31,526.88 389.48,526.89 389.65,526.9 389.82,526.92 389.99,526.93 390.16,526.94 390.33,526.96 390.5,526.97 390.67,526.98 390.84,526.99 391.01,527.01 391.18,527.02 391.35,527.03 391.52,527.04 391.69,527.06 391.86,527.07 392.03,527.08 392.2,527.09 392.37,527.1 392.54,527.12 392.71,527.13 392.88,527.14 393.05,527.15 393.22,527.16 393.39,527.17 393.56,527.19 393.73,527.2 393.9,527.21 394.07,527.22 394.24,527.23 394.41,527.24 394.58,527.25 394.75,527.27 394.92,527.28 395.09,527.29 395.26,527.3 395.43,527.31 395.6,527.32 395.77,527.33 395.94,527.34 396.11,527.35 396.28,527.36 396.45,527.37 396.62,527.39 396.79,527.4 396.96,527.41 397.13,527.42 397.3,527.43 397.47,527.44 397.64,527.45 397.81,527.46 397.98,527.47 398.15,527.48 398.32,527.49 398.49,527.5 398.66,527.51 398.83,527.52 399,527.53 399.17,527.54 399.34,527.55 399.51,527.56 399.68,527.57 399.85,527.58 400.02,527.59 400.19,527.6 400.36,527.61 400.53,527.62 400.7,527.63 400.87,527.64 401.04,527.64 401.21,527.65 401.38,527.66 401.55,527.67 401.72,527.68 401.89,527.69 402.06,527.7 402.23,527.71 402.4,527.72 402.57,527.73 402.74,527.74 402.91,527.75 403.08,527.75 403.25,527.76 403.42,527.77 403.59,527.78 403.76,527.79 403.93,527.8 404.1,527.81 404.27,527.81 404.44,527.82 404.61,527.83 404.78,527.84 404.95,527.85 405.12,527.86 405.29,527.87 405.46,527.87 405.63,527.88 405.8,527.89 405.97,527.9 406.14,527.91 406.31,527.91 406.48,527.92 406.65,527.93 406.82,527.94 406.99,527.95 407.16,527.95 407.33,527.96 407.5,527.97 407.67,527.98 407.84,527.99 408.01,527.99 408.18,528 408.35,528.01 408.52,528.02 408.69,528.02 408.86,528.03 409.03,528.04 409.2,528.05 409.37,528.05 409.54,528.06 409.71,528.07 409.88,528.08 410.05,528.08 410.22,528.09 410.39,528.1 410.56,528.1 410.73,528.11 410.9,528.12 411.07,528.13 411.24,528.13 411.41,528.14 411.58,528.15 411.75,528.15 411.92,528.16 412.09,528.17 412.26,528.17 412.43,528.18 412.6,528.19 412.77,528.19 412.94,528.2 413.11,528.21 413.28,528.22 413.45,528.22 413.62,528.23 413.79,528.23 413.96,528.24 414.13,528.25 414.3,528.25 414.47,528.26 414.64,528.27 414.81,528.27 414.98,528.28 415.15,528.29 415.32,528.29 415.49,528.3 415.66,528.31 415.83,528.31 416,528.32 416.17,528.32 416.34,528.33 416.51,528.34 416.68,528.34 416.85,528.35 417.02,528.35 417.19,528.36 417.36,528.37 417.53,528.37 417.7,528.38 417.87,528.38 418.04,528.39 418.21,528.4 418.38,528.4 418.55,528.41 418.72,528.41 418.89,528.42 419.06,528.42 419.23,528.43 419.4,528.44 419.57,528.44 419.74,528.45 419.91,528.45 420.08,528.46 420.25,528.46 420.42,528.47 420.59,528.47 420.76,528.48 420.93,528.48 421.1,528.49 421.27,528.5 421.44,528.5 421.61,528.51 421.78,528.51 421.95,528.52 422.12,528.52 422.29,528.53 422.46,528.53 422.63,528.54 422.8,528.54 422.97,528.55 423.14,528.55 423.31,528.56 423.48,528.56 423.65,528.57 423.82,528.57 423.99,528.58 424.16,528.58 424.33,528.59 424.5,528.59 424.67,528.6 424.84,528.6 425.01,528.61 425.18,528.61 425.35,528.62 425.52,528.62 425.69,528.63 425.86,528.63 426.03,528.64 426.2,528.64 426.37,528.64 426.54,528.65 426.71,528.65 426.88,528.66 427.05,528.66 427.22,528.67 427.39,528.67 427.56,528.68 427.73,528.68 427.9,528.69 428.07,528.69 428.24,528.69 428.41,528.7 428.58,528.7 428.75,528.71 428.92,528.71 429.09,528.72 429.26,528.72 429.43,528.72 429.6,528.73" fill="none" stroke="#1a1a1a" stroke-width="1.3" stroke-linejoin="round" stroke-dasharray="3.5 3"/>
<polyline points="281.7,397.39 282.21,408.41 282.38,410.66 282.55,412.87 282.72,415.03 282.89,417.15 283.06,419.22 283.23,421.26 283.4,423.26 283.57,425.22 283.74,427.14 283.91,429.03 284.08,430.88 284.25,432.69 284.42,434.47 284.59,436.21 284.76,437.92 284.93,439.6 285.1,441.25 285.27,442.86 285.44,444.44 285.61,446 285.78,447.52 285.95,449.01 286.12,450.48 286.29,451.92 286.46,453.33 286.63,454.71 286.8,456.07 286.97,457.4 287.14,458.71 287.31,459.99 287.48,461.25 287.65,462.49 287.82,463.7 287.99,464.89 288.16,466.05 288.33,467.2 288.5,468.32 288.67,469.42 288.84,470.5 289.01,471.56 289.18,472.6 289.35,473.62 289.52,474.63 289.69,475.61 289.86,476.58 290.03,477.53 290.2,478.46 290.37,479.37 290.54,480.26 290.71,481.14 290.88,482.01 291.05,482.86 291.22,483.69 291.39,484.5 291.56,485.31 291.73,486.09 291.9,486.86 292.07,487.62 292.24,488.37 292.41,489.1 292.58,489.82 292.75,490.52 292.92,491.21 293.09,491.89 293.26,492.56 293.43,493.21 293.6,493.86 293.77,494.49 293.94,495.11 294.11,495.72 294.28,496.31 294.45,496.9 294.62,497.48 294.79,498.04 294.96,498.6 295.13,499.14 295.3,499.68 295.47,500.21 295.64,500.73 295.81,501.23 295.98,501.73 296.15,502.22 296.32,502.7 296.49,503.18 296.66,503.64 296.83,504.1 297,504.55 297.17,504.99 297.34,505.42 297.51,505.84 297.68,506.26 297.85,506.67 298.02,507.08 298.19,507.47 298.36,507.86 298.53,508.24 298.7,508.62 298.87,508.99 299.04,509.35 299.21,509.71 299.38,510.06 299.55,510.4 299.72,510.74 299.89,511.07 300.06,511.4 300.23,511.72 300.4,512.04 300.57,512.35 300.74,512.65 300.91,512.95 301.08,513.25 301.25,513.54 301.42,513.82 301.59,514.1 301.76,514.38 301.93,514.65 302.1,514.91 302.27,515.17 302.44,515.43 302.61,515.68 302.78,515.93 302.95,516.17 303.12,516.41 303.29,516.65 303.46,516.88 303.63,517.11 303.8,517.33 303.97,517.56 304.14,517.77 304.31,517.99 304.48,518.2 304.65,518.4 304.82,518.6 304.99,518.8 305.16,519 305.33,519.19 305.5,519.38 305.67,519.57 305.84,519.75 306.01,519.93 306.18,520.11 306.35,520.29 306.52,520.46 306.69,520.63 306.86,520.79 307.03,520.96 307.2,521.12 307.37,521.28 307.54,521.43 307.71,521.58 307.88,521.74 308.05,521.88 308.22,522.03 308.39,522.17 308.56,522.31 308.73,522.45 308.9,522.59 309.07,522.72 309.24,522.86 309.41,522.99 309.58,523.12 309.75,523.24 309.92,523.37 310.09,523.49 310.26,523.61 310.43,523.73 310.6,523.84 310.77,523.96 310.94,524.07 311.11,524.18 311.28,524.29 311.45,524.4 311.62,524.5 311.79,524.61 311.96,524.71 312.13,524.81 312.3,524.91 312.47,525.01 312.64,525.11 312.81,525.2 312.98,525.29 313.15,525.39 313.32,525.48 313.49,525.57 313.66,525.65 313.83,525.74 314,525.82 314.17,525.91 314.34,525.99 314.51,526.07 314.68,526.15 314.85,526.23 315.02,526.31 315.19,526.38 315.36,526.46 315.53,526.53 315.7,526.61 315.87,526.68 316.04,526.75 316.21,526.82 316.38,526.89 316.55,526.95 316.72,527.02 316.89,527.09 317.06,527.15 317.23,527.21 317.4,527.28 317.57,527.34 317.74,527.4 317.91,527.46 318.08,527.52 318.25,527.58 318.42,527.63 318.59,527.69 318.76,527.75 318.93,527.8 319.1,527.85 319.27,527.91 319.44,527.96 319.61,528.01 319.78,528.06 319.95,528.11 320.12,528.16 320.29,528.21 320.46,528.26 320.63,528.3 320.8,528.35 320.97,528.4 321.14,528.44 321.31,528.49 321.48,528.53 321.65,528.57 321.82,528.61 321.99,528.66 322.16,528.7 322.33,528.74 322.5,528.78 322.67,528.82 322.84,528.86 323.01,528.9 323.18,528.93 323.35,528.97 323.52,529.01 323.69,529.04 323.86,529.08 324.03,529.11 324.2,529.15 324.37,529.18 324.54,529.22 324.71,529.25 324.88,529.28 325.05,529.31 325.22,529.35 325.39,529.38 325.56,529.41 325.73,529.44 325.9,529.47 326.07,529.5 326.24,529.53 326.41,529.56 326.58,529.59 326.75,529.61 326.92,529.64 327.09,529.67 327.26,529.69 327.43,529.72 327.6,529.75 327.77,529.77 327.94,529.8 328.11,529.82 328.28,529.85 328.45,529.87 328.62,529.9 328.79,529.92 328.96,529.94 329.13,529.97 329.3,529.99 329.47,530.01 329.64,530.03 329.81,530.05 329.98,530.08 330.15,530.1 330.32,530.12 330.49,530.14 330.66,530.16 330.83,530.18 331,530.2 331.17,530.22 331.34,530.24 331.51,530.25 331.68,530.27 331.85,530.29 332.02,530.31 332.19,530.33 332.36,530.35 332.53,530.36 332.7,530.38 332.87,530.4 333.04,530.41 333.21,530.43 333.38,530.45 333.55,530.46 333.72,530.48 333.89,530.49 334.06,530.51 334.23,530.52 334.4,530.54 334.57,530.55 334.74,530.57 334.91,530.58 335.08,530.6 335.25,530.61 335.42,530.62 335.59,530.64 335.76,530.65 335.93,530.66 336.1,530.68 336.27,530.69 336.44,530.7 336.61,530.71 336.78,530.73 336.95,530.74 337.12,530.75 337.29,530.76 337.46,530.77 337.63,530.79 337.8,530.8 337.97,530.81 338.14,530.82 338.31,530.83 338.48,530.84 338.65,530.85 338.82,530.86 338.99,530.87 339.16,530.88 339.33,530.89 339.5,530.9 339.67,530.91 339.84,530.92 340.01,530.93 340.18,530.94 340.35,530.95 340.52,530.96 340.69,530.97 340.86,530.98 341.03,530.99 341.2,531 341.37,531 341.54,531.01 341.71,531.02 341.88,531.03 342.05,531.04 342.22,531.05 342.39,531.05 342.56,531.06 342.73,531.07 342.9,531.08 343.07,531.08 343.24,531.09 343.41,531.1 343.58,531.11 343.75,531.11 343.92,531.12 344.09,531.13 344.26,531.13 344.43,531.14 344.6,531.15 344.77,531.15 344.94,531.16 345.11,531.17 345.28,531.17 345.45,531.18 345.62,531.19 345.79,531.19 345.96,531.2 346.13,531.2 346.3,531.21 346.47,531.22 346.64,531.22 346.81,531.23 346.98,531.23 347.15,531.24 347.32,531.24 347.49,531.25 347.66,531.25 347.83,531.26 348,531.26 348.17,531.27 348.34,531.27 348.51,531.28 348.68,531.28 348.85,531.29 349.02,531.29 349.19,531.3 349.36,531.3 349.53,531.31 349.7,531.31 349.87,531.32 350.04,531.32 350.21,531.32 350.38,531.33 350.55,531.33 350.72,531.34 350.89,531.34 351.06,531.35 351.23,531.35 351.4,531.35 351.57,531.36 351.74,531.36 351.91,531.36 352.08,531.37 352.25,531.37 352.42,531.38 352.59,531.38 352.76,531.38 352.93,531.39 353.1,531.39 353.27,531.39 353.44,531.4 353.61,531.4 353.78,531.4 353.95,531.41 354.12,531.41 354.29,531.41 354.46,531.42 354.63,531.42 354.8,531.42 354.97,531.43 355.14,531.43 355.31,531.43 355.48,531.43 355.65,531.44 355.82,531.44 355.99,531.44 356.16,531.45 356.33,531.45 356.5,531.45 356.67,531.45 356.84,531.46 357.01,531.46 357.18,531.46 357.35,531.46 357.52,531.47 357.69,531.47 357.86,531.47 358.03,531.47 358.2,531.48 358.37,531.48 358.54,531.48 358.71,531.48 358.88,531.48 359.05,531.49 359.22,531.49 359.39,531.49 359.56,531.49 359.73,531.5 359.9,531.5 360.07,531.5 360.24,531.5 360.41,531.5 360.58,531.51 360.75,531.51 360.92,531.51 361.09,531.51 361.26,531.51 361.43,531.52 361.6,531.52 361.77,531.52 361.94,531.52 362.11,531.52 362.28,531.52 362.45,531.53 362.62,531.53 362.79,531.53 362.96,531.53 363.13,531.53 363.3,531.53 363.47,531.54 363.64,531.54 363.81,531.54 363.98,531.54 364.15,531.54 364.32,531.54 364.49,531.54 364.66,531.55 364.83,531.55 365,531.55 365.17,531.55 365.34,531.55 365.51,531.55 365.68,531.55 365.85,531.56 366.02,531.56 366.19,531.56 366.36,531.56 366.53,531.56 366.7,531.56 366.87,531.56 367.04,531.56 367.21,531.57 367.38,531.57 367.55,531.57 367.72,531.57 367.89,531.57 368.06,531.57 368.23,531.57 368.4,531.57 368.57,531.57 368.74,531.58 368.91,531.58 369.08,531.58 369.25,531.58 369.42,531.58 369.59,531.58 369.76,531.58 369.93,531.58 370.1,531.58 370.27,531.58 370.44,531.59 370.61,531.59 370.78,531.59 370.95,531.59 371.12,531.59 371.29,531.59 371.46,531.59 371.63,531.59 371.8,531.59 371.97,531.59 372.14,531.59 372.31,531.6 372.48,531.6 372.65,531.6 372.82,531.6 372.99,531.6 373.16,531.6 373.33,531.6 373.5,531.6 373.67,531.6 373.84,531.6 374.01,531.6 374.18,531.6 374.35,531.6 374.52,531.61 374.69,531.61 374.86,531.61 375.03,531.61 375.2,531.61 375.37,531.61 375.54,531.61 375.71,531.61 375.88,531.61 376.05,531.61 376.22,531.61 376.39,531.61 376.56,531.61 376.73,531.61 376.9,531.61 377.07,531.61 377.24,531.62 377.41,531.62 377.58,531.62 377.75,531.62 377.92,531.62 378.09,531.62 378.26,531.62 378.43,531.62 378.6,531.62 378.77,531.62 378.94,531.62 379.11,531.62 379.28,531.62 379.45,531.62 379.62,531.62 379.79,531.62 379.96,531.62 380.13,531.62 380.3,531.62 380.47,531.62 380.64,531.63 380.81,531.63 380.98,531.63 381.15,531.63 381.32,531.63 381.49,531.63 381.66,531.63 381.83,531.63 382,531.63 382.17,531.63 382.34,531.63 382.51,531.63 382.68,531.63 382.85,531.63 383.02,531.63 383.19,531.63 383.36,531.63 383.53,531.63 383.7,531.63 383.87,531.63 384.04,531.63 384.21,531.63 384.38,531.63 384.55,531.63 384.72,531.63 384.89,531.63 385.06,531.63 385.23,531.64 385.4,531.64 385.57,531.64 385.74,531.64 385.91,531.64 386.08,531.64 386.25,531.64 386.42,531.64 386.59,531.64 386.76,531.64 386.93,531.64 387.1,531.64 387.27,531.64 387.44,531.64 387.61,531.64 387.78,531.64 387.95,531.64 388.12,531.64 388.29,531.64 388.46,531.64 388.63,531.64 388.8,531.64 388.97,531.64 389.14,531.64 389.31,531.64 389.48,531.64 389.65,531.64 389.82,531.64 389.99,531.64 390.16,531.64 390.33,531.64 390.5,531.64 390.67,531.64 390.84,531.64 391.01,531.64 391.18,531.64 391.35,531.64 391.52,531.64 391.69,531.64 391.86,531.64 392.03,531.64 392.2,531.65 392.37,531.65 392.54,531.65 392.71,531.65 392.88,531.65 393.05,531.65 393.22,531.65 393.39,531.65 393.56,531.65 393.73,531.65 393.9,531.65 394.07,531.65 394.24,531.65 394.41,531.65 394.58,531.65 394.75,531.65 394.92,531.65 395.09,531.65 395.26,531.65 395.43,531.65 395.6,531.65 395.77,531.65 395.94,531.65 396.11,531.65 396.28,531.65 396.45,531.65 396.62,531.65 396.79,531.65 396.96,531.65 397.13,531.65 397.3,531.65 397.47,531.65 397.64,531.65 397.81,531.65 397.98,531.65 398.15,531.65 398.32,531.65 398.49,531.65 398.66,531.65 398.83,531.65 399,531.65 399.17,531.65 399.34,531.65 399.51,531.65 399.68,531.65 399.85,531.65 400.02,531.65 400.19,531.65 400.36,531.65 400.53,531.65 400.7,531.65 400.87,531.65 401.04,531.65 401.21,531.65 401.38,531.65 401.55,531.65 401.72,531.65 401.89,531.65 402.06,531.65 402.23,531.65 402.4,531.65 402.57,531.65 402.74,531.65 402.91,531.65 403.08,531.65 403.25,531.65 403.42,531.65 403.59,531.65 403.76,531.65 403.93,531.65 404.1,531.65 404.27,531.65 404.44,531.65 404.61,531.65 404.78,531.65 404.95,531.65 405.12,531.65 405.29,531.65 405.46,531.65 405.63,531.65 405.8,531.65 405.97,531.65 406.14,531.65 406.31,531.65 406.48,531.65 406.65,531.65 406.82,531.65 406.99,531.65 407.16,531.66 407.33,531.66 407.5,531.66 407.67,531.66 407.84,531.66 408.01,531.66 408.18,531.66 408.35,531.66 408.52,531.66 408.69,531.66 408.86,531.66 409.03,531.66 409.2,531.66 409.37,531.66 409.54,531.66 409.71,531.66 409.88,531.66 410.05,531.66 410.22,531.66 410.39,531.66 410.56,531.66 410.73,531.66 410.9,531.66 411.07,531.66 411.24,531.66 411.41,531.66 411.58,531.66 411.75,531.66 411.92,531.66 412.09,531.66 412.26,531.66 412.43,531.66 412.6,531.66 412.77,531.66 412.94,531.66 413.11,531.66 413.28,531.66 413.45,531.66 413.62,531.66 413.79,531.66 413.96,531.66 414.13,531.66 414.3,531.66 414.47,531.66 414.64,531.66 414.81,531.66 414.98,531.66 415.15,531.66 415.32,531.66 415.49,531.66 415.66,531.66 415.83,531.66 416,531.66 416.17,531.66 416.34,531.66 416.51,531.66 416.68,531.66 416.85,531.66 417.02,531.66 417.19,531.66 417.36,531.66 417.53,531.66 417.7,531.66 417.87,531.66 418.04,531.66 418.21,531.66 418.38,531.66 418.55,531.66 418.72,531.66 418.89,531.66 419.06,531.66 419.23,531.66 419.4,531.66 419.57,531.66 419.74,531.66 419.91,531.66 420.08,531.66 420.25,531.66 420.42,531.66 420.59,531.66 420.76,531.66 420.93,531.66 421.1,531.66 421.27,531.66 421.44,531.66 421.61,531.66 421.78,531.66 421.95,531.66 422.12,531.66 422.29,531.66 422.46,531.66 422.63,531.66 422.8,531.66 422.97,531.66 423.14,531.66 423.31,531.66 423.48,531.66 423.65,531.66 423.82,531.66 423.99,531.66 424.16,531.66 424.33,531.66 424.5,531.66 424.67,531.66 424.84,531.66 425.01,531.66 425.18,531.66 425.35,531.66 425.52,531.66 425.69,531.66 425.86,531.66 426.03,531.66 426.2,531.66 426.37,531.66 426.54,531.66 426.71,531.66 426.88,531.66 427.05,531.66 427.22,531.66 427.39,531.66 427.56,531.66 427.73,531.66 427.9,531.66 428.07,531.66 428.24,531.66 428.41,531.66 428.58,531.66 428.75,531.66 428.92,531.66 429.09,531.66 429.26,531.66 429.43,531.66 429.6,531.66" fill="none" stroke="#1a1a1a" stroke-width="1.3" stroke-linejoin="round" stroke-dasharray="3.5 3"/>
<rect x="260.3" y="394.6" width="169.3" height="140.4" fill="none" stroke="#2a2a2a" stroke-width="1.1"/>
<line x1="259.6" y1="535" x2="259.6" y2="538" stroke="#2a2a2a" stroke-width="1" />
<line x1="293.6" y1="535" x2="293.6" y2="538" stroke="#2a2a2a" stroke-width="1" />
<line x1="327.6" y1="535" x2="327.6" y2="538" stroke="#2a2a2a" stroke-width="1" />
<line x1="361.6" y1="535" x2="361.6" y2="538" stroke="#2a2a2a" stroke-width="1" />
<line x1="395.6" y1="535" x2="395.6" y2="538" stroke="#2a2a2a" stroke-width="1" />
<line x1="429.6" y1="535" x2="429.6" y2="538" stroke="#2a2a2a" stroke-width="1" />
<line x1="276.6" y1="535" x2="276.6" y2="537" stroke="#2a2a2a" stroke-width="1" />
<line x1="310.6" y1="535" x2="310.6" y2="537" stroke="#2a2a2a" stroke-width="1" />
<line x1="344.6" y1="535" x2="344.6" y2="537" stroke="#2a2a2a" stroke-width="1" />
<line x1="378.6" y1="535" x2="378.6" y2="537" stroke="#2a2a2a" stroke-width="1" />
<line x1="412.6" y1="535" x2="412.6" y2="537" stroke="#2a2a2a" stroke-width="1" />
<line x1="260.3" y1="535" x2="257.3" y2="535" stroke="#2a2a2a" stroke-width="1" />
<line x1="260.3" y1="508.28" x2="257.3" y2="508.28" stroke="#2a2a2a" stroke-width="1" />
<line x1="260.3" y1="481.56" x2="257.3" y2="481.56" stroke="#2a2a2a" stroke-width="1" />
<line x1="260.3" y1="454.84" x2="257.3" y2="454.84" stroke="#2a2a2a" stroke-width="1" />
<line x1="260.3" y1="428.12" x2="257.3" y2="428.12" stroke="#2a2a2a" stroke-width="1" />
<line x1="260.3" y1="401.4" x2="257.3" y2="401.4" stroke="#2a2a2a" stroke-width="1" />
<line x1="260.3" y1="521.64" x2="258.3" y2="521.64" stroke="#2a2a2a" stroke-width="1" />
<line x1="260.3" y1="494.92" x2="258.3" y2="494.92" stroke="#2a2a2a" stroke-width="1" />
<line x1="260.3" y1="468.2" x2="258.3" y2="468.2" stroke="#2a2a2a" stroke-width="1" />
<line x1="260.3" y1="441.48" x2="258.3" y2="441.48" stroke="#2a2a2a" stroke-width="1" />
<line x1="260.3" y1="414.76" x2="258.3" y2="414.76" stroke="#2a2a2a" stroke-width="1" />
<text x="259.6" y="549.6" font-size="10.5" text-anchor="middle" fill="#1c1c1c" stroke="#1c1c1c" stroke-width="0.25" font-weight="normal" font-style="normal" font-family="'Liberation Sans', sans-serif" >0</text>
<text x="293.6" y="549.6" font-size="10.5" text-anchor="middle" fill="#1c1c1c" stroke="#1c1c1c" stroke-width="0.25" font-weight="normal" font-style="normal" font-family="'Liberation Sans', sans-serif" >2</text>
<text x="327.6" y="549.6" font-size="10.5" text-anchor="middle" fill="#1c1c1c" stroke="#1c1c1c" stroke-width="0.25" font-weight="normal" font-style="normal" font-family="'Liberation Sans', sans-serif" >4</text>
<text x="361.6" y="549.6" font-size="10.5" text-anchor="middle" fill="#1c1c1c" stroke="#1c1c1c" stroke-width="0.25" font-weight="normal" font-style="normal" font-family="'Liberation Sans', sans-serif" >6</text>
<text x="395.6" y="549.6" font-size="10.5" text-anchor="middle" fill="#1c1c1c" stroke="#1c1c1c" stroke-width="0.25" font-weight="normal" font-style="normal" font-family="'Liberation Sans', sans-serif" >8</text>
<text x="429.6" y="549.6" font-size="10.5" text-anchor="middle" fill="#1c1c1c" stroke="#1c1c1c" stroke-width="0.25" font-weight="normal" font-style="normal" font-family="'Liberation Sans', sans-serif" >10</text>
<text x="253.7" y="538.7" font-size="10.5" text-anchor="end" fill="#1c1c1c" stroke="#1c1c1c" stroke-width="0.25" font-weight="normal" font-style="normal" font-family="'Liberation Sans', sans-serif" >0.0</text>
<text x="253.7" y="511.98" font-size="10.5" text-anchor="end" fill="#1c1c1c" stroke="#1c1c1c" stroke-width="0.25" font-weight="normal" font-style="normal" font-family="'Liberation Sans', sans-serif" >0.2</text>
<text x="253.7" y="485.26" font-size="10.5" text-anchor="end" fill="#1c1c1c" stroke="#1c1c1c" stroke-width="0.25" font-weight="normal" font-style="normal" font-family="'Liberation Sans', sans-serif" >0.4</text>
<text x="253.7" y="458.54" font-size="10.5" text-anchor="end" fill="#1c1c1c" stroke="#1c1c1c" stroke-width="0.25" font-weight="normal" font-style="normal" font-family="'Liberation Sans', sans-serif" >0.6</text>
<text x="253.7" y="431.82" font-size="10.5" text-anchor="end" fill="#1c1c1c" stroke="#1c1c1c" stroke-width="0.25" font-weight="normal" font-style="normal" font-family="'Liberation Sans', sans-serif" >0.8</text>
<text x="253.7" y="405.1" font-size="10.5" text-anchor="end" fill="#1c1c1c" stroke="#1c1c1c" stroke-width="0.25" font-weight="normal" font-style="normal" font-family="'Liberation Sans', sans-serif" >1.0</text>
<text x="344.5" y="566.5" font-size="14.5" text-anchor="middle" fill="#1c1c1c" stroke="#1c1c1c" stroke-width="0.25" font-weight="normal" font-style="normal" font-family="'Liberation Sans', sans-serif" >Time (µs)</text>
<text transform="translate(233.6,464.7) rotate(-90)" x="0" y="0" font-size="14.7" text-anchor="middle" fill="#1c1c1c" stroke="#1c1c1c" stroke-width="0.25" font-family="'Liberation Sans', sans-serif" >Nor. TPC</text>
<circle cx="355" cy="414.3" r="2.3" fill="url(#gb)"/>
<text x="371.1" y="418" font-size="11.5" text-anchor="start" fill="#1c1c1c" stroke="#1c1c1c" stroke-width="0.25" font-weight="normal" font-style="normal" font-family="'Liberation Sans', sans-serif" >1-BP</text>
<circle cx="355" cy="427" r="2.3" fill="url(#gg)"/>
<text x="370.3" y="431" font-size="11.5" text-anchor="start" fill="#1c1c1c" stroke="#1c1c1c" stroke-width="0.25" font-weight="normal" font-style="normal" font-family="'Liberation Sans', sans-serif" >Control</text>
<line x1="346" y1="441.7" x2="366" y2="441.7" stroke="#1a1a1a" stroke-width="1.3" stroke-dasharray="3.5 3"/>
<text x="372.8" y="445.4" font-size="11.5" text-anchor="start" fill="#1c1c1c" stroke="#1c1c1c" stroke-width="0.25" font-weight="normal" font-style="normal" font-family="'Liberation Sans', sans-serif" >Fitting line</text>
<circle cx="482.1" cy="518.2" r="2.3" fill="url(#gg)"/>
<circle cx="482.52" cy="422.22" r="2.4" fill="url(#gg)"/>
<circle cx="482.94" cy="426.87" r="2.4" fill="url(#gg)"/>
<circle cx="483.36" cy="431.82" r="2.4" fill="url(#gg)"/>
<circle cx="483.78" cy="436.06" r="2.4" fill="url(#gg)"/>
<circle cx="484.21" cy="440.31" r="2.4" fill="url(#gg)"/>
<circle cx="484.63" cy="445.02" r="2.4" fill="url(#gg)"/>
<circle cx="485.05" cy="448.93" r="2.4" fill="url(#gg)"/>
<circle cx="485.47" cy="451.62" r="2.4" fill="url(#gg)"/>
<circle cx="485.89" cy="455.76" r="2.4" fill="url(#gg)"/>
<circle cx="486.31" cy="459.08" r="2.4" fill="url(#gg)"/>
<circle cx="486.73" cy="461.31" r="2.4" fill="url(#gg)"/>
<circle cx="487.15" cy="464.88" r="2.4" fill="url(#gg)"/>
<circle cx="487.57" cy="467.26" r="2.4" fill="url(#gg)"/>
<circle cx="487.99" cy="470.35" r="2.4" fill="url(#gg)"/>
<circle cx="488.42" cy="472.68" r="2.4" fill="url(#gg)"/>
<circle cx="488.84" cy="475.65" r="2.4" fill="url(#gg)"/>
<circle cx="489.26" cy="477.36" r="2.4" fill="url(#gg)"/>
<circle cx="489.68" cy="479.24" r="2.4" fill="url(#gg)"/>
<circle cx="490.1" cy="481.7" r="2.4" fill="url(#gg)"/>
<circle cx="490.52" cy="483.38" r="2.4" fill="url(#gg)"/>
<circle cx="490.94" cy="485.31" r="2.4" fill="url(#gg)"/>
<circle cx="491.36" cy="487.77" r="2.4" fill="url(#gg)"/>
<circle cx="491.78" cy="488.61" r="2.4" fill="url(#gg)"/>
<circle cx="492.2" cy="490.38" r="2.4" fill="url(#gg)"/>
<circle cx="492.62" cy="492.21" r="2.4" fill="url(#gg)"/>
<circle cx="493.05" cy="493.95" r="2.4" fill="url(#gg)"/>
<circle cx="493.47" cy="494.31" r="2.4" fill="url(#gg)"/>
<circle cx="493.89" cy="496.05" r="2.4" fill="url(#gg)"/>
<circle cx="494.31" cy="496.97" r="2.4" fill="url(#gg)"/>
<circle cx="494.73" cy="497.93" r="2.4" fill="url(#gg)"/>
<circle cx="495.15" cy="499.21" r="2.4" fill="url(#gg)"/>
<circle cx="495.57" cy="500" r="2.4" fill="url(#gg)"/>
<circle cx="495.99" cy="501.6" r="2.4" fill="url(#gg)"/>
<circle cx="496.41" cy="502.05" r="2.4" fill="url(#gg)"/>
<circle cx="496.84" cy="503.35" r="2.4" fill="url(#gg)"/>
<circle cx="497.26" cy="503.61" r="2.4" fill="url(#gg)"/>
<circle cx="497.68" cy="504.47" r="2.4" fill="url(#gg)"/>
<circle cx="498.1" cy="506.14" r="2.4" fill="url(#gg)"/>
<circle cx="498.52" cy="506.81" r="2.4" fill="url(#gg)"/>
<circle cx="498.94" cy="507.39" r="2.4" fill="url(#gg)"/>
<circle cx="499.36" cy="507.16" r="2.4" fill="url(#gg)"/>
<circle cx="499.78" cy="508.39" r="2.4" fill="url(#gg)"/>
<circle cx="500.2" cy="508.75" r="2.4" fill="url(#gg)"/>
<circle cx="500.62" cy="509.68" r="2.4" fill="url(#gg)"/>
<circle cx="501.05" cy="509.96" r="2.4" fill="url(#gg)"/>
<circle cx="501.47" cy="510.59" r="2.4" fill="url(#gg)"/>
<circle cx="501.89" cy="511.1" r="2.4" fill="url(#gg)"/>
<circle cx="502.31" cy="511.27" r="2.4" fill="url(#gg)"/>
<circle cx="502.73" cy="511.7" r="2.4" fill="url(#gg)"/>
<circle cx="503.15" cy="511.72" r="2.4" fill="url(#gg)"/>
<circle cx="503.57" cy="512.36" r="2.4" fill="url(#gg)"/>
<circle cx="503.99" cy="512.43" r="2.4" fill="url(#gg)"/>
<circle cx="504.41" cy="512.86" r="2.4" fill="url(#gg)"/>
<circle cx="504.83" cy="513.03" r="2.4" fill="url(#gg)"/>
<circle cx="505.25" cy="513.71" r="2.4" fill="url(#gg)"/>
<circle cx="505.68" cy="514.6" r="2.4" fill="url(#gg)"/>
<circle cx="506.1" cy="514.06" r="2.4" fill="url(#gg)"/>
<circle cx="506.52" cy="514.2" r="2.4" fill="url(#gg)"/>
<circle cx="506.94" cy="514.52" r="2.4" fill="url(#gg)"/>
<circle cx="507.36" cy="515.15" r="2.4" fill="url(#gg)"/>
<circle cx="507.78" cy="515.2" r="2.4" fill="url(#gg)"/>
<circle cx="508.2" cy="516" r="2.4" fill="url(#gg)"/>
<circle cx="508.62" cy="515.48" r="2.4" fill="url(#gg)"/>
<circle cx="509.04" cy="515.97" r="2.4" fill="url(#gg)"/>
<circle cx="509.47" cy="516.49" r="2.4" fill="url(#gg)"/>
<circle cx="509.89" cy="516.92" r="2.4" fill="url(#gg)"/>
<circle cx="510.31" cy="516.16" r="2.4" fill="url(#gg)"/>
<circle cx="510.73" cy="516.16" r="2.4" fill="url(#gg)"/>
<circle cx="511.15" cy="517.36" r="2.4" fill="url(#gg)"/>
<circle cx="511.57" cy="516.67" r="2.4" fill="url(#gg)"/>
<circle cx="511.99" cy="517.26" r="2.4" fill="url(#gg)"/>
<circle cx="512.41" cy="517.69" r="2.4" fill="url(#gg)"/>
<circle cx="512.83" cy="517.64" r="2.4" fill="url(#gg)"/>
<circle cx="513.25" cy="517.2" r="2.4" fill="url(#gg)"/>
<circle cx="513.68" cy="517.18" r="2.4" fill="url(#gg)"/>
<circle cx="514.1" cy="518.25" r="2.4" fill="url(#gg)"/>
<circle cx="514.52" cy="517.68" r="2.4" fill="url(#gg)"/>
<circle cx="514.94" cy="518.44" r="2.4" fill="url(#gg)"/>
<circle cx="515.36" cy="517.74" r="2.4" fill="url(#gg)"/>
<circle cx="515.78" cy="518.27" r="2.4" fill="url(#gg)"/>
<circle cx="516.45" cy="517.75" r="2.4" fill="url(#gg)"/>
<circle cx="517.13" cy="517.75" r="2.4" fill="url(#gg)"/>
<circle cx="517.8" cy="518.41" r="2.4" fill="url(#gg)"/>
<circle cx="518.47" cy="517.93" r="2.4" fill="url(#gg)"/>
<circle cx="519.15" cy="518.82" r="2.4" fill="url(#gg)"/>
<circle cx="519.82" cy="519.18" r="2.4" fill="url(#gg)"/>
<circle cx="520.5" cy="518.64" r="2.4" fill="url(#gg)"/>
<circle cx="521.17" cy="519.37" r="2.4" fill="url(#gg)"/>
<circle cx="521.84" cy="519.24" r="2.4" fill="url(#gg)"/>
<circle cx="522.52" cy="519.05" r="2.4" fill="url(#gg)"/>
<circle cx="523.19" cy="518.87" r="2.4" fill="url(#gg)"/>
<circle cx="523.86" cy="519.45" r="2.4" fill="url(#gg)"/>
<circle cx="524.54" cy="519.63" r="2.4" fill="url(#gg)"/>
<circle cx="525.21" cy="518.7" r="2.4" fill="url(#gg)"/>
<circle cx="525.88" cy="519.39" r="2.4" fill="url(#gg)"/>
<circle cx="526.56" cy="518.67" r="2.4" fill="url(#gg)"/>
<circle cx="527.23" cy="518.78" r="2.4" fill="url(#gg)"/>
<circle cx="527.9" cy="519.41" r="2.4" fill="url(#gg)"/>
<circle cx="528.58" cy="519.34" r="2.4" fill="url(#gg)"/>
<circle cx="529.25" cy="519.3" r="2.4" fill="url(#gg)"/>
<circle cx="529.93" cy="519.18" r="2.4" fill="url(#gg)"/>
<circle cx="530.6" cy="519.25" r="2.4" fill="url(#gg)"/>
<circle cx="531.27" cy="519.32" r="2.4" fill="url(#gg)"/>
<circle cx="531.95" cy="519.26" r="2.4" fill="url(#gg)"/>
<circle cx="532.62" cy="518.9" r="2.4" fill="url(#gg)"/>
<circle cx="533.29" cy="519.43" r="2.4" fill="url(#gg)"/>
<circle cx="533.97" cy="519.53" r="2.4" fill="url(#gg)"/>
<circle cx="534.64" cy="519.2" r="2.4" fill="url(#gg)"/>
<circle cx="535.31" cy="519.78" r="2.4" fill="url(#gg)"/>
<circle cx="535.99" cy="519.72" r="2.4" fill="url(#gg)"/>
<circle cx="536.66" cy="518.93" r="2.4" fill="url(#gg)"/>
<circle cx="537.34" cy="519.48" r="2.4" fill="url(#gg)"/>
<circle cx="538.01" cy="519.45" r="2.4" fill="url(#gg)"/>
<circle cx="538.68" cy="520.09" r="2.4" fill="url(#gg)"/>
<circle cx="539.36" cy="519.62" r="2.4" fill="url(#gg)"/>
<circle cx="540.03" cy="519.44" r="2.4" fill="url(#gg)"/>
<circle cx="540.7" cy="520.1" r="2.4" fill="url(#gg)"/>
<circle cx="541.38" cy="519.41" r="2.4" fill="url(#gg)"/>
<circle cx="542.05" cy="519.39" r="2.4" fill="url(#gg)"/>
<circle cx="542.72" cy="520.07" r="2.4" fill="url(#gg)"/>
<circle cx="543.4" cy="519.41" r="2.4" fill="url(#gg)"/>
<circle cx="544.07" cy="519.6" r="2.4" fill="url(#gg)"/>
<circle cx="544.74" cy="519.35" r="2.4" fill="url(#gg)"/>
<circle cx="545.42" cy="519.74" r="2.4" fill="url(#gg)"/>
<circle cx="546.09" cy="519.33" r="2.4" fill="url(#gg)"/>
<circle cx="546.77" cy="519.29" r="2.4" fill="url(#gg)"/>
<circle cx="547.44" cy="520.13" r="2.4" fill="url(#gg)"/>
<circle cx="548.11" cy="520.09" r="2.4" fill="url(#gg)"/>
<circle cx="548.79" cy="519.37" r="2.4" fill="url(#gg)"/>
<circle cx="549.46" cy="519.04" r="2.4" fill="url(#gg)"/>
<circle cx="550.13" cy="519.88" r="2.4" fill="url(#gg)"/>
<circle cx="550.81" cy="519.64" r="2.4" fill="url(#gg)"/>
<circle cx="551.48" cy="519.48" r="2.4" fill="url(#gg)"/>
<circle cx="552.15" cy="519.8" r="2.4" fill="url(#gg)"/>
<circle cx="552.83" cy="519.75" r="2.4" fill="url(#gg)"/>
<circle cx="553.5" cy="519.81" r="2.4" fill="url(#gg)"/>
<circle cx="554.18" cy="519.75" r="2.4" fill="url(#gg)"/>
<circle cx="554.85" cy="519.48" r="2.4" fill="url(#gg)"/>
<circle cx="555.52" cy="519.83" r="2.4" fill="url(#gg)"/>
<circle cx="556.2" cy="519.74" r="2.4" fill="url(#gg)"/>
<circle cx="556.87" cy="519.28" r="2.4" fill="url(#gg)"/>
<circle cx="557.54" cy="520.15" r="2.4" fill="url(#gg)"/>
<circle cx="558.22" cy="519.52" r="2.4" fill="url(#gg)"/>
<circle cx="558.89" cy="519.32" r="2.4" fill="url(#gg)"/>
<circle cx="559.56" cy="519.82" r="2.4" fill="url(#gg)"/>
<circle cx="560.24" cy="519.92" r="2.4" fill="url(#gg)"/>
<circle cx="560.91" cy="519.24" r="2.4" fill="url(#gg)"/>
<circle cx="561.58" cy="519.91" r="2.4" fill="url(#gg)"/>
<circle cx="562.26" cy="519.97" r="2.4" fill="url(#gg)"/>
<circle cx="562.93" cy="519.68" r="2.4" fill="url(#gg)"/>
<circle cx="563.61" cy="519.37" r="2.4" fill="url(#gg)"/>
<circle cx="564.28" cy="520.07" r="2.4" fill="url(#gg)"/>
<circle cx="564.95" cy="519.81" r="2.4" fill="url(#gg)"/>
<circle cx="565.63" cy="519.8" r="2.4" fill="url(#gg)"/>
<circle cx="566.3" cy="519.21" r="2.4" fill="url(#gg)"/>
<circle cx="566.97" cy="519.67" r="2.4" fill="url(#gg)"/>
<circle cx="567.65" cy="519.19" r="2.4" fill="url(#gg)"/>
<circle cx="568.32" cy="519.99" r="2.4" fill="url(#gg)"/>
<circle cx="568.99" cy="519.79" r="2.4" fill="url(#gg)"/>
<circle cx="569.67" cy="519.43" r="2.4" fill="url(#gg)"/>
<circle cx="570.34" cy="519.15" r="2.4" fill="url(#gg)"/>
<circle cx="571.02" cy="519.66" r="2.4" fill="url(#gg)"/>
<circle cx="571.69" cy="519.93" r="2.4" fill="url(#gg)"/>
<circle cx="572.36" cy="520.05" r="2.4" fill="url(#gg)"/>
<circle cx="573.04" cy="519.57" r="2.4" fill="url(#gg)"/>
<circle cx="573.71" cy="519.97" r="2.4" fill="url(#gg)"/>
<circle cx="574.38" cy="519.25" r="2.4" fill="url(#gg)"/>
<circle cx="575.06" cy="519.21" r="2.4" fill="url(#gg)"/>
<circle cx="575.73" cy="519.97" r="2.4" fill="url(#gg)"/>
<circle cx="576.4" cy="519.86" r="2.4" fill="url(#gg)"/>
<circle cx="577.08" cy="519.24" r="2.4" fill="url(#gg)"/>
<circle cx="577.75" cy="519.44" r="2.4" fill="url(#gg)"/>
<circle cx="578.42" cy="519.25" r="2.4" fill="url(#gg)"/>
<circle cx="579.1" cy="519.79" r="2.4" fill="url(#gg)"/>
<circle cx="579.77" cy="520.04" r="2.4" fill="url(#gg)"/>
<circle cx="580.45" cy="519.85" r="2.4" fill="url(#gg)"/>
<circle cx="581.12" cy="519.26" r="2.4" fill="url(#gg)"/>
<circle cx="581.79" cy="519.87" r="2.4" fill="url(#gg)"/>
<circle cx="582.47" cy="519.78" r="2.4" fill="url(#gg)"/>
<circle cx="583.14" cy="519.7" r="2.4" fill="url(#gg)"/>
<circle cx="583.81" cy="519.7" r="2.4" fill="url(#gg)"/>
<circle cx="584.49" cy="519.71" r="2.4" fill="url(#gg)"/>
<circle cx="585.16" cy="519.11" r="2.4" fill="url(#gg)"/>
<circle cx="585.83" cy="520.01" r="2.4" fill="url(#gg)"/>
<circle cx="586.51" cy="520.18" r="2.4" fill="url(#gg)"/>
<circle cx="587.18" cy="519.09" r="2.4" fill="url(#gg)"/>
<circle cx="587.86" cy="519.16" r="2.4" fill="url(#gg)"/>
<circle cx="588.53" cy="519.04" r="2.4" fill="url(#gg)"/>
<circle cx="589.2" cy="519.68" r="2.4" fill="url(#gg)"/>
<circle cx="589.88" cy="519.08" r="2.4" fill="url(#gg)"/>
<circle cx="590.55" cy="519.1" r="2.4" fill="url(#gg)"/>
<circle cx="591.22" cy="519.93" r="2.4" fill="url(#gg)"/>
<circle cx="591.9" cy="519.32" r="2.4" fill="url(#gg)"/>
<circle cx="592.57" cy="519.21" r="2.4" fill="url(#gg)"/>
<circle cx="593.24" cy="519.41" r="2.4" fill="url(#gg)"/>
<circle cx="593.92" cy="519.58" r="2.4" fill="url(#gg)"/>
<circle cx="594.59" cy="519.85" r="2.4" fill="url(#gg)"/>
<circle cx="595.26" cy="519.79" r="2.4" fill="url(#gg)"/>
<circle cx="595.94" cy="519.92" r="2.4" fill="url(#gg)"/>
<circle cx="596.61" cy="520.11" r="2.4" fill="url(#gg)"/>
<circle cx="597.29" cy="519.5" r="2.4" fill="url(#gg)"/>
<circle cx="597.96" cy="519.85" r="2.4" fill="url(#gg)"/>
<circle cx="598.63" cy="519.24" r="2.4" fill="url(#gg)"/>
<circle cx="599.31" cy="520.14" r="2.4" fill="url(#gg)"/>
<circle cx="599.98" cy="519.13" r="2.4" fill="url(#gg)"/>
<circle cx="600.65" cy="519.38" r="2.4" fill="url(#gg)"/>
<circle cx="601.33" cy="519.11" r="2.4" fill="url(#gg)"/>
<circle cx="602" cy="519.14" r="2.4" fill="url(#gg)"/>
<circle cx="602.67" cy="519.14" r="2.4" fill="url(#gg)"/>
<circle cx="603.35" cy="519.51" r="2.4" fill="url(#gg)"/>
<circle cx="604.02" cy="520.17" r="2.4" fill="url(#gg)"/>
<circle cx="604.7" cy="519.32" r="2.4" fill="url(#gg)"/>
<circle cx="605.37" cy="519.99" r="2.4" fill="url(#gg)"/>
<circle cx="606.04" cy="519.84" r="2.4" fill="url(#gg)"/>
<circle cx="606.72" cy="519.41" r="2.4" fill="url(#gg)"/>
<circle cx="607.39" cy="519.58" r="2.4" fill="url(#gg)"/>
<circle cx="608.06" cy="519.71" r="2.4" fill="url(#gg)"/>
<circle cx="608.74" cy="519.09" r="2.4" fill="url(#gg)"/>
<circle cx="609.41" cy="519.47" r="2.4" fill="url(#gg)"/>
<circle cx="610.08" cy="519.79" r="2.4" fill="url(#gg)"/>
<circle cx="610.76" cy="519.89" r="2.4" fill="url(#gg)"/>
<circle cx="611.43" cy="519.18" r="2.4" fill="url(#gg)"/>
<circle cx="612.1" cy="519.63" r="2.4" fill="url(#gg)"/>
<circle cx="612.78" cy="519.27" r="2.4" fill="url(#gg)"/>
<circle cx="613.45" cy="519.78" r="2.4" fill="url(#gg)"/>
<circle cx="614.13" cy="519.96" r="2.4" fill="url(#gg)"/>
<circle cx="614.8" cy="519.56" r="2.4" fill="url(#gg)"/>
<circle cx="615.47" cy="519.23" r="2.4" fill="url(#gg)"/>
<circle cx="616.15" cy="519.99" r="2.4" fill="url(#gg)"/>
<circle cx="616.82" cy="519.26" r="2.4" fill="url(#gg)"/>
<circle cx="617.49" cy="519.11" r="2.4" fill="url(#gg)"/>
<circle cx="618.17" cy="519.25" r="2.4" fill="url(#gg)"/>
<circle cx="618.84" cy="519.23" r="2.4" fill="url(#gg)"/>
<circle cx="619.51" cy="520.18" r="2.4" fill="url(#gg)"/>
<circle cx="620.19" cy="519.45" r="2.4" fill="url(#gg)"/>
<circle cx="620.86" cy="519.18" r="2.4" fill="url(#gg)"/>
<circle cx="621.54" cy="520.13" r="2.4" fill="url(#gg)"/>
<circle cx="622.21" cy="519.87" r="2.4" fill="url(#gg)"/>
<circle cx="622.88" cy="519.88" r="2.4" fill="url(#gg)"/>
<circle cx="623.56" cy="519.57" r="2.4" fill="url(#gg)"/>
<circle cx="624.23" cy="519.7" r="2.4" fill="url(#gg)"/>
<circle cx="624.9" cy="519.64" r="2.4" fill="url(#gg)"/>
<circle cx="625.58" cy="519.28" r="2.4" fill="url(#gg)"/>
<circle cx="626.25" cy="520.19" r="2.4" fill="url(#gg)"/>
<circle cx="626.92" cy="520.13" r="2.4" fill="url(#gg)"/>
<circle cx="627.6" cy="520.04" r="2.4" fill="url(#gg)"/>
<circle cx="628.27" cy="520.04" r="2.4" fill="url(#gg)"/>
<circle cx="628.94" cy="520.11" r="2.4" fill="url(#gg)"/>
<circle cx="629.62" cy="519.05" r="2.4" fill="url(#gg)"/>
<circle cx="630.29" cy="519.19" r="2.4" fill="url(#gg)"/>
<circle cx="630.97" cy="520.09" r="2.4" fill="url(#gg)"/>
<circle cx="631.64" cy="519.6" r="2.4" fill="url(#gg)"/>
<circle cx="632.31" cy="519.82" r="2.4" fill="url(#gg)"/>
<circle cx="632.99" cy="519.82" r="2.4" fill="url(#gg)"/>
<circle cx="633.66" cy="519.78" r="2.4" fill="url(#gg)"/>
<circle cx="634.33" cy="519.43" r="2.4" fill="url(#gg)"/>
<circle cx="635.01" cy="519.5" r="2.4" fill="url(#gg)"/>
<circle cx="635.68" cy="519.77" r="2.4" fill="url(#gg)"/>
<circle cx="636.35" cy="519.97" r="2.4" fill="url(#gg)"/>
<circle cx="637.03" cy="519.81" r="2.4" fill="url(#gg)"/>
<circle cx="637.7" cy="520.05" r="2.4" fill="url(#gg)"/>
<circle cx="638.38" cy="519.54" r="2.4" fill="url(#gg)"/>
<circle cx="639.05" cy="519.35" r="2.4" fill="url(#gg)"/>
<circle cx="639.72" cy="519.75" r="2.4" fill="url(#gg)"/>
<circle cx="640.4" cy="520.1" r="2.4" fill="url(#gg)"/>
<circle cx="641.07" cy="519.98" r="2.4" fill="url(#gg)"/>
<circle cx="641.74" cy="519.75" r="2.4" fill="url(#gg)"/>
<circle cx="642.42" cy="519.48" r="2.4" fill="url(#gg)"/>
<circle cx="643.09" cy="519.27" r="2.4" fill="url(#gg)"/>
<circle cx="643.76" cy="519.75" r="2.4" fill="url(#gg)"/>
<circle cx="644.44" cy="519.25" r="2.4" fill="url(#gg)"/>
<circle cx="645.11" cy="519.46" r="2.4" fill="url(#gg)"/>
<circle cx="645.78" cy="519.69" r="2.4" fill="url(#gg)"/>
<circle cx="646.46" cy="519.75" r="2.4" fill="url(#gg)"/>
<circle cx="647.13" cy="519.61" r="2.4" fill="url(#gg)"/>
<circle cx="647.81" cy="519.37" r="2.4" fill="url(#gg)"/>
<circle cx="648.48" cy="519.7" r="2.4" fill="url(#gg)"/>
<circle cx="649.15" cy="519.38" r="2.4" fill="url(#gg)"/>
<circle cx="649.83" cy="519.65" r="2.4" fill="url(#gg)"/>
<circle cx="482.1" cy="523.7" r="2.3" fill="url(#gb)"/>
<circle cx="482.69" cy="406.89" r="2.4" fill="url(#gb)"/>
<circle cx="483.11" cy="408.99" r="2.4" fill="url(#gb)"/>
<circle cx="483.53" cy="410.76" r="2.4" fill="url(#gb)"/>
<circle cx="483.95" cy="412.87" r="2.4" fill="url(#gb)"/>
<circle cx="484.37" cy="414.83" r="2.4" fill="url(#gb)"/>
<circle cx="484.79" cy="416.46" r="2.4" fill="url(#gb)"/>
<circle cx="485.22" cy="417.93" r="2.4" fill="url(#gb)"/>
<circle cx="485.64" cy="419.81" r="2.4" fill="url(#gb)"/>
<circle cx="486.06" cy="421.6" r="2.4" fill="url(#gb)"/>
<circle cx="486.48" cy="423.71" r="2.4" fill="url(#gb)"/>
<circle cx="486.9" cy="425.18" r="2.4" fill="url(#gb)"/>
<circle cx="487.32" cy="427.03" r="2.4" fill="url(#gb)"/>
<circle cx="487.74" cy="428.74" r="2.4" fill="url(#gb)"/>
<circle cx="488.16" cy="430.39" r="2.4" fill="url(#gb)"/>
<circle cx="488.58" cy="431.88" r="2.4" fill="url(#gb)"/>
<circle cx="489" cy="432.93" r="2.4" fill="url(#gb)"/>
<circle cx="489.43" cy="434.51" r="2.4" fill="url(#gb)"/>
<circle cx="489.85" cy="436.01" r="2.4" fill="url(#gb)"/>
<circle cx="490.27" cy="437.48" r="2.4" fill="url(#gb)"/>
<circle cx="490.69" cy="439.33" r="2.4" fill="url(#gb)"/>
<circle cx="491.11" cy="440.66" r="2.4" fill="url(#gb)"/>
<circle cx="491.53" cy="441.81" r="2.4" fill="url(#gb)"/>
<circle cx="491.95" cy="443.09" r="2.4" fill="url(#gb)"/>
<circle cx="492.37" cy="444.33" r="2.4" fill="url(#gb)"/>
<circle cx="492.79" cy="445.61" r="2.4" fill="url(#gb)"/>
<circle cx="493.21" cy="447.45" r="2.4" fill="url(#gb)"/>
<circle cx="493.64" cy="448.34" r="2.4" fill="url(#gb)"/>
<circle cx="494.06" cy="449.52" r="2.4" fill="url(#gb)"/>
<circle cx="494.48" cy="450.85" r="2.4" fill="url(#gb)"/>
<circle cx="494.9" cy="452.26" r="2.4" fill="url(#gb)"/>
<circle cx="495.32" cy="453.22" r="2.4" fill="url(#gb)"/>
<circle cx="495.74" cy="454.63" r="2.4" fill="url(#gb)"/>
<circle cx="496.16" cy="455.16" r="2.4" fill="url(#gb)"/>
<circle cx="496.58" cy="456.31" r="2.4" fill="url(#gb)"/>
<circle cx="497" cy="457.61" r="2.4" fill="url(#gb)"/>
<circle cx="497.42" cy="458.84" r="2.4" fill="url(#gb)"/>
<circle cx="497.85" cy="459.46" r="2.4" fill="url(#gb)"/>
<circle cx="498.27" cy="460.71" r="2.4" fill="url(#gb)"/>
<circle cx="498.69" cy="461.5" r="2.4" fill="url(#gb)"/>
<circle cx="499.11" cy="462.51" r="2.4" fill="url(#gb)"/>
<circle cx="499.53" cy="463.71" r="2.4" fill="url(#gb)"/>
<circle cx="499.95" cy="464.72" r="2.4" fill="url(#gb)"/>
<circle cx="500.37" cy="465.52" r="2.4" fill="url(#gb)"/>
<circle cx="500.79" cy="466.55" r="2.4" fill="url(#gb)"/>
<circle cx="501.21" cy="467.64" r="2.4" fill="url(#gb)"/>
<circle cx="501.63" cy="468.42" r="2.4" fill="url(#gb)"/>
<circle cx="502.06" cy="468.93" r="2.4" fill="url(#gb)"/>
<circle cx="502.48" cy="470.31" r="2.4" fill="url(#gb)"/>
<circle cx="502.9" cy="471.14" r="2.4" fill="url(#gb)"/>
<circle cx="503.32" cy="471.55" r="2.4" fill="url(#gb)"/>
<circle cx="503.74" cy="472.6" r="2.4" fill="url(#gb)"/>
<circle cx="504.16" cy="473.21" r="2.4" fill="url(#gb)"/>
<circle cx="504.58" cy="474.03" r="2.4" fill="url(#gb)"/>
<circle cx="505" cy="474.87" r="2.4" fill="url(#gb)"/>
<circle cx="505.42" cy="475.16" r="2.4" fill="url(#gb)"/>
<circle cx="505.84" cy="476.45" r="2.4" fill="url(#gb)"/>
<circle cx="506.27" cy="477.02" r="2.4" fill="url(#gb)"/>
<circle cx="506.69" cy="477.87" r="2.4" fill="url(#gb)"/>
<circle cx="507.11" cy="478.26" r="2.4" fill="url(#gb)"/>
<circle cx="507.53" cy="479.19" r="2.4" fill="url(#gb)"/>
<circle cx="507.95" cy="479.81" r="2.4" fill="url(#gb)"/>
<circle cx="508.37" cy="480.19" r="2.4" fill="url(#gb)"/>
<circle cx="508.79" cy="481.13" r="2.4" fill="url(#gb)"/>
<circle cx="509.21" cy="481.59" r="2.4" fill="url(#gb)"/>
<circle cx="509.63" cy="481.97" r="2.4" fill="url(#gb)"/>
<circle cx="510.05" cy="483.14" r="2.4" fill="url(#gb)"/>
<circle cx="510.48" cy="483.77" r="2.4" fill="url(#gb)"/>
<circle cx="510.9" cy="484.24" r="2.4" fill="url(#gb)"/>
<circle cx="511.32" cy="484.44" r="2.4" fill="url(#gb)"/>
<circle cx="511.74" cy="485.11" r="2.4" fill="url(#gb)"/>
<circle cx="512.16" cy="485.93" r="2.4" fill="url(#gb)"/>
<circle cx="512.58" cy="486.42" r="2.4" fill="url(#gb)"/>
<circle cx="513" cy="487.06" r="2.4" fill="url(#gb)"/>
<circle cx="513.42" cy="487.39" r="2.4" fill="url(#gb)"/>
<circle cx="513.84" cy="488.2" r="2.4" fill="url(#gb)"/>
<circle cx="514.26" cy="488.25" r="2.4" fill="url(#gb)"/>
<circle cx="514.69" cy="488.61" r="2.4" fill="url(#gb)"/>
<circle cx="515.11" cy="489.06" r="2.4" fill="url(#gb)"/>
<circle cx="515.53" cy="489.69" r="2.4" fill="url(#gb)"/>
<circle cx="515.95" cy="490.01" r="2.4" fill="url(#gb)"/>
<circle cx="516.62" cy="491.41" r="2.4" fill="url(#gb)"/>
<circle cx="517.3" cy="491.94" r="2.4" fill="url(#gb)"/>
<circle cx="517.97" cy="492.16" r="2.4" fill="url(#gb)"/>
<circle cx="518.64" cy="492.97" r="2.4" fill="url(#gb)"/>
<circle cx="519.32" cy="493.89" r="2.4" fill="url(#gb)"/>
<circle cx="519.99" cy="494.16" r="2.4" fill="url(#gb)"/>
<circle cx="520.66" cy="495.01" r="2.4" fill="url(#gb)"/>
<circle cx="521.34" cy="495.47" r="2.4" fill="url(#gb)"/>
<circle cx="522.01" cy="496.43" r="2.4" fill="url(#gb)"/>
<circle cx="522.68" cy="497.08" r="2.4" fill="url(#gb)"/>
<circle cx="523.36" cy="497.45" r="2.4" fill="url(#gb)"/>
<circle cx="524.03" cy="498.21" r="2.4" fill="url(#gb)"/>
<circle cx="524.71" cy="498.57" r="2.4" fill="url(#gb)"/>
<circle cx="525.38" cy="498.67" r="2.4" fill="url(#gb)"/>
<circle cx="526.05" cy="499.61" r="2.4" fill="url(#gb)"/>
<circle cx="526.73" cy="500.32" r="2.4" fill="url(#gb)"/>
<circle cx="527.4" cy="500.77" r="2.4" fill="url(#gb)"/>
<circle cx="528.07" cy="501.14" r="2.4" fill="url(#gb)"/>
<circle cx="528.75" cy="501.15" r="2.4" fill="url(#gb)"/>
<circle cx="529.42" cy="501.88" r="2.4" fill="url(#gb)"/>
<circle cx="530.09" cy="502.35" r="2.4" fill="url(#gb)"/>
<circle cx="530.77" cy="502.9" r="2.4" fill="url(#gb)"/>
<circle cx="531.44" cy="502.68" r="2.4" fill="url(#gb)"/>
<circle cx="532.11" cy="503.46" r="2.4" fill="url(#gb)"/>
<circle cx="532.79" cy="503.99" r="2.4" fill="url(#gb)"/>
<circle cx="533.46" cy="504.46" r="2.4" fill="url(#gb)"/>
<circle cx="534.14" cy="504.82" r="2.4" fill="url(#gb)"/>
<circle cx="534.81" cy="505.09" r="2.4" fill="url(#gb)"/>
<circle cx="535.48" cy="505.07" r="2.4" fill="url(#gb)"/>
<circle cx="536.16" cy="505.77" r="2.4" fill="url(#gb)"/>
<circle cx="536.83" cy="506.17" r="2.4" fill="url(#gb)"/>
<circle cx="537.5" cy="506.16" r="2.4" fill="url(#gb)"/>
<circle cx="538.18" cy="506.64" r="2.4" fill="url(#gb)"/>
<circle cx="538.85" cy="506.41" r="2.4" fill="url(#gb)"/>
<circle cx="539.52" cy="507.31" r="2.4" fill="url(#gb)"/>
<circle cx="540.2" cy="507.31" r="2.4" fill="url(#gb)"/>
<circle cx="540.87" cy="507.41" r="2.4" fill="url(#gb)"/>
<circle cx="541.55" cy="507.93" r="2.4" fill="url(#gb)"/>
<circle cx="542.22" cy="507.79" r="2.4" fill="url(#gb)"/>
<circle cx="542.89" cy="508.4" r="2.4" fill="url(#gb)"/>
<circle cx="543.57" cy="508.81" r="2.4" fill="url(#gb)"/>
<circle cx="544.24" cy="508.93" r="2.4" fill="url(#gb)"/>
<circle cx="544.91" cy="509.43" r="2.4" fill="url(#gb)"/>
<circle cx="545.59" cy="509.39" r="2.4" fill="url(#gb)"/>
<circle cx="546.26" cy="509.73" r="2.4" fill="url(#gb)"/>
<circle cx="546.93" cy="509.5" r="2.4" fill="url(#gb)"/>
<circle cx="547.61" cy="509.75" r="2.4" fill="url(#gb)"/>
<circle cx="548.28" cy="510.19" r="2.4" fill="url(#gb)"/>
<circle cx="548.95" cy="510.71" r="2.4" fill="url(#gb)"/>
<circle cx="549.63" cy="510.75" r="2.4" fill="url(#gb)"/>
<circle cx="550.3" cy="510.95" r="2.4" fill="url(#gb)"/>
<circle cx="550.98" cy="511.16" r="2.4" fill="url(#gb)"/>
<circle cx="551.65" cy="511.33" r="2.4" fill="url(#gb)"/>
<circle cx="552.32" cy="511.06" r="2.4" fill="url(#gb)"/>
<circle cx="553" cy="511.74" r="2.4" fill="url(#gb)"/>
<circle cx="553.67" cy="511.97" r="2.4" fill="url(#gb)"/>
<circle cx="554.34" cy="511.52" r="2.4" fill="url(#gb)"/>
<circle cx="555.02" cy="511.93" r="2.4" fill="url(#gb)"/>
<circle cx="555.69" cy="511.79" r="2.4" fill="url(#gb)"/>
<circle cx="556.36" cy="512.36" r="2.4" fill="url(#gb)"/>
<circle cx="557.04" cy="512.15" r="2.4" fill="url(#gb)"/>
<circle cx="557.71" cy="512.47" r="2.4" fill="url(#gb)"/>
<circle cx="558.39" cy="512.52" r="2.4" fill="url(#gb)"/>
<circle cx="559.06" cy="512.69" r="2.4" fill="url(#gb)"/>
<circle cx="559.73" cy="513" r="2.4" fill="url(#gb)"/>
<circle cx="560.41" cy="513.41" r="2.4" fill="url(#gb)"/>
<circle cx="561.08" cy="513.46" r="2.4" fill="url(#gb)"/>
<circle cx="561.75" cy="513.12" r="2.4" fill="url(#gb)"/>
<circle cx="562.43" cy="513.22" r="2.4" fill="url(#gb)"/>
<circle cx="563.1" cy="513.32" r="2.4" fill="url(#gb)"/>
<circle cx="563.77" cy="513.85" r="2.4" fill="url(#gb)"/>
<circle cx="564.45" cy="513.74" r="2.4" fill="url(#gb)"/>
<circle cx="565.12" cy="513.75" r="2.4" fill="url(#gb)"/>
<circle cx="565.79" cy="513.97" r="2.4" fill="url(#gb)"/>
<circle cx="566.47" cy="513.96" r="2.4" fill="url(#gb)"/>
<circle cx="567.14" cy="514.26" r="2.4" fill="url(#gb)"/>
<circle cx="567.82" cy="514.28" r="2.4" fill="url(#gb)"/>
<circle cx="568.49" cy="514.35" r="2.4" fill="url(#gb)"/>
<circle cx="569.16" cy="514.74" r="2.4" fill="url(#gb)"/>
<circle cx="569.84" cy="514.38" r="2.4" fill="url(#gb)"/>
<circle cx="570.51" cy="514.45" r="2.4" fill="url(#gb)"/>
<circle cx="571.18" cy="515.16" r="2.4" fill="url(#gb)"/>
<circle cx="571.86" cy="514.62" r="2.4" fill="url(#gb)"/>
<circle cx="572.53" cy="514.71" r="2.4" fill="url(#gb)"/>
<circle cx="573.2" cy="515" r="2.4" fill="url(#gb)"/>
<circle cx="573.88" cy="515.52" r="2.4" fill="url(#gb)"/>
<circle cx="574.55" cy="515" r="2.4" fill="url(#gb)"/>
<circle cx="575.23" cy="515.62" r="2.4" fill="url(#gb)"/>
<circle cx="575.9" cy="515.11" r="2.4" fill="url(#gb)"/>
<circle cx="576.57" cy="515.4" r="2.4" fill="url(#gb)"/>
<circle cx="577.25" cy="515.89" r="2.4" fill="url(#gb)"/>
<circle cx="577.92" cy="515.89" r="2.4" fill="url(#gb)"/>
<circle cx="578.59" cy="515.63" r="2.4" fill="url(#gb)"/>
<circle cx="579.27" cy="515.75" r="2.4" fill="url(#gb)"/>
<circle cx="579.94" cy="515.69" r="2.4" fill="url(#gb)"/>
<circle cx="580.61" cy="515.63" r="2.4" fill="url(#gb)"/>
<circle cx="581.29" cy="516.2" r="2.4" fill="url(#gb)"/>
<circle cx="581.96" cy="516.41" r="2.4" fill="url(#gb)"/>
<circle cx="582.63" cy="515.83" r="2.4" fill="url(#gb)"/>
<circle cx="583.31" cy="516.53" r="2.4" fill="url(#gb)"/>
<circle cx="583.98" cy="515.98" r="2.4" fill="url(#gb)"/>
<circle cx="584.66" cy="516.57" r="2.4" fill="url(#gb)"/>
<circle cx="585.33" cy="516.14" r="2.4" fill="url(#gb)"/>
<circle cx="586" cy="516.22" r="2.4" fill="url(#gb)"/>
<circle cx="586.68" cy="516.21" r="2.4" fill="url(#gb)"/>
<circle cx="587.35" cy="516.49" r="2.4" fill="url(#gb)"/>
<circle cx="588.02" cy="516.31" r="2.4" fill="url(#gb)"/>
<circle cx="588.7" cy="516.84" r="2.4" fill="url(#gb)"/>
<circle cx="589.37" cy="516.56" r="2.4" fill="url(#gb)"/>
<circle cx="590.04" cy="516.85" r="2.4" fill="url(#gb)"/>
<circle cx="590.72" cy="516.5" r="2.4" fill="url(#gb)"/>
<circle cx="591.39" cy="516.63" r="2.4" fill="url(#gb)"/>
<circle cx="592.07" cy="516.89" r="2.4" fill="url(#gb)"/>
<circle cx="592.74" cy="516.9" r="2.4" fill="url(#gb)"/>
<circle cx="593.41" cy="517.29" r="2.4" fill="url(#gb)"/>
<circle cx="594.09" cy="517.33" r="2.4" fill="url(#gb)"/>
<circle cx="594.76" cy="516.98" r="2.4" fill="url(#gb)"/>
<circle cx="595.43" cy="517.1" r="2.4" fill="url(#gb)"/>
<circle cx="596.11" cy="516.88" r="2.4" fill="url(#gb)"/>
<circle cx="596.78" cy="517.1" r="2.4" fill="url(#gb)"/>
<circle cx="597.45" cy="517.47" r="2.4" fill="url(#gb)"/>
<circle cx="598.13" cy="517.35" r="2.4" fill="url(#gb)"/>
<circle cx="598.8" cy="517.1" r="2.4" fill="url(#gb)"/>
<circle cx="599.47" cy="517.31" r="2.4" fill="url(#gb)"/>
<circle cx="600.15" cy="517.71" r="2.4" fill="url(#gb)"/>
<circle cx="600.82" cy="517.16" r="2.4" fill="url(#gb)"/>
<circle cx="601.5" cy="517.21" r="2.4" fill="url(#gb)"/>
<circle cx="602.17" cy="517.76" r="2.4" fill="url(#gb)"/>
<circle cx="602.84" cy="517.47" r="2.4" fill="url(#gb)"/>
<circle cx="603.52" cy="517.62" r="2.4" fill="url(#gb)"/>
<circle cx="604.19" cy="517.37" r="2.4" fill="url(#gb)"/>
<circle cx="604.86" cy="517.74" r="2.4" fill="url(#gb)"/>
<circle cx="605.54" cy="517.82" r="2.4" fill="url(#gb)"/>
<circle cx="606.21" cy="517.68" r="2.4" fill="url(#gb)"/>
<circle cx="606.88" cy="517.37" r="2.4" fill="url(#gb)"/>
<circle cx="607.56" cy="518.01" r="2.4" fill="url(#gb)"/>
<circle cx="608.23" cy="518.03" r="2.4" fill="url(#gb)"/>
<circle cx="608.91" cy="517.7" r="2.4" fill="url(#gb)"/>
<circle cx="609.58" cy="517.54" r="2.4" fill="url(#gb)"/>
<circle cx="610.25" cy="517.83" r="2.4" fill="url(#gb)"/>
<circle cx="610.93" cy="517.91" r="2.4" fill="url(#gb)"/>
<circle cx="611.6" cy="517.64" r="2.4" fill="url(#gb)"/>
<circle cx="612.27" cy="517.73" r="2.4" fill="url(#gb)"/>
<circle cx="612.95" cy="518.25" r="2.4" fill="url(#gb)"/>
<circle cx="613.62" cy="517.71" r="2.4" fill="url(#gb)"/>
<circle cx="614.29" cy="518.21" r="2.4" fill="url(#gb)"/>
<circle cx="614.97" cy="518.16" r="2.4" fill="url(#gb)"/>
<circle cx="615.64" cy="517.81" r="2.4" fill="url(#gb)"/>
<circle cx="616.31" cy="518.12" r="2.4" fill="url(#gb)"/>
<circle cx="616.99" cy="517.88" r="2.4" fill="url(#gb)"/>
<circle cx="617.66" cy="518.35" r="2.4" fill="url(#gb)"/>
<circle cx="618.34" cy="517.88" r="2.4" fill="url(#gb)"/>
<circle cx="619.01" cy="518.39" r="2.4" fill="url(#gb)"/>
<circle cx="619.68" cy="518.43" r="2.4" fill="url(#gb)"/>
<circle cx="620.36" cy="518.21" r="2.4" fill="url(#gb)"/>
<circle cx="621.03" cy="518.34" r="2.4" fill="url(#gb)"/>
<circle cx="621.7" cy="518.22" r="2.4" fill="url(#gb)"/>
<circle cx="622.38" cy="517.98" r="2.4" fill="url(#gb)"/>
<circle cx="623.05" cy="518.14" r="2.4" fill="url(#gb)"/>
<circle cx="623.72" cy="518.65" r="2.4" fill="url(#gb)"/>
<circle cx="624.4" cy="518.46" r="2.4" fill="url(#gb)"/>
<circle cx="625.07" cy="518.31" r="2.4" fill="url(#gb)"/>
<circle cx="625.75" cy="518.37" r="2.4" fill="url(#gb)"/>
<circle cx="626.42" cy="518.23" r="2.4" fill="url(#gb)"/>
<circle cx="627.09" cy="518.41" r="2.4" fill="url(#gb)"/>
<circle cx="627.77" cy="518.72" r="2.4" fill="url(#gb)"/>
<circle cx="628.44" cy="518.61" r="2.4" fill="url(#gb)"/>
<circle cx="629.11" cy="518.21" r="2.4" fill="url(#gb)"/>
<circle cx="629.79" cy="518.57" r="2.4" fill="url(#gb)"/>
<circle cx="630.46" cy="518.3" r="2.4" fill="url(#gb)"/>
<circle cx="631.13" cy="518.16" r="2.4" fill="url(#gb)"/>
<circle cx="631.81" cy="518.43" r="2.4" fill="url(#gb)"/>
<circle cx="632.48" cy="518.41" r="2.4" fill="url(#gb)"/>
<circle cx="633.15" cy="518.47" r="2.4" fill="url(#gb)"/>
<circle cx="633.83" cy="518.7" r="2.4" fill="url(#gb)"/>
<circle cx="634.5" cy="518.29" r="2.4" fill="url(#gb)"/>
<circle cx="635.18" cy="518.62" r="2.4" fill="url(#gb)"/>
<circle cx="635.85" cy="518.32" r="2.4" fill="url(#gb)"/>
<circle cx="636.52" cy="518.76" r="2.4" fill="url(#gb)"/>
<circle cx="637.2" cy="518.38" r="2.4" fill="url(#gb)"/>
<circle cx="637.87" cy="518.45" r="2.4" fill="url(#gb)"/>
<circle cx="638.54" cy="518.59" r="2.4" fill="url(#gb)"/>
<circle cx="639.22" cy="518.72" r="2.4" fill="url(#gb)"/>
<circle cx="639.89" cy="518.94" r="2.4" fill="url(#gb)"/>
<circle cx="640.56" cy="518.51" r="2.4" fill="url(#gb)"/>
<circle cx="641.24" cy="518.81" r="2.4" fill="url(#gb)"/>
<circle cx="641.91" cy="518.62" r="2.4" fill="url(#gb)"/>
<circle cx="642.59" cy="519" r="2.4" fill="url(#gb)"/>
<circle cx="643.26" cy="519.05" r="2.4" fill="url(#gb)"/>
<circle cx="643.93" cy="519.02" r="2.4" fill="url(#gb)"/>
<circle cx="644.61" cy="518.56" r="2.4" fill="url(#gb)"/>
<circle cx="645.28" cy="519.02" r="2.4" fill="url(#gb)"/>
<circle cx="645.95" cy="518.52" r="2.4" fill="url(#gb)"/>
<circle cx="646.63" cy="518.9" r="2.4" fill="url(#gb)"/>
<circle cx="647.3" cy="518.77" r="2.4" fill="url(#gb)"/>
<circle cx="647.97" cy="518.94" r="2.4" fill="url(#gb)"/>
<circle cx="648.65" cy="518.76" r="2.4" fill="url(#gb)"/>
<circle cx="649.32" cy="519.14" r="2.4" fill="url(#gb)"/>
<circle cx="649.99" cy="518.94" r="2.4" fill="url(#gb)"/>
<polyline points="482.1,422.5 482.31,422.5 482.52,422.5 482.73,422.5 482.94,422.5 483.15,422.5 483.36,422.5 483.57,425.07 483.78,427.58 483.99,430.02 484.21,432.4 484.42,434.71 484.63,436.96 484.84,439.15 485.05,441.29 485.26,443.36 485.47,445.39 485.68,447.35 485.89,449.27 486.1,451.14 486.31,452.95 486.52,454.72 486.73,456.44 486.94,458.12 487.15,459.75 487.36,461.33 487.57,462.88 487.78,464.38 487.99,465.85 488.2,467.28 488.42,468.66 488.63,470.01 488.84,471.33 489.05,472.61 489.26,473.86 489.47,475.07 489.68,476.25 489.89,477.4 490.1,478.52 490.31,479.61 490.52,480.67 490.73,481.7 490.94,482.71 491.15,483.69 491.36,484.64 491.57,485.57 491.78,486.47 491.99,487.35 492.2,488.2 492.41,489.04 492.62,489.85 492.84,490.64 493.05,491.41 493.26,492.15 493.47,492.88 493.68,493.59 493.89,494.28 494.1,494.95 494.31,495.61 494.52,496.24 494.73,496.86 494.94,497.47 495.15,498.05 495.36,498.62 495.57,499.18 495.78,499.72 495.99,500.25 496.2,500.76 496.41,501.26 496.62,501.75 496.84,502.22 497.05,502.68 497.26,503.13 497.47,503.57 497.68,504 497.89,504.41 498.1,504.81 498.31,505.2 498.52,505.59 498.73,505.96 498.94,506.32 499.15,506.67 499.36,507.02 499.57,507.35 499.78,507.67 499.99,507.99 500.2,508.3 500.41,508.6 500.62,508.89 500.83,509.18 501.05,509.45 501.26,509.72 501.47,509.98 501.68,510.24 501.89,510.49 502.1,510.73 502.31,510.96 502.52,511.19 502.73,511.42 502.94,511.63 503.15,511.85 503.36,512.05 503.57,512.25 503.78,512.45 503.99,512.64 504.2,512.82 504.41,513 504.62,513.18 504.83,513.35 505.04,513.51 505.25,513.67 505.47,513.83 505.68,513.98 505.89,514.13 506.1,514.28 506.31,514.42 506.52,514.56 506.73,514.69 506.94,514.82 507.15,514.95 507.36,515.07 507.57,515.19 507.78,515.31 507.99,515.42 508.2,515.53 508.41,515.64 508.62,515.75 508.83,515.85 509.04,515.95 509.25,516.05 509.47,516.14 509.68,516.23 509.89,516.32 510.1,516.41 510.31,516.49 510.52,516.58 510.73,516.66 510.94,516.73 511.15,516.81 511.36,516.89 511.57,516.96 511.78,517.03 511.99,517.1 512.2,517.16 512.41,517.23 512.62,517.29 512.83,517.35 513.04,517.41 513.25,517.47 513.46,517.53 513.68,517.58 513.89,517.64 514.1,517.69 514.31,517.74 514.52,517.79 514.73,517.84 514.94,517.88 515.15,517.93 515.36,517.97 515.57,518.02 515.78,518.06 515.99,518.1 516.2,518.14 516.41,518.18 516.62,518.22 516.83,518.25 517.04,518.29 517.25,518.32 517.46,518.36 517.67,518.39 517.88,518.42 518.1,518.45 518.31,518.48 518.52,518.51 518.73,518.54 518.94,518.57 519.15,518.6 519.36,518.63 519.57,518.65 519.78,518.68 519.99,518.7 520.2,518.73 520.41,518.75 520.62,518.77 520.83,518.79 521.04,518.82 521.25,518.84 521.46,518.86 521.67,518.88 521.88,518.9 522.1,518.91 522.31,518.93 522.52,518.95 522.73,518.97 522.94,518.98 523.15,519 523.36,519.02 523.57,519.03 523.78,519.05 523.99,519.06 524.2,519.08 524.41,519.09 524.62,519.1 524.83,519.12 525.04,519.13 525.25,519.14 525.46,519.16 525.67,519.17 525.88,519.18 526.09,519.19 526.31,519.2 526.52,519.21 526.73,519.22 526.94,519.23 527.15,519.24 527.36,519.25 527.57,519.26 527.78,519.27 527.99,519.28 528.2,519.29 528.41,519.3 528.62,519.3 528.83,519.31 529.04,519.32 529.25,519.33 529.46,519.34 529.67,519.34 529.88,519.35 530.09,519.36 530.3,519.36 530.51,519.37 530.73,519.38 530.94,519.38 531.15,519.39 531.36,519.39 531.57,519.4 531.78,519.4 531.99,519.41 532.2,519.41 532.41,519.42 532.62,519.42 532.83,519.43 533.04,519.43 533.25,519.44 533.46,519.44 533.67,519.45 533.88,519.45 534.09,519.46 534.3,519.46 534.51,519.46 534.73,519.47 534.94,519.47 535.15,519.47 535.36,519.48 535.57,519.48 535.78,519.48 535.99,519.49 536.2,519.49 536.41,519.49 536.62,519.5 536.83,519.5 537.04,519.5 537.25,519.51 537.46,519.51 537.67,519.51 537.88,519.51 538.09,519.52 538.3,519.52 538.51,519.52 538.72,519.52 538.94,519.52 539.15,519.53 539.36,519.53 539.57,519.53 539.78,519.53 539.99,519.53 540.2,519.54 540.41,519.54 540.62,519.54 540.83,519.54 541.04,519.54 541.25,519.55 541.46,519.55 541.67,519.55 541.88,519.55 542.09,519.55 542.3,519.55 542.51,519.55 542.72,519.56 542.93,519.56 543.14,519.56 543.36,519.56 543.57,519.56 543.78,519.56 543.99,519.56 544.2,519.56 544.41,519.57 544.62,519.57 544.83,519.57 545.04,519.57 545.25,519.57 545.46,519.57 545.67,519.57 545.88,519.57 546.09,519.57 546.3,519.57 546.51,519.57 546.72,519.58 546.93,519.58 547.14,519.58 547.36,519.58 547.57,519.58 547.78,519.58 547.99,519.58 548.2,519.58 548.41,519.58 548.62,519.58 548.83,519.58 549.04,519.58 549.25,519.58 549.46,519.58 549.67,519.58 549.88,519.59 550.09,519.59 550.3,519.59 550.51,519.59 550.72,519.59 550.93,519.59 551.14,519.59 551.35,519.59 551.57,519.59 551.78,519.59 551.99,519.59 552.2,519.59 552.41,519.59 552.62,519.59 552.83,519.59 553.04,519.59 553.25,519.59 553.46,519.59 553.67,519.59 553.88,519.59 554.09,519.59 554.3,519.59 554.51,519.59 554.72,519.59 554.93,519.59 555.14,519.59 555.35,519.6 555.56,519.6 555.77,519.6 555.99,519.6 556.2,519.6 556.41,519.6 556.62,519.6 556.83,519.6 557.04,519.6 557.25,519.6 557.46,519.6 557.67,519.6 557.88,519.6 558.09,519.6 558.3,519.6 558.51,519.6 558.72,519.6 558.93,519.6 559.14,519.6 559.35,519.6 559.56,519.6 559.77,519.6 559.99,519.6 560.2,519.6 560.41,519.6 560.62,519.6 560.83,519.6 561.04,519.6 561.25,519.6 561.46,519.6 561.67,519.6 561.88,519.6 562.09,519.6 562.3,519.6 562.51,519.6 562.72,519.6 562.93,519.6 563.14,519.6 563.35,519.6 563.56,519.6 563.77,519.6 563.98,519.6 564.2,519.6 564.41,519.6 564.62,519.6 564.83,519.6 565.04,519.6 565.25,519.6 565.46,519.6 565.67,519.6 565.88,519.6 566.09,519.6 566.3,519.6 566.51,519.6 566.72,519.6 566.93,519.6 567.14,519.6 567.35,519.6 567.56,519.6 567.77,519.6 567.98,519.6 568.19,519.6 568.4,519.6 568.62,519.6 568.83,519.6 569.04,519.6 569.25,519.6 569.46,519.6 569.67,519.6 569.88,519.6 570.09,519.6 570.3,519.6 570.51,519.6 570.72,519.6 570.93,519.6 571.14,519.6 571.35,519.6 571.56,519.6 571.77,519.6 571.98,519.6 572.19,519.6 572.4,519.6 572.62,519.6 572.83,519.6 573.04,519.6 573.25,519.6 573.46,519.6 573.67,519.6 573.88,519.6 574.09,519.6 574.3,519.6 574.51,519.6 574.72,519.6 574.93,519.6 575.14,519.6 575.35,519.6 575.56,519.6 575.77,519.6 575.98,519.6 576.19,519.6 576.4,519.6 576.61,519.6 576.83,519.6 577.04,519.6 577.25,519.6 577.46,519.6 577.67,519.6 577.88,519.6 578.09,519.6 578.3,519.6 578.51,519.6 578.72,519.6 578.93,519.6 579.14,519.6 579.35,519.6 579.56,519.6 579.77,519.6 579.98,519.6 580.19,519.6 580.4,519.6 580.61,519.6 580.82,519.6 581.04,519.6 581.25,519.6 581.46,519.6 581.67,519.6 581.88,519.6 582.09,519.6 582.3,519.6 582.51,519.6 582.72,519.6 582.93,519.6 583.14,519.6 583.35,519.6 583.56,519.6 583.77,519.6 583.98,519.6 584.19,519.6 584.4,519.6 584.61,519.6 584.82,519.6 585.03,519.6 585.25,519.6 585.46,519.6 585.67,519.6 585.88,519.6 586.09,519.6 586.3,519.6 586.51,519.6 586.72,519.6 586.93,519.6 587.14,519.6 587.35,519.6 587.56,519.6 587.77,519.6 587.98,519.6 588.19,519.6 588.4,519.6 588.61,519.6 588.82,519.6 589.03,519.6 589.24,519.6 589.46,519.6 589.67,519.6 589.88,519.6 590.09,519.6 590.3,519.6 590.51,519.6 590.72,519.6 590.93,519.6 591.14,519.6 591.35,519.6 591.56,519.6 591.77,519.6 591.98,519.6 592.19,519.6 592.4,519.6 592.61,519.6 592.82,519.6 593.03,519.6 593.24,519.6 593.45,519.6 593.66,519.6 593.88,519.6 594.09,519.6 594.3,519.6 594.51,519.6 594.72,519.6 594.93,519.6 595.14,519.6 595.35,519.6 595.56,519.6 595.77,519.6 595.98,519.6 596.19,519.6 596.4,519.6 596.61,519.6 596.82,519.6 597.03,519.6 597.24,519.6 597.45,519.6 597.66,519.6 597.88,519.6 598.09,519.6 598.3,519.6 598.51,519.6 598.72,519.6 598.93,519.6 599.14,519.6 599.35,519.6 599.56,519.6 599.77,519.6 599.98,519.6 600.19,519.6 600.4,519.6 600.61,519.6 600.82,519.6 601.03,519.6 601.24,519.6 601.45,519.6 601.66,519.6 601.87,519.6 602.09,519.6 602.3,519.6 602.51,519.6 602.72,519.6 602.93,519.6 603.14,519.6 603.35,519.6 603.56,519.6 603.77,519.6 603.98,519.6 604.19,519.6 604.4,519.6 604.61,519.6 604.82,519.6 605.03,519.6 605.24,519.6 605.45,519.6 605.66,519.6 605.87,519.6 606.08,519.6 606.3,519.6 606.51,519.6 606.72,519.6 606.93,519.6 607.14,519.6 607.35,519.6 607.56,519.6 607.77,519.6 607.98,519.6 608.19,519.6 608.4,519.6 608.61,519.6 608.82,519.6 609.03,519.6 609.24,519.6 609.45,519.6 609.66,519.6 609.87,519.6 610.08,519.6 610.29,519.6 610.5,519.6 610.72,519.6 610.93,519.6 611.14,519.6 611.35,519.6 611.56,519.6 611.77,519.6 611.98,519.6 612.19,519.6 612.4,519.6 612.61,519.6 612.82,519.6 613.03,519.6 613.24,519.6 613.45,519.6 613.66,519.6 613.87,519.6 614.08,519.6 614.29,519.6 614.5,519.6 614.72,519.6 614.93,519.6 615.14,519.6 615.35,519.6 615.56,519.6 615.77,519.6 615.98,519.6 616.19,519.6 616.4,519.6 616.61,519.6 616.82,519.6 617.03,519.6 617.24,519.6 617.45,519.6 617.66,519.6 617.87,519.6 618.08,519.6 618.29,519.6 618.5,519.6 618.71,519.6 618.92,519.6 619.14,519.6 619.35,519.6 619.56,519.6 619.77,519.6 619.98,519.6 620.19,519.6 620.4,519.6 620.61,519.6 620.82,519.6 621.03,519.6 621.24,519.6 621.45,519.6 621.66,519.6 621.87,519.6 622.08,519.6 622.29,519.6 622.5,519.6 622.71,519.6 622.92,519.6 623.13,519.6 623.35,519.6 623.56,519.6 623.77,519.6 623.98,519.6 624.19,519.6 624.4,519.6 624.61,519.6 624.82,519.6 625.03,519.6 625.24,519.6 625.45,519.6 625.66,519.6 625.87,519.6 626.08,519.6 626.29,519.6 626.5,519.6 626.71,519.6 626.92,519.6 627.13,519.6 627.35,519.6 627.56,519.6 627.77,519.6 627.98,519.6 628.19,519.6 628.4,519.6 628.61,519.6 628.82,519.6 629.03,519.6 629.24,519.6 629.45,519.6 629.66,519.6 629.87,519.6 630.08,519.6 630.29,519.6 630.5,519.6 630.71,519.6 630.92,519.6 631.13,519.6 631.34,519.6 631.56,519.6 631.77,519.6 631.98,519.6 632.19,519.6 632.4,519.6 632.61,519.6 632.82,519.6 633.03,519.6 633.24,519.6 633.45,519.6 633.66,519.6 633.87,519.6 634.08,519.6 634.29,519.6 634.5,519.6 634.71,519.6 634.92,519.6 635.13,519.6 635.34,519.6 635.55,519.6 635.76,519.6 635.98,519.6 636.19,519.6 636.4,519.6 636.61,519.6 636.82,519.6 637.03,519.6 637.24,519.6 637.45,519.6 637.66,519.6 637.87,519.6 638.08,519.6 638.29,519.6 638.5,519.6 638.71,519.6 638.92,519.6 639.13,519.6 639.34,519.6 639.55,519.6 639.76,519.6 639.98,519.6 640.19,519.6 640.4,519.6 640.61,519.6 640.82,519.6 641.03,519.6 641.24,519.6 641.45,519.6 641.66,519.6 641.87,519.6 642.08,519.6 642.29,519.6 642.5,519.6 642.71,519.6 642.92,519.6 643.13,519.6 643.34,519.6 643.55,519.6 643.76,519.6 643.97,519.6 644.19,519.6 644.4,519.6 644.61,519.6 644.82,519.6 645.03,519.6 645.24,519.6 645.45,519.6 645.66,519.6 645.87,519.6 646.08,519.6 646.29,519.6 646.5,519.6 646.71,519.6 646.92,519.6 647.13,519.6 647.34,519.6 647.55,519.6 647.76,519.6 647.97,519.6 648.18,519.6 648.39,519.6 648.61,519.6 648.82,519.6 649.03,519.6 649.24,519.6 649.45,519.6 649.66,519.6 649.87,519.6 650.08,519.6 650.29,519.6 650.5,519.6" fill="none" stroke="#1a1a1a" stroke-width="1.3" stroke-linejoin="round" stroke-dasharray="3.5 3"/>
<polyline points="482.1,406.23 482.31,406.84 482.52,407.85 482.73,408.84 482.94,409.83 483.15,410.81 483.36,411.77 483.57,412.73 483.78,413.68 483.99,414.62 484.21,415.56 484.42,416.48 484.63,417.39 484.84,418.3 485.05,419.2 485.26,420.09 485.47,420.97 485.68,421.84 485.89,422.7 486.1,423.56 486.31,424.41 486.52,425.25 486.73,426.08 486.94,426.9 487.15,427.72 487.36,428.52 487.57,429.33 487.78,430.12 487.99,430.9 488.2,431.68 488.42,432.45 488.63,433.22 488.84,433.97 489.05,434.72 489.26,435.47 489.47,436.2 489.68,436.93 489.89,437.65 490.1,438.37 490.31,439.07 490.52,439.77 490.73,440.47 490.94,441.16 491.15,441.84 491.36,442.52 491.57,443.18 491.78,443.85 491.99,444.5 492.2,445.15 492.41,445.8 492.62,446.44 492.84,447.07 493.05,447.7 493.26,448.32 493.47,448.93 493.68,449.54 493.89,450.14 494.1,450.74 494.31,451.33 494.52,451.92 494.73,452.5 494.94,453.08 495.15,453.65 495.36,454.21 495.57,454.77 495.78,455.33 495.99,455.88 496.2,456.42 496.41,456.96 496.62,457.5 496.84,458.03 497.05,458.55 497.26,459.07 497.47,459.58 497.68,460.09 497.89,460.6 498.1,461.1 498.31,461.6 498.52,462.09 498.73,462.57 498.94,463.06 499.15,463.53 499.36,464.01 499.57,464.48 499.78,464.94 499.99,465.4 500.2,465.86 500.41,466.31 500.62,466.76 500.83,467.2 501.05,467.64 501.26,468.07 501.47,468.51 501.68,468.93 501.89,469.36 502.1,469.78 502.31,470.19 502.52,470.6 502.73,471.01 502.94,471.42 503.15,471.82 503.36,472.21 503.57,472.61 503.78,473 503.99,473.38 504.2,473.77 504.41,474.15 504.62,474.52 504.83,474.89 505.04,475.26 505.25,475.63 505.47,475.99 505.68,476.35 505.89,476.7 506.1,477.06 506.31,477.41 506.52,477.75 506.73,478.09 506.94,478.43 507.15,478.77 507.36,479.1 507.57,479.43 507.78,479.76 507.99,480.09 508.2,480.41 508.41,480.73 508.62,481.04 508.83,481.35 509.04,481.66 509.25,481.97 509.47,482.28 509.68,482.58 509.89,482.88 510.1,483.17 510.31,483.47 510.52,483.76 510.73,484.05 510.94,484.33 511.15,484.61 511.36,484.89 511.57,485.17 511.78,485.45 511.99,485.72 512.2,485.99 512.41,486.26 512.62,486.52 512.83,486.79 513.04,487.05 513.25,487.31 513.46,487.56 513.68,487.82 513.89,488.07 514.1,488.32 514.31,488.57 514.52,488.81 514.73,489.05 514.94,489.29 515.15,489.53 515.36,489.77 515.57,490 515.78,490.24 515.99,490.47 516.2,490.69 516.41,490.92 516.62,491.14 516.83,491.37 517.04,491.59 517.25,491.8 517.46,492.02 517.67,492.23 517.88,492.45 518.1,492.66 518.31,492.87 518.52,493.07 518.73,493.28 518.94,493.48 519.15,493.68 519.36,493.88 519.57,494.08 519.78,494.27 519.99,494.47 520.2,494.66 520.41,494.85 520.62,495.04 520.83,495.23 521.04,495.41 521.25,495.6 521.46,495.78 521.67,495.96 521.88,496.14 522.1,496.32 522.31,496.5 522.52,496.67 522.73,496.84 522.94,497.02 523.15,497.19 523.36,497.35 523.57,497.52 523.78,497.69 523.99,497.85 524.2,498.01 524.41,498.18 524.62,498.34 524.83,498.5 525.04,498.65 525.25,498.81 525.46,498.96 525.67,499.12 525.88,499.27 526.09,499.42 526.31,499.57 526.52,499.72 526.73,499.86 526.94,500.01 527.15,500.15 527.36,500.3 527.57,500.44 527.78,500.58 527.99,500.72 528.2,500.86 528.41,500.99 528.62,501.13 528.83,501.26 529.04,501.4 529.25,501.53 529.46,501.66 529.67,501.79 529.88,501.92 530.09,502.05 530.3,502.17 530.51,502.3 530.73,502.42 530.94,502.55 531.15,502.67 531.36,502.79 531.57,502.91 531.78,503.03 531.99,503.15 532.2,503.27 532.41,503.38 532.62,503.5 532.83,503.61 533.04,503.73 533.25,503.84 533.46,503.95 533.67,504.06 533.88,504.17 534.09,504.28 534.3,504.39 534.51,504.49 534.73,504.6 534.94,504.7 535.15,504.81 535.36,504.91 535.57,505.01 535.78,505.12 535.99,505.22 536.2,505.32 536.41,505.42 536.62,505.51 536.83,505.61 537.04,505.71 537.25,505.8 537.46,505.9 537.67,505.99 537.88,506.09 538.09,506.18 538.3,506.27 538.51,506.36 538.72,506.45 538.94,506.54 539.15,506.63 539.36,506.72 539.57,506.81 539.78,506.89 539.99,506.98 540.2,507.07 540.41,507.15 540.62,507.23 540.83,507.32 541.04,507.4 541.25,507.48 541.46,507.56 541.67,507.64 541.88,507.72 542.09,507.8 542.3,507.88 542.51,507.96 542.72,508.04 542.93,508.11 543.14,508.19 543.36,508.27 543.57,508.34 543.78,508.41 543.99,508.49 544.2,508.56 544.41,508.63 544.62,508.71 544.83,508.78 545.04,508.85 545.25,508.92 545.46,508.99 545.67,509.06 545.88,509.13 546.09,509.19 546.3,509.26 546.51,509.33 546.72,509.39 546.93,509.46 547.14,509.52 547.36,509.59 547.57,509.65 547.78,509.72 547.99,509.78 548.2,509.84 548.41,509.91 548.62,509.97 548.83,510.03 549.04,510.09 549.25,510.15 549.46,510.21 549.67,510.27 549.88,510.33 550.09,510.39 550.3,510.44 550.51,510.5 550.72,510.56 550.93,510.61 551.14,510.67 551.35,510.73 551.57,510.78 551.78,510.84 551.99,510.89 552.2,510.94 552.41,511 552.62,511.05 552.83,511.1 553.04,511.16 553.25,511.21 553.46,511.26 553.67,511.31 553.88,511.36 554.09,511.41 554.3,511.46 554.51,511.51 554.72,511.56 554.93,511.61 555.14,511.66 555.35,511.71 555.56,511.75 555.77,511.8 555.99,511.85 556.2,511.89 556.41,511.94 556.62,511.99 556.83,512.03 557.04,512.08 557.25,512.12 557.46,512.17 557.67,512.21 557.88,512.25 558.09,512.3 558.3,512.34 558.51,512.38 558.72,512.43 558.93,512.47 559.14,512.51 559.35,512.55 559.56,512.59 559.77,512.63 559.99,512.67 560.2,512.72 560.41,512.76 560.62,512.8 560.83,512.83 561.04,512.87 561.25,512.91 561.46,512.95 561.67,512.99 561.88,513.03 562.09,513.06 562.3,513.1 562.51,513.14 562.72,513.18 562.93,513.21 563.14,513.25 563.35,513.29 563.56,513.32 563.77,513.36 563.98,513.39 564.2,513.43 564.41,513.46 564.62,513.5 564.83,513.53 565.04,513.56 565.25,513.6 565.46,513.63 565.67,513.67 565.88,513.7 566.09,513.73 566.3,513.76 566.51,513.8 566.72,513.83 566.93,513.86 567.14,513.89 567.35,513.92 567.56,513.95 567.77,513.98 567.98,514.02 568.19,514.05 568.4,514.08 568.62,514.11 568.83,514.14 569.04,514.17 569.25,514.2 569.46,514.22 569.67,514.25 569.88,514.28 570.09,514.31 570.3,514.34 570.51,514.37 570.72,514.4 570.93,514.42 571.14,514.45 571.35,514.48 571.56,514.51 571.77,514.53 571.98,514.56 572.19,514.59 572.4,514.61 572.62,514.64 572.83,514.66 573.04,514.69 573.25,514.72 573.46,514.74 573.67,514.77 573.88,514.79 574.09,514.82 574.3,514.84 574.51,514.87 574.72,514.89 574.93,514.92 575.14,514.94 575.35,514.96 575.56,514.99 575.77,515.01 575.98,515.04 576.19,515.06 576.4,515.08 576.61,515.1 576.83,515.13 577.04,515.15 577.25,515.17 577.46,515.2 577.67,515.22 577.88,515.24 578.09,515.26 578.3,515.28 578.51,515.31 578.72,515.33 578.93,515.35 579.14,515.37 579.35,515.39 579.56,515.41 579.77,515.43 579.98,515.45 580.19,515.47 580.4,515.49 580.61,515.51 580.82,515.53 581.04,515.55 581.25,515.57 581.46,515.59 581.67,515.61 581.88,515.63 582.09,515.65 582.3,515.67 582.51,515.69 582.72,515.71 582.93,515.73 583.14,515.75 583.35,515.77 583.56,515.78 583.77,515.8 583.98,515.82 584.19,515.84 584.4,515.86 584.61,515.87 584.82,515.89 585.03,515.91 585.25,515.93 585.46,515.94 585.67,515.96 585.88,515.98 586.09,516 586.3,516.01 586.51,516.03 586.72,516.05 586.93,516.06 587.14,516.08 587.35,516.1 587.56,516.11 587.77,516.13 587.98,516.14 588.19,516.16 588.4,516.18 588.61,516.19 588.82,516.21 589.03,516.22 589.24,516.24 589.46,516.25 589.67,516.27 589.88,516.29 590.09,516.3 590.3,516.32 590.51,516.33 590.72,516.34 590.93,516.36 591.14,516.37 591.35,516.39 591.56,516.4 591.77,516.42 591.98,516.43 592.19,516.45 592.4,516.46 592.61,516.47 592.82,516.49 593.03,516.5 593.24,516.52 593.45,516.53 593.66,516.54 593.88,516.56 594.09,516.57 594.3,516.58 594.51,516.6 594.72,516.61 594.93,516.62 595.14,516.64 595.35,516.65 595.56,516.66 595.77,516.67 595.98,516.69 596.19,516.7 596.4,516.71 596.61,516.72 596.82,516.74 597.03,516.75 597.24,516.76 597.45,516.77 597.66,516.79 597.88,516.8 598.09,516.81 598.3,516.82 598.51,516.83 598.72,516.85 598.93,516.86 599.14,516.87 599.35,516.88 599.56,516.89 599.77,516.9 599.98,516.91 600.19,516.93 600.4,516.94 600.61,516.95 600.82,516.96 601.03,516.97 601.24,516.98 601.45,516.99 601.66,517 601.87,517.01 602.09,517.02 602.3,517.03 602.51,517.05 602.72,517.06 602.93,517.07 603.14,517.08 603.35,517.09 603.56,517.1 603.77,517.11 603.98,517.12 604.19,517.13 604.4,517.14 604.61,517.15 604.82,517.16 605.03,517.17 605.24,517.18 605.45,517.19 605.66,517.2 605.87,517.21 606.08,517.22 606.3,517.22 606.51,517.23 606.72,517.24 606.93,517.25 607.14,517.26 607.35,517.27 607.56,517.28 607.77,517.29 607.98,517.3 608.19,517.31 608.4,517.32 608.61,517.33 608.82,517.33 609.03,517.34 609.24,517.35 609.45,517.36 609.66,517.37 609.87,517.38 610.08,517.39 610.29,517.4 610.5,517.4 610.72,517.41 610.93,517.42 611.14,517.43 611.35,517.44 611.56,517.45 611.77,517.45 611.98,517.46 612.19,517.47 612.4,517.48 612.61,517.49 612.82,517.49 613.03,517.5 613.24,517.51 613.45,517.52 613.66,517.53 613.87,517.53 614.08,517.54 614.29,517.55 614.5,517.56 614.72,517.56 614.93,517.57 615.14,517.58 615.35,517.59 615.56,517.59 615.77,517.6 615.98,517.61 616.19,517.62 616.4,517.62 616.61,517.63 616.82,517.64 617.03,517.64 617.24,517.65 617.45,517.66 617.66,517.67 617.87,517.67 618.08,517.68 618.29,517.69 618.5,517.69 618.71,517.7 618.92,517.71 619.14,517.71 619.35,517.72 619.56,517.73 619.77,517.73 619.98,517.74 620.19,517.75 620.4,517.75 620.61,517.76 620.82,517.77 621.03,517.77 621.24,517.78 621.45,517.79 621.66,517.79 621.87,517.8 622.08,517.8 622.29,517.81 622.5,517.82 622.71,517.82 622.92,517.83 623.13,517.84 623.35,517.84 623.56,517.85 623.77,517.85 623.98,517.86 624.19,517.87 624.4,517.87 624.61,517.88 624.82,517.88 625.03,517.89 625.24,517.89 625.45,517.9 625.66,517.91 625.87,517.91 626.08,517.92 626.29,517.92 626.5,517.93 626.71,517.93 626.92,517.94 627.13,517.95 627.35,517.95 627.56,517.96 627.77,517.96 627.98,517.97 628.19,517.97 628.4,517.98 628.61,517.98 628.82,517.99 629.03,517.99 629.24,518 629.45,518 629.66,518.01 629.87,518.02 630.08,518.02 630.29,518.03 630.5,518.03 630.71,518.04 630.92,518.04 631.13,518.05 631.34,518.05 631.56,518.06 631.77,518.06 631.98,518.07 632.19,518.07 632.4,518.08 632.61,518.08 632.82,518.09 633.03,518.09 633.24,518.09 633.45,518.1 633.66,518.1 633.87,518.11 634.08,518.11 634.29,518.12 634.5,518.12 634.71,518.13 634.92,518.13 635.13,518.14 635.34,518.14 635.55,518.15 635.76,518.15 635.98,518.15 636.19,518.16 636.4,518.16 636.61,518.17 636.82,518.17 637.03,518.18 637.24,518.18 637.45,518.19 637.66,518.19 637.87,518.19 638.08,518.2 638.29,518.2 638.5,518.21 638.71,518.21 638.92,518.21 639.13,518.22 639.34,518.22 639.55,518.23 639.76,518.23 639.98,518.24 640.19,518.24 640.4,518.24 640.61,518.25 640.82,518.25 641.03,518.26 641.24,518.26 641.45,518.26 641.66,518.27 641.87,518.27 642.08,518.28 642.29,518.28 642.5,518.28 642.71,518.29 642.92,518.29 643.13,518.29 643.34,518.3 643.55,518.3 643.76,518.31 643.97,518.31 644.19,518.31 644.4,518.32 644.61,518.32 644.82,518.32 645.03,518.33 645.24,518.33 645.45,518.33 645.66,518.34 645.87,518.34 646.08,518.35 646.29,518.35 646.5,518.35 646.71,518.36 646.92,518.36 647.13,518.36 647.34,518.37 647.55,518.37 647.76,518.37 647.97,518.38 648.18,518.38 648.39,518.38 648.61,518.39 648.82,518.39 649.03,518.39 649.24,518.4 649.45,518.4 649.66,518.4 649.87,518.41 650.08,518.41 650.29,518.41 650.5,518.42" fill="none" stroke="#1a1a1a" stroke-width="1.3" stroke-linejoin="round" stroke-dasharray="3.5 3"/>
<rect x="481.8" y="394.6" width="168.7" height="141.1" fill="none" stroke="#2a2a2a" stroke-width="1.1"/>
<line x1="482.1" y1="535.7" x2="482.1" y2="538.7" stroke="#2a2a2a" stroke-width="1" />
<line x1="524.2" y1="535.7" x2="524.2" y2="538.7" stroke="#2a2a2a" stroke-width="1" />
<line x1="566.3" y1="535.7" x2="566.3" y2="538.7" stroke="#2a2a2a" stroke-width="1" />
<line x1="608.4" y1="535.7" x2="608.4" y2="538.7" stroke="#2a2a2a" stroke-width="1" />
<line x1="650.5" y1="535.7" x2="650.5" y2="538.7" stroke="#2a2a2a" stroke-width="1" />
<line x1="503.15" y1="535.7" x2="503.15" y2="537.7" stroke="#2a2a2a" stroke-width="1" />
<line x1="545.25" y1="535.7" x2="545.25" y2="537.7" stroke="#2a2a2a" stroke-width="1" />
<line x1="587.35" y1="535.7" x2="587.35" y2="537.7" stroke="#2a2a2a" stroke-width="1" />
<line x1="629.45" y1="535.7" x2="629.45" y2="537.7" stroke="#2a2a2a" stroke-width="1" />
<line x1="481.8" y1="523.7" x2="478.8" y2="523.7" stroke="#2a2a2a" stroke-width="1" />
<line x1="481.8" y1="500.3" x2="478.8" y2="500.3" stroke="#2a2a2a" stroke-width="1" />
<line x1="481.8" y1="476.9" x2="478.8" y2="476.9" stroke="#2a2a2a" stroke-width="1" />
<line x1="481.8" y1="453.5" x2="478.8" y2="453.5" stroke="#2a2a2a" stroke-width="1" />
<line x1="481.8" y1="430.1" x2="478.8" y2="430.1" stroke="#2a2a2a" stroke-width="1" />
<line x1="481.8" y1="406.7" x2="478.8" y2="406.7" stroke="#2a2a2a" stroke-width="1" />
<line x1="481.8" y1="512" x2="479.8" y2="512" stroke="#2a2a2a" stroke-width="1" />
<line x1="481.8" y1="488.6" x2="479.8" y2="488.6" stroke="#2a2a2a" stroke-width="1" />
<line x1="481.8" y1="465.2" x2="479.8" y2="465.2" stroke="#2a2a2a" stroke-width="1" />
<line x1="481.8" y1="441.8" x2="479.8" y2="441.8" stroke="#2a2a2a" stroke-width="1" />
<line x1="481.8" y1="418.4" x2="479.8" y2="418.4" stroke="#2a2a2a" stroke-width="1" />
<text x="482.1" y="549.6" font-size="10.5" text-anchor="middle" fill="#1c1c1c" stroke="#1c1c1c" stroke-width="0.25" font-weight="normal" font-style="normal" font-family="'Liberation Sans', sans-serif" >0</text>
<text x="524.2" y="549.6" font-size="10.5" text-anchor="middle" fill="#1c1c1c" stroke="#1c1c1c" stroke-width="0.25" font-weight="normal" font-style="normal" font-family="'Liberation Sans', sans-serif" >50</text>
<text x="566.3" y="549.6" font-size="10.5" text-anchor="middle" fill="#1c1c1c" stroke="#1c1c1c" stroke-width="0.25" font-weight="normal" font-style="normal" font-family="'Liberation Sans', sans-serif" >100</text>
<text x="608.4" y="549.6" font-size="10.5" text-anchor="middle" fill="#1c1c1c" stroke="#1c1c1c" stroke-width="0.25" font-weight="normal" font-style="normal" font-family="'Liberation Sans', sans-serif" >150</text>
<text x="650.5" y="549.6" font-size="10.5" text-anchor="middle" fill="#1c1c1c" stroke="#1c1c1c" stroke-width="0.25" font-weight="normal" font-style="normal" font-family="'Liberation Sans', sans-serif" >200</text>
<text x="475.3" y="527.4" font-size="10.5" text-anchor="end" fill="#1c1c1c" stroke="#1c1c1c" stroke-width="0.25" font-weight="normal" font-style="normal" font-family="'Liberation Sans', sans-serif" >0.0</text>
<text x="475.3" y="504" font-size="10.5" text-anchor="end" fill="#1c1c1c" stroke="#1c1c1c" stroke-width="0.25" font-weight="normal" font-style="normal" font-family="'Liberation Sans', sans-serif" >0.2</text>
<text x="475.3" y="480.6" font-size="10.5" text-anchor="end" fill="#1c1c1c" stroke="#1c1c1c" stroke-width="0.25" font-weight="normal" font-style="normal" font-family="'Liberation Sans', sans-serif" >0.4</text>
<text x="475.3" y="457.2" font-size="10.5" text-anchor="end" fill="#1c1c1c" stroke="#1c1c1c" stroke-width="0.25" font-weight="normal" font-style="normal" font-family="'Liberation Sans', sans-serif" >0.6</text>
<text x="475.3" y="433.8" font-size="10.5" text-anchor="end" fill="#1c1c1c" stroke="#1c1c1c" stroke-width="0.25" font-weight="normal" font-style="normal" font-family="'Liberation Sans', sans-serif" >0.8</text>
<text x="475.3" y="410.4" font-size="10.5" text-anchor="end" fill="#1c1c1c" stroke="#1c1c1c" stroke-width="0.25" font-weight="normal" font-style="normal" font-family="'Liberation Sans', sans-serif" >1.0</text>
<text x="563.5" y="567" font-size="14.5" text-anchor="middle" fill="#1c1c1c" stroke="#1c1c1c" stroke-width="0.25" font-weight="normal" font-style="normal" font-family="'Liberation Sans', sans-serif" >Time (µs)</text>
<text transform="translate(455.8,464.3) rotate(-90)" x="0" y="0" font-size="14.7" text-anchor="middle" fill="#1c1c1c" stroke="#1c1c1c" stroke-width="0.25" font-family="'Liberation Sans', sans-serif" >Nor. TPV</text>
<circle cx="576.6" cy="409.3" r="2.3" fill="url(#gb)"/>
<text x="592" y="413.6" font-size="11.5" text-anchor="start" fill="#1c1c1c" stroke="#1c1c1c" stroke-width="0.25" font-weight="normal" font-style="normal" font-family="'Liberation Sans', sans-serif" >1-BP</text>
<circle cx="576.6" cy="423.6" r="2.3" fill="url(#gg)"/>
<text x="592" y="427.6" font-size="11.5" text-anchor="start" fill="#1c1c1c" stroke="#1c1c1c" stroke-width="0.25" font-weight="normal" font-style="normal" font-family="'Liberation Sans', sans-serif" >Control</text>
<line x1="562.7" y1="436.5" x2="583" y2="436.5" stroke="#1a1a1a" stroke-width="1.3" stroke-dasharray="3.5 3"/>
<text x="588.4" y="440.6" font-size="11.5" text-anchor="start" fill="#1c1c1c" stroke="#1c1c1c" stroke-width="0.25" font-weight="normal" font-style="normal" font-family="'Liberation Sans', sans-serif" >Fitting line</text>
<defs>
<linearGradient id="glassF" x1="0" y1="0" x2="0" y2="1"><stop offset="0" stop-color="#d6ecf7"/><stop offset="0.3" stop-color="#b9def1"/><stop offset="1" stop-color="#a9d5ee"/></linearGradient>
<linearGradient id="etlG" x1="0" y1="0" x2="0" y2="1"><stop offset="0" stop-color="#8c8f94"/><stop offset="0.55" stop-color="#b4b4b6"/><stop offset="1" stop-color="#cbcbcb"/></linearGradient>
<linearGradient id="htlG" x1="0" y1="0" x2="0" y2="1"><stop offset="0" stop-color="#f4e2d6"/><stop offset="1" stop-color="#ebcdb8"/></linearGradient>
<linearGradient id="gapG" x1="0" y1="0" x2="1" y2="0"><stop offset="0" stop-color="#7689a0"/><stop offset="0.2" stop-color="#5f7389"/><stop offset="0.6" stop-color="#5c7084"/><stop offset="1" stop-color="#6a7e92"/></linearGradient>
<radialGradient id="sph" cx="0.45" cy="0.4" r="0.6"><stop offset="0" stop-color="#bcd6cd"/><stop offset="0.6" stop-color="#a2c1b7"/><stop offset="1" stop-color="#8aaca2"/></radialGradient>
<radialGradient id="atC" cx="0.4" cy="0.35" r="0.65"><stop offset="0" stop-color="#dcdcdc"/><stop offset="1" stop-color="#6e6e6e"/></radialGradient>
<radialGradient id="atH" cx="0.4" cy="0.35" r="0.65"><stop offset="0" stop-color="#ffffff"/><stop offset="1" stop-color="#bdbdbd"/></radialGradient>
<radialGradient id="atN" cx="0.4" cy="0.35" r="0.65"><stop offset="0" stop-color="#b8c8f0"/><stop offset="1" stop-color="#3c50b4"/></radialGradient>
<radialGradient id="atP" cx="0.4" cy="0.35" r="0.65"><stop offset="0" stop-color="#d8c0f0"/><stop offset="1" stop-color="#7a4cc0"/></radialGradient>
</defs>
<circle cx="29.5" cy="19.5" r="6.2" fill="#d4efe7"/>
<circle cx="40.5" cy="16.5" r="6.5" fill="#d4efe7"/>
<circle cx="53" cy="16.3" r="6.5" fill="#d4efe7"/>
<circle cx="65" cy="16.8" r="6.3" fill="#d4efe7"/>
<circle cx="75" cy="19.5" r="6.3" fill="#d4efe7"/>
<circle cx="80.5" cy="27.5" r="6" fill="#d4efe7"/>
<circle cx="79" cy="35.5" r="6.2" fill="#d4efe7"/>
<circle cx="71.5" cy="40.5" r="6.2" fill="#d4efe7"/>
<circle cx="60.5" cy="43.5" r="7" fill="#d4efe7"/>
<circle cx="48.5" cy="44" r="7" fill="#d4efe7"/>
<circle cx="37" cy="42" r="6.5" fill="#d4efe7"/>
<circle cx="28" cy="37.5" r="6.5" fill="#d4efe7"/>
<circle cx="24" cy="29" r="5.5" fill="#d4efe7"/>
<ellipse cx="52" cy="30" rx="26" ry="12.5" fill="#d4efe7"/>
<line x1="29.2" y1="28.5" x2="34.7" y2="22.5" stroke="#8f939c" stroke-width="1.2"/>
<line x1="34.7" y1="22.5" x2="40.7" y2="21.4" stroke="#8f939c" stroke-width="1.2"/>
<line x1="40.7" y1="21.4" x2="45.7" y2="30.2" stroke="#8f939c" stroke-width="1.2"/>
<line x1="45.7" y1="30.2" x2="39.6" y2="36.2" stroke="#8f939c" stroke-width="1.2"/>
<line x1="39.6" y1="36.2" x2="33.1" y2="36.2" stroke="#8f939c" stroke-width="1.2"/>
<line x1="33.1" y1="36.2" x2="29.2" y2="28.5" stroke="#8f939c" stroke-width="1.2"/>
<line x1="29.2" y1="28.5" x2="25.4" y2="28.9" stroke="#8f939c" stroke-width="1.2"/>
<line x1="34.7" y1="22.5" x2="32" y2="17.3" stroke="#8f939c" stroke-width="1.2"/>
<line x1="40.7" y1="21.4" x2="45.7" y2="18.7" stroke="#8f939c" stroke-width="1.2"/>
<line x1="33.1" y1="36.2" x2="29.2" y2="40.3" stroke="#8f939c" stroke-width="1.2"/>
<line x1="39.6" y1="36.2" x2="42.9" y2="41.1" stroke="#8f939c" stroke-width="1.2"/>
<line x1="45.7" y1="30.2" x2="52.8" y2="30.7" stroke="#8f939c" stroke-width="1.2"/>
<line x1="52.8" y1="30.7" x2="55.5" y2="37.3" stroke="#8f939c" stroke-width="1.2"/>
<line x1="52.8" y1="30.7" x2="57.2" y2="24.7" stroke="#8f939c" stroke-width="1.2"/>
<line x1="57.2" y1="24.7" x2="64.8" y2="27.4" stroke="#8f939c" stroke-width="1.2"/>
<line x1="64.8" y1="27.4" x2="67.6" y2="31.3" stroke="#8f939c" stroke-width="1.2"/>
<line x1="64.8" y1="27.4" x2="69.2" y2="20.3" stroke="#8f939c" stroke-width="1.2"/>
<line x1="69.2" y1="20.3" x2="69.7" y2="17" stroke="#8f939c" stroke-width="1.2"/>
<line x1="69.2" y1="20.3" x2="75.2" y2="23.1" stroke="#8f939c" stroke-width="1.2"/>
<line x1="67.6" y1="31.3" x2="73.6" y2="33.5" stroke="#8f939c" stroke-width="1.2"/>
<line x1="64.8" y1="27.4" x2="59.3" y2="34" stroke="#8f939c" stroke-width="1.2"/>
<line x1="67.6" y1="31.3" x2="63.2" y2="36.2" stroke="#8f939c" stroke-width="1.2"/>
<line x1="67.6" y1="31.3" x2="67" y2="38.4" stroke="#8f939c" stroke-width="1.2"/>
<line x1="69.2" y1="20.3" x2="66.5" y2="18.7" stroke="#8f939c" stroke-width="1.2"/>
<line x1="34.7" y1="22.5" x2="37.2" y2="20.5" stroke="#8f939c" stroke-width="1.2"/>
<line x1="33.1" y1="36.2" x2="36.6" y2="34.2" stroke="#8f939c" stroke-width="1.2"/>
<circle cx="29.2" cy="28.5" r="2.0" fill="url(#atN)"/>
<circle cx="34.7" cy="22.5" r="2.2" fill="url(#atC)"/>
<circle cx="40.7" cy="21.4" r="2.2" fill="url(#atC)"/>
<circle cx="45.7" cy="30.2" r="2.0" fill="url(#atN)"/>
<circle cx="39.6" cy="36.2" r="2.2" fill="url(#atC)"/>
<circle cx="33.1" cy="36.2" r="2.2" fill="url(#atC)"/>
<circle cx="52.8" cy="30.7" r="2.2" fill="url(#atC)"/>
<circle cx="55.5" cy="37.3" r="2.0" fill="url(#atN)"/>
<circle cx="57.2" cy="24.7" r="2.0" fill="url(#atP)"/>
<circle cx="64.8" cy="27.4" r="2.2" fill="url(#atC)"/>
<circle cx="67.6" cy="31.3" r="2.2" fill="url(#atC)"/>
<circle cx="69.2" cy="20.3" r="2.2" fill="url(#atC)"/>
<circle cx="25.4" cy="28.9" r="1.4" fill="url(#atH)"/>
<circle cx="32" cy="17.3" r="1.4" fill="url(#atH)"/>
<circle cx="45.7" cy="18.7" r="1.4" fill="url(#atH)"/>
<circle cx="29.2" cy="40.3" r="1.4" fill="url(#atH)"/>
<circle cx="42.9" cy="41.1" r="1.4" fill="url(#atH)"/>
<circle cx="69.7" cy="17" r="1.4" fill="url(#atH)"/>
<circle cx="75.2" cy="23.1" r="1.4" fill="url(#atH)"/>
<circle cx="73.6" cy="33.5" r="1.4" fill="url(#atH)"/>
<circle cx="59.3" cy="34" r="1.4" fill="url(#atH)"/>
<circle cx="63.2" cy="36.2" r="1.4" fill="url(#atH)"/>
<circle cx="67" cy="38.4" r="1.4" fill="url(#atH)"/>
<circle cx="66.5" cy="18.7" r="1.4" fill="url(#atH)"/>
<circle cx="37.2" cy="20.5" r="1.4" fill="url(#atH)"/>
<circle cx="36.6" cy="34.2" r="1.4" fill="url(#atH)"/>
<polygon points="32.9,144 62,114 188,114 188,148.2" fill="#ddeef7"/>
<polygon points="32.9,144 188,148.2 188,159.9 32.9,152.6" fill="url(#glassF)"/>
<polygon points="51,145.2 74.6,145.8 74.6,155.6 51,154.4" fill="#c7dccb" opacity="0.8"/>
<polygon points="45.4,134.8 69,136.1 84.8,112.5 68.4,111.6" fill="#dccb5e"/>
<polygon points="45.4,134.8 69,136.1 69,140.5 45.4,139.4" fill="#c9b244"/>
<polygon points="69,136.1 79,122.5 79,126 69,140.5" fill="#6f6426"/>
<path d="M77,126 L182,125 Q185.5,125.5 185.5,130 L185.5,143.8 L77,142 Z" fill="url(#etlG)"/>
<polygon points="77,139 185.5,140.5 185.5,143.8 77,142" fill="#d2d2d2"/>
<rect x="86" y="63.5" width="92" height="62" fill="url(#gapG)"/>
<line x1="88" y1="64" x2="94" y2="124" stroke="#8a9cb2" stroke-width="1.2" opacity="0.35"/>
<line x1="96" y1="64" x2="102" y2="124" stroke="#8a9cb2" stroke-width="1.2" opacity="0.35"/>
<line x1="104" y1="64" x2="110" y2="124" stroke="#8a9cb2" stroke-width="1.2" opacity="0.35"/>
<line x1="112" y1="64" x2="118" y2="124" stroke="#8a9cb2" stroke-width="1.2" opacity="0.35"/>
<line x1="120" y1="64" x2="126" y2="124" stroke="#8a9cb2" stroke-width="1.2" opacity="0.35"/>
<line x1="128" y1="64" x2="134" y2="124" stroke="#8a9cb2" stroke-width="1.2" opacity="0.35"/>
<line x1="136" y1="64" x2="142" y2="124" stroke="#8a9cb2" stroke-width="1.2" opacity="0.35"/>
<line x1="144" y1="64" x2="150" y2="124" stroke="#8a9cb2" stroke-width="1.2" opacity="0.35"/>
<line x1="152" y1="64" x2="158" y2="124" stroke="#8a9cb2" stroke-width="1.2" opacity="0.35"/>
<line x1="160" y1="64" x2="166" y2="124" stroke="#8a9cb2" stroke-width="1.2" opacity="0.35"/>
<line x1="168" y1="64" x2="174" y2="124" stroke="#8a9cb2" stroke-width="1.2" opacity="0.35"/>
<line x1="176" y1="64" x2="182" y2="124" stroke="#8a9cb2" stroke-width="1.2" opacity="0.35"/>
<polygon points="91.1,63.8 102.4,75.2 91.1,86.6 79.8,75.2" fill="#8a9db5" opacity="0.35"/>
<polygon points="113.7,63.8 125.0,75.2 113.7,86.6 102.4,75.2" fill="#8a9db5" opacity="0.35"/>
<polygon points="136.3,63.8 147.6,75.2 136.3,86.6 125.0,75.2" fill="#8a9db5" opacity="0.35"/>
<polygon points="158.9,63.8 170.2,75.2 158.9,86.6 147.6,75.2" fill="#8a9db5" opacity="0.35"/>
<polygon points="91.1,86.3 102.4,97.7 91.1,109.1 79.8,97.7" fill="#8a9db5" opacity="0.35"/>
<polygon points="113.7,86.3 125.0,97.7 113.7,109.1 102.4,97.7" fill="#8a9db5" opacity="0.35"/>
<polygon points="136.3,86.3 147.6,97.7 136.3,109.1 125.0,97.7" fill="#8a9db5" opacity="0.35"/>
<polygon points="158.9,86.3 170.2,97.7 158.9,109.1 147.6,97.7" fill="#8a9db5" opacity="0.35"/>
<polygon points="91.1,108.8 102.4,120.2 91.1,131.6 79.8,120.2" fill="#8a9db5" opacity="0.35"/>
<polygon points="113.7,108.8 125.0,120.2 113.7,131.6 102.4,120.2" fill="#8a9db5" opacity="0.35"/>
<polygon points="136.3,108.8 147.6,120.2 136.3,131.6 125.0,120.2" fill="#8a9db5" opacity="0.35"/>
<polygon points="158.9,108.8 170.2,120.2 158.9,131.6 147.6,120.2" fill="#8a9db5" opacity="0.35"/>
<circle cx="99.5" cy="88.3" r="4.3" fill="url(#sph)"/>
<circle cx="121.2" cy="88.3" r="4.3" fill="url(#sph)"/>
<circle cx="142.9" cy="88.3" r="4.3" fill="url(#sph)"/>
<circle cx="164.6" cy="88.3" r="4.3" fill="url(#sph)"/>
<circle cx="99.5" cy="109.9" r="4.3" fill="url(#sph)"/>
<circle cx="121.2" cy="109.9" r="4.3" fill="url(#sph)"/>
<circle cx="142.9" cy="109.9" r="4.3" fill="url(#sph)"/>
<circle cx="164.6" cy="109.9" r="4.3" fill="url(#sph)"/>
<polygon points="75.3,56.7 97.89999999999999,56.7 86.6,68.10000000000001" fill="#8196b2" opacity="0.9"/>
<polygon points="97.9,56.7 120.5,56.7 109.2,68.10000000000001" fill="#8196b2" opacity="0.9"/>
<polygon points="120.50000000000001,56.7 143.10000000000002,56.7 131.8,68.10000000000001" fill="#8196b2" opacity="0.9"/>
<polygon points="143.1,56.7 165.70000000000002,56.7 154.4,68.10000000000001" fill="#8196b2" opacity="0.9"/>
<polygon points="165.7,56.7 188.3,56.7 177.0,68.10000000000001" fill="#8196b2" opacity="0.9"/>
<polygon points="86.6,67.8 97.89999999999999,79.2 86.6,90.60000000000001 75.3,79.2" fill="#97aac4" fill-opacity="0.95" stroke="#b2c0d8" stroke-width="0.6"/>
<polygon points="86.6,67.8 97.89999999999999,79.2 86.6,79.2" fill="#a6b7cf" opacity="0.55"/>
<polygon points="75.3,79.2 86.6,90.60000000000001 86.6,79.2" fill="#8597b3" opacity="0.45"/>
<line x1="86.6" y1="67.8" x2="86.6" y2="90.60000000000001" stroke="#b4c2da" stroke-width="0.5"/>
<line x1="75.3" y1="79.2" x2="97.89999999999999" y2="79.2" stroke="#b4c2da" stroke-width="0.5"/>
<polygon points="109.2,67.8 120.5,79.2 109.2,90.60000000000001 97.9,79.2" fill="#97aac4" fill-opacity="0.95" stroke="#b2c0d8" stroke-width="0.6"/>
<polygon points="109.2,67.8 120.5,79.2 109.2,79.2" fill="#a6b7cf" opacity="0.55"/>
<polygon points="97.9,79.2 109.2,90.60000000000001 109.2,79.2" fill="#8597b3" opacity="0.45"/>
<line x1="109.2" y1="67.8" x2="109.2" y2="90.60000000000001" stroke="#b4c2da" stroke-width="0.5"/>
<line x1="97.9" y1="79.2" x2="120.5" y2="79.2" stroke="#b4c2da" stroke-width="0.5"/>
<polygon points="131.8,67.8 143.10000000000002,79.2 131.8,90.60000000000001 120.50000000000001,79.2" fill="#97aac4" fill-opacity="0.95" stroke="#b2c0d8" stroke-width="0.6"/>
<polygon points="131.8,67.8 143.10000000000002,79.2 131.8,79.2" fill="#a6b7cf" opacity="0.55"/>
<polygon points="120.50000000000001,79.2 131.8,90.60000000000001 131.8,79.2" fill="#8597b3" opacity="0.45"/>
<line x1="131.8" y1="67.8" x2="131.8" y2="90.60000000000001" stroke="#b4c2da" stroke-width="0.5"/>
<line x1="120.50000000000001" y1="79.2" x2="143.10000000000002" y2="79.2" stroke="#b4c2da" stroke-width="0.5"/>
<polygon points="154.4,67.8 165.70000000000002,79.2 154.4,90.60000000000001 143.1,79.2" fill="#97aac4" fill-opacity="0.95" stroke="#b2c0d8" stroke-width="0.6"/>
<polygon points="154.4,67.8 165.70000000000002,79.2 154.4,79.2" fill="#a6b7cf" opacity="0.55"/>
<polygon points="143.1,79.2 154.4,90.60000000000001 154.4,79.2" fill="#8597b3" opacity="0.45"/>
<line x1="154.4" y1="67.8" x2="154.4" y2="90.60000000000001" stroke="#b4c2da" stroke-width="0.5"/>
<line x1="143.1" y1="79.2" x2="165.70000000000002" y2="79.2" stroke="#b4c2da" stroke-width="0.5"/>
<polygon points="177.0,67.8 187.39600000000002,79.2 177.0,90.60000000000001 166.60399999999998,79.2" fill="#97aac4" fill-opacity="0.95" stroke="#b2c0d8" stroke-width="0.6"/>
<polygon points="177.0,67.8 187.39600000000002,79.2 177.0,79.2" fill="#a6b7cf" opacity="0.55"/>
<polygon points="166.60399999999998,79.2 177.0,90.60000000000001 177.0,79.2" fill="#8597b3" opacity="0.45"/>
<line x1="177.0" y1="67.8" x2="177.0" y2="90.60000000000001" stroke="#b4c2da" stroke-width="0.5"/>
<line x1="166.60399999999998" y1="79.2" x2="187.39600000000002" y2="79.2" stroke="#b4c2da" stroke-width="0.5"/>
<polygon points="86.6,90.3 97.89999999999999,101.7 86.6,113.10000000000001 75.3,101.7" fill="#97aac4" fill-opacity="0.95" stroke="#b2c0d8" stroke-width="0.6"/>
<polygon points="86.6,90.3 97.89999999999999,101.7 86.6,101.7" fill="#a6b7cf" opacity="0.55"/>
<polygon points="75.3,101.7 86.6,113.10000000000001 86.6,101.7" fill="#8597b3" opacity="0.45"/>
<line x1="86.6" y1="90.3" x2="86.6" y2="113.10000000000001" stroke="#b4c2da" stroke-width="0.5"/>
<line x1="75.3" y1="101.7" x2="97.89999999999999" y2="101.7" stroke="#b4c2da" stroke-width="0.5"/>
<polygon points="109.2,90.3 120.5,101.7 109.2,113.10000000000001 97.9,101.7" fill="#97aac4" fill-opacity="0.95" stroke="#b2c0d8" stroke-width="0.6"/>
<polygon points="109.2,90.3 120.5,101.7 109.2,101.7" fill="#a6b7cf" opacity="0.55"/>
<polygon points="97.9,101.7 109.2,113.10000000000001 109.2,101.7" fill="#8597b3" opacity="0.45"/>
<line x1="109.2" y1="90.3" x2="109.2" y2="113.10000000000001" stroke="#b4c2da" stroke-width="0.5"/>
<line x1="97.9" y1="101.7" x2="120.5" y2="101.7" stroke="#b4c2da" stroke-width="0.5"/>
<polygon points="131.8,90.3 143.10000000000002,101.7 131.8,113.10000000000001 120.50000000000001,101.7" fill="#97aac4" fill-opacity="0.95" stroke="#b2c0d8" stroke-width="0.6"/>
<polygon points="131.8,90.3 143.10000000000002,101.7 131.8,101.7" fill="#a6b7cf" opacity="0.55"/>
<polygon points="120.50000000000001,101.7 131.8,113.10000000000001 131.8,101.7" fill="#8597b3" opacity="0.45"/>
<line x1="131.8" y1="90.3" x2="131.8" y2="113.10000000000001" stroke="#b4c2da" stroke-width="0.5"/>
<line x1="120.50000000000001" y1="101.7" x2="143.10000000000002" y2="101.7" stroke="#b4c2da" stroke-width="0.5"/>
<polygon points="154.4,90.3 165.70000000000002,101.7 154.4,113.10000000000001 143.1,101.7" fill="#97aac4" fill-opacity="0.95" stroke="#b2c0d8" stroke-width="0.6"/>
<polygon points="154.4,90.3 165.70000000000002,101.7 154.4,101.7" fill="#a6b7cf" opacity="0.55"/>
<polygon points="143.1,101.7 154.4,113.10000000000001 154.4,101.7" fill="#8597b3" opacity="0.45"/>
<line x1="154.4" y1="90.3" x2="154.4" y2="113.10000000000001" stroke="#b4c2da" stroke-width="0.5"/>
<line x1="143.1" y1="101.7" x2="165.70000000000002" y2="101.7" stroke="#b4c2da" stroke-width="0.5"/>
<polygon points="177.0,90.3 187.39600000000002,101.7 177.0,113.10000000000001 166.60399999999998,101.7" fill="#97aac4" fill-opacity="0.95" stroke="#b2c0d8" stroke-width="0.6"/>
<polygon points="177.0,90.3 187.39600000000002,101.7 177.0,101.7" fill="#a6b7cf" opacity="0.55"/>
<polygon points="166.60399999999998,101.7 177.0,113.10000000000001 177.0,101.7" fill="#8597b3" opacity="0.45"/>
<line x1="177.0" y1="90.3" x2="177.0" y2="113.10000000000001" stroke="#b4c2da" stroke-width="0.5"/>
<line x1="166.60399999999998" y1="101.7" x2="187.39600000000002" y2="101.7" stroke="#b4c2da" stroke-width="0.5"/>
<polygon points="86.6,112.8 97.89999999999999,124.2 86.6,135.6 75.3,124.2" fill="#97aac4" fill-opacity="0.95" stroke="#b2c0d8" stroke-width="0.6"/>
<polygon points="86.6,112.8 97.89999999999999,124.2 86.6,124.2" fill="#a6b7cf" opacity="0.55"/>
<polygon points="75.3,124.2 86.6,135.6 86.6,124.2" fill="#8597b3" opacity="0.45"/>
<line x1="86.6" y1="112.8" x2="86.6" y2="135.6" stroke="#b4c2da" stroke-width="0.5"/>
<line x1="75.3" y1="124.2" x2="97.89999999999999" y2="124.2" stroke="#b4c2da" stroke-width="0.5"/>
<polygon points="109.2,112.8 120.5,124.2 109.2,135.6 97.9,124.2" fill="#97aac4" fill-opacity="0.95" stroke="#b2c0d8" stroke-width="0.6"/>
<polygon points="109.2,112.8 120.5,124.2 109.2,124.2" fill="#a6b7cf" opacity="0.55"/>
<polygon points="97.9,124.2 109.2,135.6 109.2,124.2" fill="#8597b3" opacity="0.45"/>
<line x1="109.2" y1="112.8" x2="109.2" y2="135.6" stroke="#b4c2da" stroke-width="0.5"/>
<line x1="97.9" y1="124.2" x2="120.5" y2="124.2" stroke="#b4c2da" stroke-width="0.5"/>
<polygon points="131.8,112.8 143.10000000000002,124.2 131.8,135.6 120.50000000000001,124.2" fill="#97aac4" fill-opacity="0.95" stroke="#b2c0d8" stroke-width="0.6"/>
<polygon points="131.8,112.8 143.10000000000002,124.2 131.8,124.2" fill="#a6b7cf" opacity="0.55"/>
<polygon points="120.50000000000001,124.2 131.8,135.6 131.8,124.2" fill="#8597b3" opacity="0.45"/>
<line x1="131.8" y1="112.8" x2="131.8" y2="135.6" stroke="#b4c2da" stroke-width="0.5"/>
<line x1="120.50000000000001" y1="124.2" x2="143.10000000000002" y2="124.2" stroke="#b4c2da" stroke-width="0.5"/>
<polygon points="154.4,112.8 165.70000000000002,124.2 154.4,135.6 143.1,124.2" fill="#97aac4" fill-opacity="0.95" stroke="#b2c0d8" stroke-width="0.6"/>
<polygon points="154.4,112.8 165.70000000000002,124.2 154.4,124.2" fill="#a6b7cf" opacity="0.55"/>
<polygon points="143.1,124.2 154.4,135.6 154.4,124.2" fill="#8597b3" opacity="0.45"/>
<line x1="154.4" y1="112.8" x2="154.4" y2="135.6" stroke="#b4c2da" stroke-width="0.5"/>
<line x1="143.1" y1="124.2" x2="165.70000000000002" y2="124.2" stroke="#b4c2da" stroke-width="0.5"/>
<polygon points="177.0,112.8 187.39600000000002,124.2 177.0,135.6 166.60399999999998,124.2" fill="#97aac4" fill-opacity="0.95" stroke="#b2c0d8" stroke-width="0.6"/>
<polygon points="177.0,112.8 187.39600000000002,124.2 177.0,124.2" fill="#a6b7cf" opacity="0.55"/>
<polygon points="166.60399999999998,124.2 177.0,135.6 177.0,124.2" fill="#8597b3" opacity="0.45"/>
<line x1="177.0" y1="112.8" x2="177.0" y2="135.6" stroke="#b4c2da" stroke-width="0.5"/>
<line x1="166.60399999999998" y1="124.2" x2="187.39600000000002" y2="124.2" stroke="#b4c2da" stroke-width="0.5"/>
<circle cx="88.1" cy="77.7" r="3.6" fill="#a9c4bf" opacity="0.35"/>
<circle cx="110.7" cy="77.7" r="3.6" fill="#a9c4bf" opacity="0.35"/>
<circle cx="133.3" cy="77.7" r="3.6" fill="#a9c4bf" opacity="0.35"/>
<circle cx="155.9" cy="77.7" r="3.6" fill="#a9c4bf" opacity="0.35"/>
<circle cx="178.5" cy="77.7" r="3.6" fill="#a9c4bf" opacity="0.35"/>
<circle cx="88.1" cy="100.2" r="3.6" fill="#a9c4bf" opacity="0.35"/>
<circle cx="110.7" cy="100.2" r="3.6" fill="#a9c4bf" opacity="0.35"/>
<circle cx="133.3" cy="100.2" r="3.6" fill="#a9c4bf" opacity="0.35"/>
<circle cx="155.9" cy="100.2" r="3.6" fill="#a9c4bf" opacity="0.35"/>
<circle cx="178.5" cy="100.2" r="3.6" fill="#a9c4bf" opacity="0.35"/>
<circle cx="88.1" cy="122.7" r="3.6" fill="#a9c4bf" opacity="0.35"/>
<circle cx="110.7" cy="122.7" r="3.6" fill="#a9c4bf" opacity="0.35"/>
<circle cx="133.3" cy="122.7" r="3.6" fill="#a9c4bf" opacity="0.35"/>
<circle cx="155.9" cy="122.7" r="3.6" fill="#a9c4bf" opacity="0.35"/>
<circle cx="178.5" cy="122.7" r="3.6" fill="#a9c4bf" opacity="0.35"/>
<circle cx="86.6" cy="67.8" r="0.75" fill="#b78ee6"/>
<circle cx="97.9" cy="79.2" r="0.75" fill="#b78ee6"/>
<circle cx="86.6" cy="90.6" r="0.75" fill="#b78ee6"/>
<circle cx="75.3" cy="79.2" r="0.75" fill="#b78ee6"/>
<circle cx="109.2" cy="67.8" r="0.75" fill="#b78ee6"/>
<circle cx="120.5" cy="79.2" r="0.75" fill="#b78ee6"/>
<circle cx="109.2" cy="90.6" r="0.75" fill="#b78ee6"/>
<circle cx="97.9" cy="79.2" r="0.75" fill="#b78ee6"/>
<circle cx="131.8" cy="67.8" r="0.75" fill="#b78ee6"/>
<circle cx="143.1" cy="79.2" r="0.75" fill="#b78ee6"/>
<circle cx="131.8" cy="90.6" r="0.75" fill="#b78ee6"/>
<circle cx="120.5" cy="79.2" r="0.75" fill="#b78ee6"/>
<circle cx="154.4" cy="67.8" r="0.75" fill="#b78ee6"/>
<circle cx="165.7" cy="79.2" r="0.75" fill="#b78ee6"/>
<circle cx="154.4" cy="90.6" r="0.75" fill="#b78ee6"/>
<circle cx="143.1" cy="79.2" r="0.75" fill="#b78ee6"/>
<circle cx="177.0" cy="67.8" r="0.75" fill="#b78ee6"/>
<circle cx="188.3" cy="79.2" r="0.75" fill="#b78ee6"/>
<circle cx="177.0" cy="90.6" r="0.75" fill="#b78ee6"/>
<circle cx="165.7" cy="79.2" r="0.75" fill="#b78ee6"/>
<circle cx="86.6" cy="90.3" r="0.75" fill="#b78ee6"/>
<circle cx="97.9" cy="101.7" r="0.75" fill="#b78ee6"/>
<circle cx="86.6" cy="113.1" r="0.75" fill="#b78ee6"/>
<circle cx="75.3" cy="101.7" r="0.75" fill="#b78ee6"/>
<circle cx="109.2" cy="90.3" r="0.75" fill="#b78ee6"/>
<circle cx="120.5" cy="101.7" r="0.75" fill="#b78ee6"/>
<circle cx="109.2" cy="113.1" r="0.75" fill="#b78ee6"/>
<circle cx="97.9" cy="101.7" r="0.75" fill="#b78ee6"/>
<circle cx="131.8" cy="90.3" r="0.75" fill="#b78ee6"/>
<circle cx="143.1" cy="101.7" r="0.75" fill="#b78ee6"/>
<circle cx="131.8" cy="113.1" r="0.75" fill="#b78ee6"/>
<circle cx="120.5" cy="101.7" r="0.75" fill="#b78ee6"/>
<circle cx="154.4" cy="90.3" r="0.75" fill="#b78ee6"/>
<circle cx="165.7" cy="101.7" r="0.75" fill="#b78ee6"/>
<circle cx="154.4" cy="113.1" r="0.75" fill="#b78ee6"/>
<circle cx="143.1" cy="101.7" r="0.75" fill="#b78ee6"/>
<circle cx="177.0" cy="90.3" r="0.75" fill="#b78ee6"/>
<circle cx="188.3" cy="101.7" r="0.75" fill="#b78ee6"/>
<circle cx="177.0" cy="113.1" r="0.75" fill="#b78ee6"/>
<circle cx="165.7" cy="101.7" r="0.75" fill="#b78ee6"/>
<circle cx="86.6" cy="112.8" r="0.75" fill="#b78ee6"/>
<circle cx="97.9" cy="124.2" r="0.75" fill="#b78ee6"/>
<circle cx="86.6" cy="135.6" r="0.75" fill="#b78ee6"/>
<circle cx="75.3" cy="124.2" r="0.75" fill="#b78ee6"/>
<circle cx="109.2" cy="112.8" r="0.75" fill="#b78ee6"/>
<circle cx="120.5" cy="124.2" r="0.75" fill="#b78ee6"/>
<circle cx="109.2" cy="135.6" r="0.75" fill="#b78ee6"/>
<circle cx="97.9" cy="124.2" r="0.75" fill="#b78ee6"/>
<circle cx="131.8" cy="112.8" r="0.75" fill="#b78ee6"/>
<circle cx="143.1" cy="124.2" r="0.75" fill="#b78ee6"/>
<circle cx="131.8" cy="135.6" r="0.75" fill="#b78ee6"/>
<circle cx="120.5" cy="124.2" r="0.75" fill="#b78ee6"/>
<circle cx="154.4" cy="112.8" r="0.75" fill="#b78ee6"/>
<circle cx="165.7" cy="124.2" r="0.75" fill="#b78ee6"/>
<circle cx="154.4" cy="135.6" r="0.75" fill="#b78ee6"/>
<circle cx="143.1" cy="124.2" r="0.75" fill="#b78ee6"/>
<circle cx="177.0" cy="112.8" r="0.75" fill="#b78ee6"/>
<circle cx="188.3" cy="124.2" r="0.75" fill="#b78ee6"/>
<circle cx="177.0" cy="135.6" r="0.75" fill="#b78ee6"/>
<circle cx="165.7" cy="124.2" r="0.75" fill="#b78ee6"/>
<path d="M72.6,58.8 L190,58.8 L194.2,61.9 L190,64.3 L72.6,63.8 Q71.6,61.3 72.6,58.8 Z" fill="#add8a4"/>
<path d="M73.2,59 L190,59 L193.2,61.4 L73.2,61.9 Z" fill="#5f975b" opacity="0.9"/>
<path d="M72.6,53.6 L190,53.6 Q194,55.5 193,57.5 Q191,59 189,59.2 L72.6,59.2 Z" fill="#e5f3da"/>
<path d="M72.1,48.8 Q76,45 96.6,40.3 L186,40.3 Q193.7,44 193.7,48 L193.7,51.5 L72.1,51.8 Z" fill="url(#htlG)"/>
<path d="M73.5,51.4 L193.7,51.4 L193.7,53.8 L75,53.8 Q72.5,52.8 73.5,51.4 Z" fill="#c9a586"/>
<circle cx="75.4" cy="51.6" r="3.5" fill="#d4efe7"/>
<circle cx="80.8" cy="56.6" r="2.5" fill="#d4efe7"/>
<circle cx="84.6" cy="60.6" r="1.1" fill="#f2faf7"/>
<polygon points="97.1,40.8 101.69999999999999,36.7 129.8,36.7 123.20000000000002,40.8" fill="#e9d163"/>
<polygon points="97.1,40.8 123.20000000000002,40.8 123.20000000000002,44.3 97.1,44.3" fill="#d2b03e"/>
<polygon points="123.20000000000002,40.8 129.8,36.7 129.8,40 123.20000000000002,44.3" fill="#b8982c"/>
<line x1="105.1" y1="38.8" x2="121.20000000000002" y2="38.8" stroke="#c9a93c" stroke-width="0.6"/>
<polygon points="142.8,40.8 147.4,36.7 168.3,36.7 161.70000000000002,40.8" fill="#e9d163"/>
<polygon points="142.8,40.8 161.70000000000002,40.8 161.70000000000002,44.3 142.8,44.3" fill="#d2b03e"/>
<polygon points="161.70000000000002,40.8 168.3,36.7 168.3,40 161.70000000000002,44.3" fill="#b8982c"/>
<line x1="150.8" y1="38.8" x2="159.70000000000002" y2="38.8" stroke="#c9a93c" stroke-width="0.6"/>
<text x="171" y="38.9" font-size="16.5" text-anchor="start" fill="#e3b42e" stroke="#e3b42e" stroke-width="0.25" font-weight="bold" font-style="normal" font-family="'Liberation Sans', sans-serif" >Au</text>
<text x="171.8" y="57.8" font-size="16.5" text-anchor="start" fill="#e8773a" stroke="#e8773a" stroke-width="0.25" font-weight="bold" font-style="normal" font-family="'Liberation Sans', sans-serif" >HTL</text>
<text x="171.8" y="112.3" font-size="16.5" text-anchor="start" fill="#3a78c0" stroke="#3a78c0" stroke-width="0.25" font-weight="bold" font-style="normal" font-family="'Liberation Sans', sans-serif" >PVK</text>
<text x="171.3" y="150.1" font-size="16.5" text-anchor="start" fill="#808080" stroke="#808080" stroke-width="0.25" font-weight="bold" font-style="normal" font-family="'Liberation Sans', sans-serif" >ETL</text>
</svg></body></html>
